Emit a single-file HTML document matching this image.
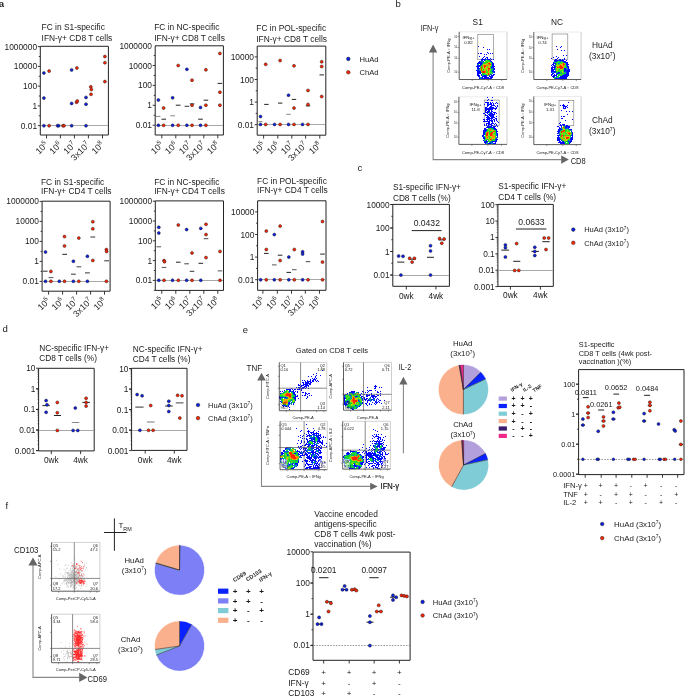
<!DOCTYPE html>
<html><head><meta charset="utf-8"><style>
html,body{margin:0;padding:0;background:#fff;}
svg{display:block;will-change:transform;filter:blur(0.3px);}
text{font-family:"Liberation Sans", sans-serif;fill:#1a1a1a;}
</style></head><body>
<svg width="685" height="697" viewBox="0 0 685 697">
<rect width="685" height="697" fill="#fff"/>
<text x="-1.2" y="7.2" font-size="9.6" font-weight="bold">a</text>
<path d="M40.3 46.3H108.4V135H40.3Z" fill="none" stroke="#222" stroke-width="1"/>
<line x1="37.8" y1="125.66" x2="40.3" y2="125.66" stroke="#222" stroke-width="0.9"/>
<line x1="38.8" y1="115.78" x2="40.3" y2="115.78" stroke="#222" stroke-width="0.9"/>
<line x1="37.8" y1="105.9" x2="40.3" y2="105.9" stroke="#222" stroke-width="0.9"/>
<line x1="38.8" y1="96.02" x2="40.3" y2="96.02" stroke="#222" stroke-width="0.9"/>
<line x1="37.8" y1="86.14" x2="40.3" y2="86.14" stroke="#222" stroke-width="0.9"/>
<line x1="38.8" y1="76.26" x2="40.3" y2="76.26" stroke="#222" stroke-width="0.9"/>
<line x1="37.8" y1="66.38" x2="40.3" y2="66.38" stroke="#222" stroke-width="0.9"/>
<line x1="38.8" y1="56.5" x2="40.3" y2="56.5" stroke="#222" stroke-width="0.9"/>
<line x1="37.8" y1="46.62" x2="40.3" y2="46.62" stroke="#222" stroke-width="0.9"/>
<text x="37.1" y="49.62" font-size="8.4" text-anchor="end">1000000</text>
<text x="37.1" y="69.38" font-size="8.4" text-anchor="end">10000</text>
<text x="37.1" y="89.14" font-size="8.4" text-anchor="end">100</text>
<text x="37.1" y="108.9" font-size="8.4" text-anchor="end">1</text>
<text x="37.1" y="128.66" font-size="8.4" text-anchor="end">0.01</text>
<line x1="40.8" y1="125.5" x2="107.9" y2="125.5" stroke="#8c8c8c" stroke-width="0.75"/>
<line x1="46.5" y1="135" x2="46.5" y2="138.4" stroke="#222" stroke-width="0.9"/>
<line x1="60.4" y1="135" x2="60.4" y2="138.4" stroke="#222" stroke-width="0.9"/>
<line x1="74.4" y1="135" x2="74.4" y2="138.4" stroke="#222" stroke-width="0.9"/>
<line x1="88.4" y1="135" x2="88.4" y2="138.4" stroke="#222" stroke-width="0.9"/>
<line x1="102.5" y1="135" x2="102.5" y2="138.4" stroke="#222" stroke-width="0.9"/>
<text x="48.5" y="145.3" font-size="8.8" text-anchor="end" transform="rotate(-45 48.5 145.3)">10<tspan dy="-3.4" font-size="6.2">5</tspan></text>
<text x="62.4" y="145.3" font-size="8.8" text-anchor="end" transform="rotate(-45 62.4 145.3)">10<tspan dy="-3.4" font-size="6.2">6</tspan></text>
<text x="76.4" y="145.3" font-size="8.8" text-anchor="end" transform="rotate(-45 76.4 145.3)">10<tspan dy="-3.4" font-size="6.2">7</tspan></text>
<text x="90.4" y="145.3" font-size="8.8" text-anchor="end" transform="rotate(-45 90.4 145.3)">3x10<tspan dy="-3.4" font-size="6.2">7</tspan></text>
<text x="104.5" y="145.3" font-size="8.8" text-anchor="end" transform="rotate(-45 104.5 145.3)">10<tspan dy="-3.4" font-size="6.2">8</tspan></text>
<text x="41.6" y="29.8" font-size="8.4">FC in S1-specific</text>
<text x="41.6" y="40.7" font-size="8.4">IFN-γ+ CD8 T cells</text>
<circle cx="43.9" cy="73" r="1.5" fill="#0a1ee6" stroke="#202020" stroke-width="0.5"/>
<circle cx="43.9" cy="98.1" r="1.5" fill="#0a1ee6" stroke="#202020" stroke-width="0.5"/>
<circle cx="43.9" cy="125.7" r="1.5" fill="#0a1ee6" stroke="#202020" stroke-width="0.5"/>
<circle cx="49.1" cy="71.1" r="1.5" fill="#ff2200" stroke="#202020" stroke-width="0.5"/>
<circle cx="49.1" cy="125.7" r="1.5" fill="#ff2200" stroke="#202020" stroke-width="0.5"/>
<circle cx="57.6" cy="125.7" r="1.5" fill="#0a1ee6" stroke="#202020" stroke-width="0.5"/>
<circle cx="58.6" cy="125.7" r="1.5" fill="#0a1ee6" stroke="#202020" stroke-width="0.5"/>
<circle cx="63" cy="125.7" r="1.5" fill="#ff2200" stroke="#202020" stroke-width="0.5"/>
<circle cx="64" cy="125.7" r="1.5" fill="#ff2200" stroke="#202020" stroke-width="0.5"/>
<circle cx="71.6" cy="69.9" r="1.5" fill="#0a1ee6" stroke="#202020" stroke-width="0.5"/>
<circle cx="71.6" cy="103.4" r="1.5" fill="#0a1ee6" stroke="#202020" stroke-width="0.5"/>
<circle cx="71.6" cy="125.7" r="1.5" fill="#0a1ee6" stroke="#202020" stroke-width="0.5"/>
<circle cx="76.9" cy="68" r="1.5" fill="#ff2200" stroke="#202020" stroke-width="0.5"/>
<circle cx="76.6" cy="102.2" r="1.5" fill="#ff2200" stroke="#202020" stroke-width="0.5"/>
<circle cx="77.3" cy="101" r="1.5" fill="#ff2200" stroke="#202020" stroke-width="0.5"/>
<circle cx="86" cy="97.4" r="1.5" fill="#0a1ee6" stroke="#202020" stroke-width="0.5"/>
<circle cx="86" cy="104.2" r="1.5" fill="#0a1ee6" stroke="#202020" stroke-width="0.5"/>
<circle cx="86" cy="125.7" r="1.5" fill="#0a1ee6" stroke="#202020" stroke-width="0.5"/>
<circle cx="90.8" cy="86.8" r="1.5" fill="#ff2200" stroke="#202020" stroke-width="0.5"/>
<circle cx="91.3" cy="89.5" r="1.5" fill="#ff2200" stroke="#202020" stroke-width="0.5"/>
<circle cx="91" cy="94.3" r="1.5" fill="#ff2200" stroke="#202020" stroke-width="0.5"/>
<circle cx="104.9" cy="56.5" r="1.5" fill="#ff2200" stroke="#202020" stroke-width="0.5"/>
<circle cx="104.9" cy="62.7" r="1.5" fill="#ff2200" stroke="#202020" stroke-width="0.5"/>
<circle cx="104.9" cy="81.6" r="1.5" fill="#ff2200" stroke="#202020" stroke-width="0.5"/>
<path d="M155.2 45.8H223.4V135H155.2Z" fill="none" stroke="#222" stroke-width="1"/>
<line x1="152.7" y1="125.2" x2="155.2" y2="125.2" stroke="#222" stroke-width="0.9"/>
<line x1="153.7" y1="115.25" x2="155.2" y2="115.25" stroke="#222" stroke-width="0.9"/>
<line x1="152.7" y1="105.3" x2="155.2" y2="105.3" stroke="#222" stroke-width="0.9"/>
<line x1="153.7" y1="95.35" x2="155.2" y2="95.35" stroke="#222" stroke-width="0.9"/>
<line x1="152.7" y1="85.4" x2="155.2" y2="85.4" stroke="#222" stroke-width="0.9"/>
<line x1="153.7" y1="75.45" x2="155.2" y2="75.45" stroke="#222" stroke-width="0.9"/>
<line x1="152.7" y1="65.5" x2="155.2" y2="65.5" stroke="#222" stroke-width="0.9"/>
<line x1="153.7" y1="55.55" x2="155.2" y2="55.55" stroke="#222" stroke-width="0.9"/>
<text x="152" y="48.6" font-size="8.4" text-anchor="end">1000000</text>
<text x="152" y="68.5" font-size="8.4" text-anchor="end">10000</text>
<text x="152" y="88.4" font-size="8.4" text-anchor="end">100</text>
<text x="152" y="108.3" font-size="8.4" text-anchor="end">1</text>
<text x="152" y="128.2" font-size="8.4" text-anchor="end">0.01</text>
<line x1="155.7" y1="125.5" x2="222.9" y2="125.5" stroke="#8c8c8c" stroke-width="0.75"/>
<line x1="161.8" y1="135" x2="161.8" y2="138.4" stroke="#222" stroke-width="0.9"/>
<line x1="175.8" y1="135" x2="175.8" y2="138.4" stroke="#222" stroke-width="0.9"/>
<line x1="189.8" y1="135" x2="189.8" y2="138.4" stroke="#222" stroke-width="0.9"/>
<line x1="203.8" y1="135" x2="203.8" y2="138.4" stroke="#222" stroke-width="0.9"/>
<line x1="217.8" y1="135" x2="217.8" y2="138.4" stroke="#222" stroke-width="0.9"/>
<text x="163.8" y="145.3" font-size="8.8" text-anchor="end" transform="rotate(-45 163.8 145.3)">10<tspan dy="-3.4" font-size="6.2">5</tspan></text>
<text x="177.8" y="145.3" font-size="8.8" text-anchor="end" transform="rotate(-45 177.8 145.3)">10<tspan dy="-3.4" font-size="6.2">6</tspan></text>
<text x="191.8" y="145.3" font-size="8.8" text-anchor="end" transform="rotate(-45 191.8 145.3)">10<tspan dy="-3.4" font-size="6.2">7</tspan></text>
<text x="205.8" y="145.3" font-size="8.8" text-anchor="end" transform="rotate(-45 205.8 145.3)">3x10<tspan dy="-3.4" font-size="6.2">7</tspan></text>
<text x="219.8" y="145.3" font-size="8.8" text-anchor="end" transform="rotate(-45 219.8 145.3)">10<tspan dy="-3.4" font-size="6.2">8</tspan></text>
<text x="154.2" y="29.6" font-size="8.4">FC in NC-specific</text>
<text x="154.2" y="40.5" font-size="8.4">IFN-γ+ CD8 T cells</text>
<line x1="156" y1="116.4" x2="160.5" y2="116.4" stroke="#888" stroke-width="1"/>
<line x1="161.5" y1="119.2" x2="166" y2="119.2" stroke="#222" stroke-width="1"/>
<line x1="170.4" y1="115.8" x2="175" y2="115.8" stroke="#888" stroke-width="1"/>
<line x1="175.8" y1="105.2" x2="180.5" y2="105.2" stroke="#222" stroke-width="1"/>
<line x1="184.6" y1="106.3" x2="189.2" y2="106.3" stroke="#333" stroke-width="1"/>
<line x1="189.8" y1="103.9" x2="194.4" y2="103.9" stroke="#333" stroke-width="1"/>
<line x1="198.2" y1="119.2" x2="202.8" y2="119.2" stroke="#222" stroke-width="1"/>
<line x1="203.6" y1="100.2" x2="208.2" y2="100.2" stroke="#222" stroke-width="1"/>
<line x1="217.6" y1="83.4" x2="222.2" y2="83.4" stroke="#222" stroke-width="1"/>
<circle cx="158.4" cy="100" r="1.5" fill="#0a1ee6" stroke="#202020" stroke-width="0.5"/>
<circle cx="158.4" cy="125.3" r="1.5" fill="#0a1ee6" stroke="#202020" stroke-width="0.5"/>
<circle cx="163.6" cy="108" r="1.5" fill="#ff2200" stroke="#202020" stroke-width="0.5"/>
<circle cx="163.6" cy="125.3" r="1.5" fill="#ff2200" stroke="#202020" stroke-width="0.5"/>
<circle cx="172.6" cy="97.8" r="1.5" fill="#0a1ee6" stroke="#202020" stroke-width="0.5"/>
<circle cx="172.6" cy="125.3" r="1.5" fill="#0a1ee6" stroke="#202020" stroke-width="0.5"/>
<circle cx="178.2" cy="65.5" r="1.5" fill="#ff2200" stroke="#202020" stroke-width="0.5"/>
<circle cx="178.2" cy="125.3" r="1.5" fill="#ff2200" stroke="#202020" stroke-width="0.5"/>
<circle cx="186.9" cy="69.3" r="1.5" fill="#0a1ee6" stroke="#202020" stroke-width="0.5"/>
<circle cx="186.9" cy="125.3" r="1.5" fill="#0a1ee6" stroke="#202020" stroke-width="0.5"/>
<circle cx="192" cy="80.2" r="1.5" fill="#ff2200" stroke="#202020" stroke-width="0.5"/>
<circle cx="192" cy="105.2" r="1.5" fill="#ff2200" stroke="#202020" stroke-width="0.5"/>
<circle cx="192" cy="125.3" r="1.5" fill="#ff2200" stroke="#202020" stroke-width="0.5"/>
<circle cx="200.5" cy="107.4" r="1.5" fill="#0a1ee6" stroke="#202020" stroke-width="0.5"/>
<circle cx="200.5" cy="125.3" r="1.5" fill="#0a1ee6" stroke="#202020" stroke-width="0.5"/>
<circle cx="205.9" cy="69.8" r="1.5" fill="#ff2200" stroke="#202020" stroke-width="0.5"/>
<circle cx="205.9" cy="105.2" r="1.5" fill="#ff2200" stroke="#202020" stroke-width="0.5"/>
<circle cx="205.9" cy="125.3" r="1.5" fill="#ff2200" stroke="#202020" stroke-width="0.5"/>
<circle cx="219.9" cy="53.4" r="1.5" fill="#ff2200" stroke="#202020" stroke-width="0.5"/>
<circle cx="219.9" cy="92.2" r="1.5" fill="#ff2200" stroke="#202020" stroke-width="0.5"/>
<circle cx="219.9" cy="105.2" r="1.5" fill="#ff2200" stroke="#202020" stroke-width="0.5"/>
<path d="M257.2 46.1H325.8V135.2H257.2Z" fill="none" stroke="#222" stroke-width="1"/>
<line x1="254.7" y1="124.7" x2="257.2" y2="124.7" stroke="#222" stroke-width="0.9"/>
<line x1="255.7" y1="113.4" x2="257.2" y2="113.4" stroke="#222" stroke-width="0.9"/>
<line x1="254.7" y1="102.1" x2="257.2" y2="102.1" stroke="#222" stroke-width="0.9"/>
<line x1="255.7" y1="90.8" x2="257.2" y2="90.8" stroke="#222" stroke-width="0.9"/>
<line x1="254.7" y1="79.5" x2="257.2" y2="79.5" stroke="#222" stroke-width="0.9"/>
<line x1="255.7" y1="68.2" x2="257.2" y2="68.2" stroke="#222" stroke-width="0.9"/>
<line x1="254.7" y1="56.9" x2="257.2" y2="56.9" stroke="#222" stroke-width="0.9"/>
<text x="254" y="59.9" font-size="8.4" text-anchor="end">10000</text>
<text x="254" y="82.5" font-size="8.4" text-anchor="end">100</text>
<text x="254" y="105.1" font-size="8.4" text-anchor="end">1</text>
<text x="254" y="127.7" font-size="8.4" text-anchor="end">0.01</text>
<line x1="257.7" y1="124.5" x2="325.3" y2="124.5" stroke="#8c8c8c" stroke-width="0.75"/>
<line x1="263.6" y1="135.2" x2="263.6" y2="138.6" stroke="#222" stroke-width="0.9"/>
<line x1="277.8" y1="135.2" x2="277.8" y2="138.6" stroke="#222" stroke-width="0.9"/>
<line x1="291.8" y1="135.2" x2="291.8" y2="138.6" stroke="#222" stroke-width="0.9"/>
<line x1="305.6" y1="135.2" x2="305.6" y2="138.6" stroke="#222" stroke-width="0.9"/>
<line x1="319.8" y1="135.2" x2="319.8" y2="138.6" stroke="#222" stroke-width="0.9"/>
<text x="265.6" y="145.5" font-size="8.8" text-anchor="end" transform="rotate(-45 265.6 145.5)">10<tspan dy="-3.4" font-size="6.2">5</tspan></text>
<text x="279.8" y="145.5" font-size="8.8" text-anchor="end" transform="rotate(-45 279.8 145.5)">10<tspan dy="-3.4" font-size="6.2">6</tspan></text>
<text x="293.8" y="145.5" font-size="8.8" text-anchor="end" transform="rotate(-45 293.8 145.5)">10<tspan dy="-3.4" font-size="6.2">7</tspan></text>
<text x="307.6" y="145.5" font-size="8.8" text-anchor="end" transform="rotate(-45 307.6 145.5)">3x10<tspan dy="-3.4" font-size="6.2">7</tspan></text>
<text x="321.8" y="145.5" font-size="8.8" text-anchor="end" transform="rotate(-45 321.8 145.5)">10<tspan dy="-3.4" font-size="6.2">8</tspan></text>
<text x="256.3" y="31.4" font-size="8.4">FC in POL-specific</text>
<text x="256.3" y="42.2" font-size="8.4">IFN-γ+ CD8 T cells</text>
<line x1="258.5" y1="121.6" x2="262.5" y2="121.6" stroke="#888" stroke-width="1"/>
<line x1="264.2" y1="104.4" x2="268.6" y2="104.4" stroke="#222" stroke-width="1"/>
<line x1="278" y1="103.1" x2="282.4" y2="103.1" stroke="#222" stroke-width="1"/>
<line x1="286.3" y1="114.3" x2="290.7" y2="114.3" stroke="#888" stroke-width="1"/>
<line x1="291.8" y1="99.4" x2="296.2" y2="99.4" stroke="#222" stroke-width="1"/>
<line x1="305.8" y1="105.9" x2="310.2" y2="105.9" stroke="#222" stroke-width="1"/>
<line x1="319.5" y1="74.9" x2="323.9" y2="74.9" stroke="#222" stroke-width="1"/>
<circle cx="260.5" cy="116.5" r="1.5" fill="#0a1ee6" stroke="#202020" stroke-width="0.5"/>
<circle cx="260.5" cy="124.4" r="1.5" fill="#0a1ee6" stroke="#202020" stroke-width="0.5"/>
<circle cx="265.7" cy="64.3" r="1.5" fill="#ff2200" stroke="#202020" stroke-width="0.5"/>
<circle cx="265.7" cy="124.4" r="1.5" fill="#ff2200" stroke="#202020" stroke-width="0.5"/>
<circle cx="274.5" cy="124.4" r="1.5" fill="#0a1ee6" stroke="#202020" stroke-width="0.5"/>
<circle cx="280.1" cy="60.5" r="1.5" fill="#ff2200" stroke="#202020" stroke-width="0.5"/>
<circle cx="280.1" cy="124.4" r="1.5" fill="#ff2200" stroke="#202020" stroke-width="0.5"/>
<circle cx="288.5" cy="95.2" r="1.5" fill="#0a1ee6" stroke="#202020" stroke-width="0.5"/>
<circle cx="288.5" cy="124.4" r="1.5" fill="#0a1ee6" stroke="#202020" stroke-width="0.5"/>
<circle cx="294" cy="65.8" r="1.5" fill="#ff2200" stroke="#202020" stroke-width="0.5"/>
<circle cx="294" cy="108.1" r="1.5" fill="#ff2200" stroke="#202020" stroke-width="0.5"/>
<circle cx="294" cy="124.4" r="1.5" fill="#ff2200" stroke="#202020" stroke-width="0.5"/>
<circle cx="302.5" cy="124.4" r="1.5" fill="#0a1ee6" stroke="#202020" stroke-width="0.5"/>
<circle cx="308" cy="90.4" r="1.5" fill="#ff2200" stroke="#202020" stroke-width="0.5"/>
<circle cx="308" cy="104.4" r="1.5" fill="#ff2200" stroke="#202020" stroke-width="0.5"/>
<circle cx="308" cy="124.4" r="1.5" fill="#ff2200" stroke="#202020" stroke-width="0.5"/>
<circle cx="321.7" cy="61.8" r="1.5" fill="#ff2200" stroke="#202020" stroke-width="0.5"/>
<circle cx="321.7" cy="66.5" r="1.5" fill="#ff2200" stroke="#202020" stroke-width="0.5"/>
<circle cx="321.7" cy="96.5" r="1.5" fill="#ff2200" stroke="#202020" stroke-width="0.5"/>
<circle cx="348.3" cy="58.9" r="1.8" fill="#0a1ee6" stroke="#202020" stroke-width="0.5"/>
<circle cx="348.3" cy="72.3" r="1.8" fill="#ff2200" stroke="#202020" stroke-width="0.5"/>
<text x="359.6" y="61.7" font-size="7.6">HuAd</text>
<text x="359.6" y="75.1" font-size="7.6">ChAd</text>
<path d="M42.1 201.2H110.1V291.2H42.1Z" fill="none" stroke="#222" stroke-width="1"/>
<line x1="39.6" y1="281.4" x2="42.1" y2="281.4" stroke="#222" stroke-width="0.9"/>
<line x1="40.6" y1="271.4" x2="42.1" y2="271.4" stroke="#222" stroke-width="0.9"/>
<line x1="39.6" y1="261.4" x2="42.1" y2="261.4" stroke="#222" stroke-width="0.9"/>
<line x1="40.6" y1="251.4" x2="42.1" y2="251.4" stroke="#222" stroke-width="0.9"/>
<line x1="39.6" y1="241.4" x2="42.1" y2="241.4" stroke="#222" stroke-width="0.9"/>
<line x1="40.6" y1="231.4" x2="42.1" y2="231.4" stroke="#222" stroke-width="0.9"/>
<line x1="39.6" y1="221.4" x2="42.1" y2="221.4" stroke="#222" stroke-width="0.9"/>
<line x1="40.6" y1="211.4" x2="42.1" y2="211.4" stroke="#222" stroke-width="0.9"/>
<line x1="39.6" y1="201.4" x2="42.1" y2="201.4" stroke="#222" stroke-width="0.9"/>
<text x="38.9" y="204.4" font-size="8.4" text-anchor="end">1000000</text>
<text x="38.9" y="224.4" font-size="8.4" text-anchor="end">10000</text>
<text x="38.9" y="244.4" font-size="8.4" text-anchor="end">100</text>
<text x="38.9" y="264.4" font-size="8.4" text-anchor="end">1</text>
<text x="38.9" y="284.4" font-size="8.4" text-anchor="end">0.01</text>
<line x1="42.6" y1="281.5" x2="109.6" y2="281.5" stroke="#8c8c8c" stroke-width="0.75"/>
<line x1="48.6" y1="291.2" x2="48.6" y2="294.6" stroke="#222" stroke-width="0.9"/>
<line x1="62.6" y1="291.2" x2="62.6" y2="294.6" stroke="#222" stroke-width="0.9"/>
<line x1="76.6" y1="291.2" x2="76.6" y2="294.6" stroke="#222" stroke-width="0.9"/>
<line x1="90.6" y1="291.2" x2="90.6" y2="294.6" stroke="#222" stroke-width="0.9"/>
<line x1="104.5" y1="291.2" x2="104.5" y2="294.6" stroke="#222" stroke-width="0.9"/>
<text x="50.6" y="301.5" font-size="8.8" text-anchor="end" transform="rotate(-45 50.6 301.5)">10<tspan dy="-3.4" font-size="6.2">5</tspan></text>
<text x="64.6" y="301.5" font-size="8.8" text-anchor="end" transform="rotate(-45 64.6 301.5)">10<tspan dy="-3.4" font-size="6.2">6</tspan></text>
<text x="78.6" y="301.5" font-size="8.8" text-anchor="end" transform="rotate(-45 78.6 301.5)">10<tspan dy="-3.4" font-size="6.2">7</tspan></text>
<text x="92.6" y="301.5" font-size="8.8" text-anchor="end" transform="rotate(-45 92.6 301.5)">3x10<tspan dy="-3.4" font-size="6.2">7</tspan></text>
<text x="106.5" y="301.5" font-size="8.8" text-anchor="end" transform="rotate(-45 106.5 301.5)">10<tspan dy="-3.4" font-size="6.2">8</tspan></text>
<text x="40.9" y="184.5" font-size="8.4">FC in S1-specific</text>
<text x="40.9" y="194.1" font-size="8.4">IFN-γ+ CD4 T cells</text>
<line x1="42.8" y1="271.2" x2="47.6" y2="271.2" stroke="#333" stroke-width="1"/>
<line x1="48.6" y1="277.6" x2="53.4" y2="277.6" stroke="#555" stroke-width="1"/>
<line x1="62.3" y1="254.3" x2="67" y2="254.3" stroke="#222" stroke-width="1"/>
<line x1="71" y1="274.2" x2="75.8" y2="274.2" stroke="#333" stroke-width="1"/>
<line x1="76.5" y1="266.8" x2="81.2" y2="266.8" stroke="#444" stroke-width="1"/>
<line x1="85" y1="272.9" x2="89.8" y2="272.9" stroke="#333" stroke-width="1"/>
<line x1="90.4" y1="237" x2="95.2" y2="237" stroke="#333" stroke-width="1"/>
<line x1="104.2" y1="260.8" x2="109" y2="260.8" stroke="#333" stroke-width="1"/>
<circle cx="45.5" cy="252" r="1.5" fill="#0a1ee6" stroke="#202020" stroke-width="0.5"/>
<circle cx="45.5" cy="281.3" r="1.5" fill="#0a1ee6" stroke="#202020" stroke-width="0.5"/>
<circle cx="50.9" cy="271.4" r="1.5" fill="#ff2200" stroke="#202020" stroke-width="0.5"/>
<circle cx="50.9" cy="281.3" r="1.5" fill="#ff2200" stroke="#202020" stroke-width="0.5"/>
<circle cx="59.3" cy="281.3" r="1.5" fill="#0a1ee6" stroke="#202020" stroke-width="0.5"/>
<circle cx="64.5" cy="236.6" r="1.5" fill="#ff2200" stroke="#202020" stroke-width="0.5"/>
<circle cx="64.5" cy="245.9" r="1.5" fill="#ff2200" stroke="#202020" stroke-width="0.5"/>
<circle cx="64.5" cy="281.3" r="1.5" fill="#ff2200" stroke="#202020" stroke-width="0.5"/>
<circle cx="73.4" cy="261.2" r="1.5" fill="#0a1ee6" stroke="#202020" stroke-width="0.5"/>
<circle cx="73.4" cy="281.3" r="1.5" fill="#0a1ee6" stroke="#202020" stroke-width="0.5"/>
<circle cx="78.8" cy="238.1" r="1.5" fill="#ff2200" stroke="#202020" stroke-width="0.5"/>
<circle cx="78.8" cy="281.3" r="1.5" fill="#ff2200" stroke="#202020" stroke-width="0.5"/>
<circle cx="87.4" cy="256.3" r="1.5" fill="#0a1ee6" stroke="#202020" stroke-width="0.5"/>
<circle cx="87.4" cy="281.3" r="1.5" fill="#0a1ee6" stroke="#202020" stroke-width="0.5"/>
<circle cx="92.8" cy="221.7" r="1.5" fill="#ff2200" stroke="#202020" stroke-width="0.5"/>
<circle cx="92.8" cy="228.8" r="1.5" fill="#ff2200" stroke="#202020" stroke-width="0.5"/>
<circle cx="92.8" cy="260.4" r="1.5" fill="#ff2200" stroke="#202020" stroke-width="0.5"/>
<circle cx="106.4" cy="249.6" r="1.5" fill="#ff2200" stroke="#202020" stroke-width="0.5"/>
<circle cx="106.6" cy="251.5" r="1.5" fill="#ff2200" stroke="#202020" stroke-width="0.5"/>
<circle cx="106.4" cy="281.3" r="1.5" fill="#ff2200" stroke="#202020" stroke-width="0.5"/>
<path d="M155.3 200.9H223.5V290.4H155.3Z" fill="none" stroke="#222" stroke-width="1"/>
<line x1="153.8" y1="290.3" x2="155.3" y2="290.3" stroke="#222" stroke-width="0.9"/>
<line x1="152.8" y1="280.4" x2="155.3" y2="280.4" stroke="#222" stroke-width="0.9"/>
<line x1="153.8" y1="270.5" x2="155.3" y2="270.5" stroke="#222" stroke-width="0.9"/>
<line x1="152.8" y1="260.6" x2="155.3" y2="260.6" stroke="#222" stroke-width="0.9"/>
<line x1="153.8" y1="250.7" x2="155.3" y2="250.7" stroke="#222" stroke-width="0.9"/>
<line x1="152.8" y1="240.8" x2="155.3" y2="240.8" stroke="#222" stroke-width="0.9"/>
<line x1="153.8" y1="230.9" x2="155.3" y2="230.9" stroke="#222" stroke-width="0.9"/>
<line x1="152.8" y1="221" x2="155.3" y2="221" stroke="#222" stroke-width="0.9"/>
<line x1="153.8" y1="211.1" x2="155.3" y2="211.1" stroke="#222" stroke-width="0.9"/>
<line x1="152.8" y1="201.2" x2="155.3" y2="201.2" stroke="#222" stroke-width="0.9"/>
<text x="152.1" y="204.2" font-size="8.4" text-anchor="end">1000000</text>
<text x="152.1" y="224" font-size="8.4" text-anchor="end">10000</text>
<text x="152.1" y="243.8" font-size="8.4" text-anchor="end">100</text>
<text x="152.1" y="263.6" font-size="8.4" text-anchor="end">1</text>
<text x="152.1" y="283.4" font-size="8.4" text-anchor="end">0.01</text>
<line x1="155.8" y1="280.5" x2="223" y2="280.5" stroke="#8c8c8c" stroke-width="0.75"/>
<line x1="161.8" y1="290.4" x2="161.8" y2="293.8" stroke="#222" stroke-width="0.9"/>
<line x1="175.8" y1="290.4" x2="175.8" y2="293.8" stroke="#222" stroke-width="0.9"/>
<line x1="189.8" y1="290.4" x2="189.8" y2="293.8" stroke="#222" stroke-width="0.9"/>
<line x1="203.8" y1="290.4" x2="203.8" y2="293.8" stroke="#222" stroke-width="0.9"/>
<line x1="217.8" y1="290.4" x2="217.8" y2="293.8" stroke="#222" stroke-width="0.9"/>
<text x="163.8" y="300.7" font-size="8.8" text-anchor="end" transform="rotate(-45 163.8 300.7)">10<tspan dy="-3.4" font-size="6.2">5</tspan></text>
<text x="177.8" y="300.7" font-size="8.8" text-anchor="end" transform="rotate(-45 177.8 300.7)">10<tspan dy="-3.4" font-size="6.2">6</tspan></text>
<text x="191.8" y="300.7" font-size="8.8" text-anchor="end" transform="rotate(-45 191.8 300.7)">10<tspan dy="-3.4" font-size="6.2">7</tspan></text>
<text x="205.8" y="300.7" font-size="8.8" text-anchor="end" transform="rotate(-45 205.8 300.7)">3x10<tspan dy="-3.4" font-size="6.2">7</tspan></text>
<text x="219.8" y="300.7" font-size="8.8" text-anchor="end" transform="rotate(-45 219.8 300.7)">10<tspan dy="-3.4" font-size="6.2">8</tspan></text>
<text x="154.2" y="184.6" font-size="8.4">FC in NC-specific</text>
<text x="154.2" y="194" font-size="8.4">IFN-γ+ CD4 T cells</text>
<line x1="156.5" y1="246.8" x2="161.1" y2="246.8" stroke="#555" stroke-width="1"/>
<line x1="161.7" y1="267.4" x2="166.3" y2="267.4" stroke="#555" stroke-width="1"/>
<line x1="176" y1="262.2" x2="180.6" y2="262.2" stroke="#222" stroke-width="1"/>
<line x1="184.3" y1="263.8" x2="188.9" y2="263.8" stroke="#444" stroke-width="1"/>
<line x1="189.7" y1="271.3" x2="194.3" y2="271.3" stroke="#333" stroke-width="1"/>
<line x1="198.5" y1="263.3" x2="203.1" y2="263.3" stroke="#222" stroke-width="1"/>
<line x1="203.7" y1="238.7" x2="208.3" y2="238.7" stroke="#444" stroke-width="1"/>
<line x1="217.7" y1="270.9" x2="222.3" y2="270.9" stroke="#555" stroke-width="1"/>
<circle cx="158.8" cy="227.3" r="1.5" fill="#0a1ee6" stroke="#202020" stroke-width="0.5"/>
<circle cx="158.8" cy="233" r="1.5" fill="#0a1ee6" stroke="#202020" stroke-width="0.5"/>
<circle cx="158.8" cy="280.3" r="1.5" fill="#0a1ee6" stroke="#202020" stroke-width="0.5"/>
<circle cx="164" cy="260.6" r="1.5" fill="#ff2200" stroke="#202020" stroke-width="0.5"/>
<circle cx="164.5" cy="261.7" r="1.5" fill="#ff2200" stroke="#202020" stroke-width="0.5"/>
<circle cx="164" cy="280.3" r="1.5" fill="#ff2200" stroke="#202020" stroke-width="0.5"/>
<circle cx="172.5" cy="280.3" r="1.5" fill="#0a1ee6" stroke="#202020" stroke-width="0.5"/>
<circle cx="178.3" cy="225" r="1.5" fill="#ff2200" stroke="#202020" stroke-width="0.5"/>
<circle cx="178.3" cy="280.3" r="1.5" fill="#ff2200" stroke="#202020" stroke-width="0.5"/>
<circle cx="186.6" cy="229.6" r="1.5" fill="#0a1ee6" stroke="#202020" stroke-width="0.5"/>
<circle cx="186.6" cy="280.3" r="1.5" fill="#0a1ee6" stroke="#202020" stroke-width="0.5"/>
<circle cx="192" cy="253" r="1.5" fill="#ff2200" stroke="#202020" stroke-width="0.5"/>
<circle cx="192" cy="280.3" r="1.5" fill="#ff2200" stroke="#202020" stroke-width="0.5"/>
<circle cx="200.8" cy="228.4" r="1.5" fill="#0a1ee6" stroke="#202020" stroke-width="0.5"/>
<circle cx="200.8" cy="280.3" r="1.5" fill="#0a1ee6" stroke="#202020" stroke-width="0.5"/>
<circle cx="206" cy="224.3" r="1.5" fill="#ff2200" stroke="#202020" stroke-width="0.5"/>
<circle cx="206" cy="234.6" r="1.5" fill="#ff2200" stroke="#202020" stroke-width="0.5"/>
<circle cx="206" cy="257.6" r="1.5" fill="#ff2200" stroke="#202020" stroke-width="0.5"/>
<circle cx="220" cy="251.4" r="1.5" fill="#ff2200" stroke="#202020" stroke-width="0.5"/>
<circle cx="220" cy="280.3" r="1.5" fill="#ff2200" stroke="#202020" stroke-width="0.5"/>
<path d="M257.6 200.8H326V290.3H257.6Z" fill="none" stroke="#222" stroke-width="1"/>
<line x1="255.1" y1="279.7" x2="257.6" y2="279.7" stroke="#222" stroke-width="0.9"/>
<line x1="256.1" y1="268.4" x2="257.6" y2="268.4" stroke="#222" stroke-width="0.9"/>
<line x1="255.1" y1="257.1" x2="257.6" y2="257.1" stroke="#222" stroke-width="0.9"/>
<line x1="256.1" y1="245.8" x2="257.6" y2="245.8" stroke="#222" stroke-width="0.9"/>
<line x1="255.1" y1="234.5" x2="257.6" y2="234.5" stroke="#222" stroke-width="0.9"/>
<line x1="256.1" y1="223.2" x2="257.6" y2="223.2" stroke="#222" stroke-width="0.9"/>
<line x1="255.1" y1="211.9" x2="257.6" y2="211.9" stroke="#222" stroke-width="0.9"/>
<text x="254.4" y="214.9" font-size="8.4" text-anchor="end">10000</text>
<text x="254.4" y="237.5" font-size="8.4" text-anchor="end">100</text>
<text x="254.4" y="260.1" font-size="8.4" text-anchor="end">1</text>
<text x="254.4" y="282.7" font-size="8.4" text-anchor="end">0.01</text>
<line x1="258.1" y1="279.5" x2="325.5" y2="279.5" stroke="#8c8c8c" stroke-width="0.75"/>
<line x1="262.9" y1="290.3" x2="262.9" y2="293.7" stroke="#222" stroke-width="0.9"/>
<line x1="277.3" y1="290.3" x2="277.3" y2="293.7" stroke="#222" stroke-width="0.9"/>
<line x1="291.5" y1="290.3" x2="291.5" y2="293.7" stroke="#222" stroke-width="0.9"/>
<line x1="305.3" y1="290.3" x2="305.3" y2="293.7" stroke="#222" stroke-width="0.9"/>
<line x1="319.5" y1="290.3" x2="319.5" y2="293.7" stroke="#222" stroke-width="0.9"/>
<text x="264.9" y="300.6" font-size="8.8" text-anchor="end" transform="rotate(-45 264.9 300.6)">10<tspan dy="-3.4" font-size="6.2">5</tspan></text>
<text x="279.3" y="300.6" font-size="8.8" text-anchor="end" transform="rotate(-45 279.3 300.6)">10<tspan dy="-3.4" font-size="6.2">6</tspan></text>
<text x="293.5" y="300.6" font-size="8.8" text-anchor="end" transform="rotate(-45 293.5 300.6)">10<tspan dy="-3.4" font-size="6.2">7</tspan></text>
<text x="307.3" y="300.6" font-size="8.8" text-anchor="end" transform="rotate(-45 307.3 300.6)">3x10<tspan dy="-3.4" font-size="6.2">7</tspan></text>
<text x="321.5" y="300.6" font-size="8.8" text-anchor="end" transform="rotate(-45 321.5 300.6)">10<tspan dy="-3.4" font-size="6.2">8</tspan></text>
<text x="257.1" y="183.6" font-size="8.4">FC in POL-specific</text>
<text x="257.1" y="193.3" font-size="8.4">IFN-γ+ CD4 T cells</text>
<line x1="264" y1="253.4" x2="268.6" y2="253.4" stroke="#222" stroke-width="1"/>
<line x1="272" y1="264.9" x2="276.6" y2="264.9" stroke="#555" stroke-width="1"/>
<line x1="277.8" y1="255.2" x2="282.4" y2="255.2" stroke="#222" stroke-width="1"/>
<line x1="286.5" y1="272.4" x2="291.1" y2="272.4" stroke="#222" stroke-width="1"/>
<line x1="292" y1="269.7" x2="296.6" y2="269.7" stroke="#555" stroke-width="1"/>
<line x1="305.7" y1="261.7" x2="310.3" y2="261.7" stroke="#444" stroke-width="1"/>
<line x1="320.2" y1="254.1" x2="324.8" y2="254.1" stroke="#222" stroke-width="1"/>
<circle cx="260.6" cy="279.8" r="1.5" fill="#0a1ee6" stroke="#202020" stroke-width="0.5"/>
<circle cx="266.3" cy="231.1" r="1.5" fill="#ff2200" stroke="#202020" stroke-width="0.5"/>
<circle cx="266.3" cy="249.5" r="1.5" fill="#ff2200" stroke="#202020" stroke-width="0.5"/>
<circle cx="266.3" cy="279.8" r="1.5" fill="#ff2200" stroke="#202020" stroke-width="0.5"/>
<circle cx="274.3" cy="234.6" r="1.5" fill="#0a1ee6" stroke="#202020" stroke-width="0.5"/>
<circle cx="274.3" cy="279.8" r="1.5" fill="#0a1ee6" stroke="#202020" stroke-width="0.5"/>
<circle cx="280.1" cy="226.1" r="1.5" fill="#ff2200" stroke="#202020" stroke-width="0.5"/>
<circle cx="280.1" cy="260.5" r="1.5" fill="#ff2200" stroke="#202020" stroke-width="0.5"/>
<circle cx="280.1" cy="279.8" r="1.5" fill="#ff2200" stroke="#202020" stroke-width="0.5"/>
<circle cx="288.8" cy="257.1" r="1.5" fill="#0a1ee6" stroke="#202020" stroke-width="0.5"/>
<circle cx="288.8" cy="279.8" r="1.5" fill="#0a1ee6" stroke="#202020" stroke-width="0.5"/>
<circle cx="294.3" cy="249.5" r="1.5" fill="#ff2200" stroke="#202020" stroke-width="0.5"/>
<circle cx="294.3" cy="279.8" r="1.5" fill="#ff2200" stroke="#202020" stroke-width="0.5"/>
<circle cx="302.6" cy="251.8" r="1.5" fill="#0a1ee6" stroke="#202020" stroke-width="0.5"/>
<circle cx="302.6" cy="254.1" r="1.5" fill="#0a1ee6" stroke="#202020" stroke-width="0.5"/>
<circle cx="302.6" cy="279.8" r="1.5" fill="#0a1ee6" stroke="#202020" stroke-width="0.5"/>
<circle cx="308" cy="279.8" r="1.5" fill="#ff2200" stroke="#202020" stroke-width="0.5"/>
<circle cx="322.5" cy="221.5" r="1.5" fill="#ff2200" stroke="#202020" stroke-width="0.5"/>
<circle cx="322.5" cy="262.1" r="1.5" fill="#ff2200" stroke="#202020" stroke-width="0.5"/>
<circle cx="322.5" cy="279.8" r="1.5" fill="#ff2200" stroke="#202020" stroke-width="0.5"/>
<text x="357.6" y="170.8" font-size="9.6">c</text>
<path d="M392.8 204.4H449.4V286.3H392.8Z" fill="none" stroke="#222" stroke-width="1"/>
<line x1="390.3" y1="275" x2="392.8" y2="275" stroke="#222" stroke-width="0.9"/>
<line x1="391.3" y1="263.25" x2="392.8" y2="263.25" stroke="#222" stroke-width="0.9"/>
<line x1="390.3" y1="251.5" x2="392.8" y2="251.5" stroke="#222" stroke-width="0.9"/>
<line x1="391.3" y1="239.75" x2="392.8" y2="239.75" stroke="#222" stroke-width="0.9"/>
<line x1="390.3" y1="228" x2="392.8" y2="228" stroke="#222" stroke-width="0.9"/>
<line x1="391.3" y1="216.25" x2="392.8" y2="216.25" stroke="#222" stroke-width="0.9"/>
<line x1="390.3" y1="204.5" x2="392.8" y2="204.5" stroke="#222" stroke-width="0.9"/>
<line x1="390.3" y1="204.5" x2="392.8" y2="204.5" stroke="#222" stroke-width="0.9"/>
<text x="389.6" y="207.5" font-size="8.3" text-anchor="end">10000</text>
<line x1="390.3" y1="228" x2="392.8" y2="228" stroke="#222" stroke-width="0.9"/>
<text x="389.6" y="231" font-size="8.3" text-anchor="end">100</text>
<line x1="390.3" y1="251.5" x2="392.8" y2="251.5" stroke="#222" stroke-width="0.9"/>
<text x="389.6" y="254.5" font-size="8.3" text-anchor="end">1</text>
<line x1="390.3" y1="275" x2="392.8" y2="275" stroke="#222" stroke-width="0.9"/>
<text x="389.6" y="278" font-size="8.3" text-anchor="end">0.01</text>
<line x1="393.3" y1="275.5" x2="448.9" y2="275.5" stroke="#8c8c8c" stroke-width="0.75"/>
<line x1="406.3" y1="286.3" x2="406.3" y2="289.5" stroke="#222" stroke-width="0.9"/>
<line x1="435.9" y1="286.3" x2="435.9" y2="289.5" stroke="#222" stroke-width="0.9"/>
<text x="406.3" y="298.9" font-size="8.3" text-anchor="middle">0wk</text>
<text x="435.9" y="298.9" font-size="8.3" text-anchor="middle">4wk</text>
<text x="392.9" y="189.6" font-size="8.3">S1-specific IFN-γ+</text>
<text x="392.9" y="201.2" font-size="8.3">CD8 T cells (%)</text>
<text x="426.8" y="226.3" font-size="8.6" text-anchor="middle">0.0432</text>
<line x1="411.7" y1="230.6" x2="441.6" y2="230.6" stroke="#222" stroke-width="1"/>
<line x1="397.2" y1="262.1" x2="404.4" y2="262.1" stroke="#222" stroke-width="1"/>
<line x1="409.2" y1="259.2" x2="415.8" y2="259.2" stroke="#222" stroke-width="1"/>
<line x1="427" y1="257.3" x2="434" y2="257.3" stroke="#222" stroke-width="1"/>
<line x1="438.6" y1="239.9" x2="445.2" y2="239.9" stroke="#222" stroke-width="1"/>
<circle cx="398.6" cy="256" r="1.5" fill="#0a1ee6" stroke="#202020" stroke-width="0.5"/>
<circle cx="403" cy="256.3" r="1.5" fill="#0a1ee6" stroke="#202020" stroke-width="0.5"/>
<circle cx="400.9" cy="275.1" r="1.5" fill="#0a1ee6" stroke="#202020" stroke-width="0.5"/>
<circle cx="409.6" cy="258.3" r="1.5" fill="#ff2200" stroke="#202020" stroke-width="0.5"/>
<circle cx="414.4" cy="258.3" r="1.5" fill="#ff2200" stroke="#202020" stroke-width="0.5"/>
<circle cx="412.1" cy="262.1" r="1.5" fill="#ff2200" stroke="#202020" stroke-width="0.5"/>
<circle cx="430.5" cy="245.7" r="1.5" fill="#0a1ee6" stroke="#202020" stroke-width="0.5"/>
<circle cx="430.5" cy="250.9" r="1.5" fill="#0a1ee6" stroke="#202020" stroke-width="0.5"/>
<circle cx="430.5" cy="275.1" r="1.5" fill="#0a1ee6" stroke="#202020" stroke-width="0.5"/>
<circle cx="439.6" cy="238.5" r="1.5" fill="#ff2200" stroke="#202020" stroke-width="0.5"/>
<circle cx="444.1" cy="238.9" r="1.5" fill="#ff2200" stroke="#202020" stroke-width="0.5"/>
<circle cx="441.8" cy="243.2" r="1.5" fill="#ff2200" stroke="#202020" stroke-width="0.5"/>
<path d="M497.9 204.4H553.3V286.4H497.9Z" fill="none" stroke="#222" stroke-width="1"/>
<line x1="495.4" y1="204.6" x2="497.9" y2="204.6" stroke="#222" stroke-width="0.9"/>
<text x="494.7" y="207.6" font-size="8.3" text-anchor="end">100</text>
<line x1="495.4" y1="221" x2="497.9" y2="221" stroke="#222" stroke-width="0.9"/>
<text x="494.7" y="224" font-size="8.3" text-anchor="end">10</text>
<line x1="495.4" y1="237.4" x2="497.9" y2="237.4" stroke="#222" stroke-width="0.9"/>
<text x="494.7" y="240.4" font-size="8.3" text-anchor="end">1</text>
<line x1="495.4" y1="253.8" x2="497.9" y2="253.8" stroke="#222" stroke-width="0.9"/>
<text x="494.7" y="256.8" font-size="8.3" text-anchor="end">0.1</text>
<line x1="495.4" y1="270.2" x2="497.9" y2="270.2" stroke="#222" stroke-width="0.9"/>
<text x="494.7" y="273.2" font-size="8.3" text-anchor="end">0.01</text>
<line x1="495.4" y1="286.6" x2="497.9" y2="286.6" stroke="#222" stroke-width="0.9"/>
<text x="494.7" y="289.6" font-size="8.3" text-anchor="end">0.001</text>
<path d="M496.6 281.66H497.9M496.6 278.78H497.9M496.6 276.73H497.9M496.6 275.14H497.9M496.6 273.84H497.9M496.6 272.74H497.9M496.6 271.79H497.9M496.6 270.95H497.9M496.6 265.26H497.9M496.6 262.38H497.9M496.6 260.33H497.9M496.6 258.74H497.9M496.6 257.44H497.9M496.6 256.34H497.9M496.6 255.39H497.9M496.6 254.55H497.9M496.6 248.86H497.9M496.6 245.98H497.9M496.6 243.93H497.9M496.6 242.34H497.9M496.6 241.04H497.9M496.6 239.94H497.9M496.6 238.99H497.9M496.6 238.15H497.9M496.6 232.46H497.9M496.6 229.58H497.9M496.6 227.53H497.9M496.6 225.94H497.9M496.6 224.64H497.9M496.6 223.54H497.9M496.6 222.59H497.9M496.6 221.75H497.9M496.6 216.06H497.9M496.6 213.18H497.9M496.6 211.13H497.9M496.6 209.54H497.9M496.6 208.24H497.9M496.6 207.14H497.9M496.6 206.19H497.9M496.6 205.35H497.9" stroke="#333" stroke-width="0.45" fill="none"/>
<line x1="498.4" y1="270.5" x2="552.8" y2="270.5" stroke="#8c8c8c" stroke-width="0.75"/>
<line x1="510.4" y1="286.4" x2="510.4" y2="289.6" stroke="#222" stroke-width="0.9"/>
<line x1="540.4" y1="286.4" x2="540.4" y2="289.6" stroke="#222" stroke-width="0.9"/>
<text x="510.4" y="298.3" font-size="8.3" text-anchor="middle">0wk</text>
<text x="540.4" y="298.3" font-size="8.3" text-anchor="middle">4wk</text>
<text x="498.3" y="188.9" font-size="8.3">S1-specific IFN-γ+</text>
<text x="498.3" y="200.3" font-size="8.3">CD4 T cells (%)</text>
<text x="531.5" y="224.9" font-size="8.6" text-anchor="middle">0.0633</text>
<line x1="516" y1="229" x2="546.4" y2="229" stroke="#222" stroke-width="1"/>
<line x1="501.3" y1="250.1" x2="509.1" y2="250.1" stroke="#222" stroke-width="1"/>
<line x1="513.2" y1="261.3" x2="520.3" y2="261.3" stroke="#222" stroke-width="1"/>
<line x1="531.5" y1="251.4" x2="538.9" y2="251.4" stroke="#222" stroke-width="1"/>
<line x1="542.3" y1="241.7" x2="549.7" y2="241.7" stroke="#222" stroke-width="1"/>
<circle cx="505.4" cy="244.9" r="1.5" fill="#0a1ee6" stroke="#202020" stroke-width="0.5"/>
<circle cx="505.4" cy="247.7" r="1.5" fill="#0a1ee6" stroke="#202020" stroke-width="0.5"/>
<circle cx="505.4" cy="257" r="1.5" fill="#0a1ee6" stroke="#202020" stroke-width="0.5"/>
<circle cx="516.6" cy="243.6" r="1.5" fill="#ff2200" stroke="#202020" stroke-width="0.5"/>
<circle cx="514.7" cy="270.4" r="1.5" fill="#ff2200" stroke="#202020" stroke-width="0.5"/>
<circle cx="518.8" cy="270.4" r="1.5" fill="#ff2200" stroke="#202020" stroke-width="0.5"/>
<circle cx="534.8" cy="247.3" r="1.5" fill="#0a1ee6" stroke="#202020" stroke-width="0.5"/>
<circle cx="534.8" cy="251.4" r="1.5" fill="#0a1ee6" stroke="#202020" stroke-width="0.5"/>
<circle cx="534.8" cy="255.5" r="1.5" fill="#0a1ee6" stroke="#202020" stroke-width="0.5"/>
<circle cx="544.2" cy="238" r="1.5" fill="#ff2200" stroke="#202020" stroke-width="0.5"/>
<circle cx="548.6" cy="238" r="1.5" fill="#ff2200" stroke="#202020" stroke-width="0.5"/>
<circle cx="546" cy="249.5" r="1.5" fill="#ff2200" stroke="#202020" stroke-width="0.5"/>
<circle cx="573.3" cy="229.6" r="1.8" fill="#0a1ee6" stroke="#202020" stroke-width="0.5"/>
<circle cx="573.3" cy="242.8" r="1.8" fill="#ff2200" stroke="#202020" stroke-width="0.5"/>
<text x="584.2" y="232.3" font-size="7.5">HuAd (3x10<tspan dy="-2.6" font-size="4.65">7</tspan><tspan dy="2.6">)</tspan></text>
<text x="584.2" y="245.5" font-size="7.5">ChAd (3x10<tspan dy="-2.6" font-size="4.65">7</tspan><tspan dy="2.6">)</tspan></text>
<text x="2.4" y="331.6" font-size="9.6">d</text>
<path d="M38.6 368.3H94.2V450.9H38.6Z" fill="none" stroke="#222" stroke-width="1"/>
<line x1="36.1" y1="450.6" x2="38.6" y2="450.6" stroke="#222" stroke-width="0.9"/>
<line x1="36.1" y1="430" x2="38.6" y2="430" stroke="#222" stroke-width="0.9"/>
<line x1="36.1" y1="409.4" x2="38.6" y2="409.4" stroke="#222" stroke-width="0.9"/>
<line x1="36.1" y1="388.8" x2="38.6" y2="388.8" stroke="#222" stroke-width="0.9"/>
<line x1="36.1" y1="368.2" x2="38.6" y2="368.2" stroke="#222" stroke-width="0.9"/>
<text x="35.4" y="371.2" font-size="8.3" text-anchor="end">10</text>
<line x1="36.1" y1="388.8" x2="38.6" y2="388.8" stroke="#222" stroke-width="0.9"/>
<text x="35.4" y="391.8" font-size="8.3" text-anchor="end">1</text>
<line x1="36.1" y1="409.4" x2="38.6" y2="409.4" stroke="#222" stroke-width="0.9"/>
<text x="35.4" y="412.4" font-size="8.3" text-anchor="end">0.1</text>
<line x1="36.1" y1="430" x2="38.6" y2="430" stroke="#222" stroke-width="0.9"/>
<text x="35.4" y="433" font-size="8.3" text-anchor="end">0.01</text>
<line x1="36.1" y1="450.6" x2="38.6" y2="450.6" stroke="#222" stroke-width="0.9"/>
<text x="35.4" y="453.6" font-size="8.3" text-anchor="end">0.001</text>
<path d="M37.3 444.4H38.6M37.3 440.77H38.6M37.3 438.2H38.6M37.3 436.2H38.6M37.3 434.57H38.6M37.3 433.19H38.6M37.3 432H38.6M37.3 430.94H38.6M37.3 423.8H38.6M37.3 420.17H38.6M37.3 417.6H38.6M37.3 415.6H38.6M37.3 413.97H38.6M37.3 412.59H38.6M37.3 411.4H38.6M37.3 410.34H38.6M37.3 403.2H38.6M37.3 399.57H38.6M37.3 397H38.6M37.3 395H38.6M37.3 393.37H38.6M37.3 391.99H38.6M37.3 390.8H38.6M37.3 389.74H38.6M37.3 382.6H38.6M37.3 378.97H38.6M37.3 376.4H38.6M37.3 374.4H38.6M37.3 372.77H38.6M37.3 371.39H38.6M37.3 370.2H38.6M37.3 369.14H38.6" stroke="#333" stroke-width="0.45" fill="none"/>
<line x1="39.1" y1="430.5" x2="93.7" y2="430.5" stroke="#8c8c8c" stroke-width="0.75"/>
<line x1="51.3" y1="450.9" x2="51.3" y2="454.1" stroke="#222" stroke-width="0.9"/>
<line x1="80.6" y1="450.9" x2="80.6" y2="454.1" stroke="#222" stroke-width="0.9"/>
<text x="51.3" y="463" font-size="8.3" text-anchor="middle">0wk</text>
<text x="80.6" y="463" font-size="8.3" text-anchor="middle">4wk</text>
<text x="39.2" y="350.9" font-size="8.3">NC-specific IFN-γ+</text>
<text x="39.2" y="361.2" font-size="8.3">CD8 T cells (%)</text>
<line x1="42.4" y1="405.6" x2="49.8" y2="405.6" stroke="#222" stroke-width="1"/>
<line x1="53.9" y1="415.5" x2="61" y2="415.5" stroke="#222" stroke-width="1"/>
<line x1="71.8" y1="422.5" x2="79.3" y2="422.5" stroke="#888" stroke-width="1"/>
<line x1="82.4" y1="402.4" x2="89.9" y2="402.4" stroke="#222" stroke-width="1"/>
<circle cx="46.1" cy="400.6" r="1.5" fill="#0a1ee6" stroke="#202020" stroke-width="0.5"/>
<circle cx="47" cy="404.8" r="1.5" fill="#0a1ee6" stroke="#202020" stroke-width="0.5"/>
<circle cx="46.1" cy="412.3" r="1.5" fill="#0a1ee6" stroke="#202020" stroke-width="0.5"/>
<circle cx="57.3" cy="402.4" r="1.5" fill="#ff2200" stroke="#202020" stroke-width="0.5"/>
<circle cx="57.3" cy="412.7" r="1.5" fill="#ff2200" stroke="#202020" stroke-width="0.5"/>
<circle cx="57.3" cy="430.4" r="1.5" fill="#ff2200" stroke="#202020" stroke-width="0.5"/>
<circle cx="75.3" cy="408" r="1.5" fill="#0a1ee6" stroke="#202020" stroke-width="0.5"/>
<circle cx="73.1" cy="430.4" r="1.5" fill="#0a1ee6" stroke="#202020" stroke-width="0.5"/>
<circle cx="77.8" cy="430.4" r="1.5" fill="#0a1ee6" stroke="#202020" stroke-width="0.5"/>
<circle cx="86.1" cy="398.3" r="1.5" fill="#ff2200" stroke="#202020" stroke-width="0.5"/>
<circle cx="86.1" cy="406.1" r="1.5" fill="#ff2200" stroke="#202020" stroke-width="0.5"/>
<circle cx="86.1" cy="402.5" r="1.5" fill="#ff2200" stroke="#202020" stroke-width="0.5"/>
<path d="M131.6 368.3H187V450.4H131.6Z" fill="none" stroke="#222" stroke-width="1"/>
<line x1="129.1" y1="430.1" x2="131.6" y2="430.1" stroke="#222" stroke-width="0.9"/>
<line x1="129.1" y1="409.6" x2="131.6" y2="409.6" stroke="#222" stroke-width="0.9"/>
<line x1="129.1" y1="389.1" x2="131.6" y2="389.1" stroke="#222" stroke-width="0.9"/>
<line x1="129.1" y1="368.6" x2="131.6" y2="368.6" stroke="#222" stroke-width="0.9"/>
<line x1="129.1" y1="368.6" x2="131.6" y2="368.6" stroke="#222" stroke-width="0.9"/>
<text x="128.4" y="371.6" font-size="8.3" text-anchor="end">10</text>
<line x1="129.1" y1="389.1" x2="131.6" y2="389.1" stroke="#222" stroke-width="0.9"/>
<text x="128.4" y="392.1" font-size="8.3" text-anchor="end">1</text>
<line x1="129.1" y1="409.6" x2="131.6" y2="409.6" stroke="#222" stroke-width="0.9"/>
<text x="128.4" y="412.6" font-size="8.3" text-anchor="end">0.1</text>
<line x1="129.1" y1="430.1" x2="131.6" y2="430.1" stroke="#222" stroke-width="0.9"/>
<text x="128.4" y="433.1" font-size="8.3" text-anchor="end">0.01</text>
<line x1="129.1" y1="450.6" x2="131.6" y2="450.6" stroke="#222" stroke-width="0.9"/>
<text x="128.4" y="453.6" font-size="8.3" text-anchor="end">0.001</text>
<path d="M130.3 444.43H131.6M130.3 440.82H131.6M130.3 438.26H131.6M130.3 436.27H131.6M130.3 434.65H131.6M130.3 433.28H131.6M130.3 432.09H131.6M130.3 431.04H131.6M130.3 423.93H131.6M130.3 420.32H131.6M130.3 417.76H131.6M130.3 415.77H131.6M130.3 414.15H131.6M130.3 412.78H131.6M130.3 411.59H131.6M130.3 410.54H131.6M130.3 403.43H131.6M130.3 399.82H131.6M130.3 397.26H131.6M130.3 395.27H131.6M130.3 393.65H131.6M130.3 392.28H131.6M130.3 391.09H131.6M130.3 390.04H131.6M130.3 382.93H131.6M130.3 379.32H131.6M130.3 376.76H131.6M130.3 374.77H131.6M130.3 373.15H131.6M130.3 371.78H131.6M130.3 370.59H131.6M130.3 369.54H131.6" stroke="#333" stroke-width="0.45" fill="none"/>
<line x1="132.1" y1="430.5" x2="186.5" y2="430.5" stroke="#8c8c8c" stroke-width="0.75"/>
<line x1="145.2" y1="450.4" x2="145.2" y2="453.6" stroke="#222" stroke-width="0.9"/>
<line x1="174.3" y1="450.4" x2="174.3" y2="453.6" stroke="#222" stroke-width="0.9"/>
<text x="145.2" y="462.8" font-size="8.3" text-anchor="middle">0wk</text>
<text x="174.3" y="462.8" font-size="8.3" text-anchor="middle">4wk</text>
<text x="132.7" y="351.6" font-size="8.3">NC-specific IFN-γ+</text>
<text x="132.7" y="362.2" font-size="8.3">CD4 T cells (%)</text>
<line x1="135.3" y1="407.1" x2="143.6" y2="407.1" stroke="#333" stroke-width="1"/>
<line x1="146.9" y1="422" x2="154.6" y2="422" stroke="#777" stroke-width="1"/>
<line x1="165.1" y1="406" x2="172.8" y2="406" stroke="#333" stroke-width="1"/>
<line x1="175.8" y1="402.9" x2="183.5" y2="402.9" stroke="#444" stroke-width="1"/>
<circle cx="137.1" cy="394.6" r="1.5" fill="#0a1ee6" stroke="#202020" stroke-width="0.5"/>
<circle cx="142.1" cy="395.7" r="1.5" fill="#0a1ee6" stroke="#202020" stroke-width="0.5"/>
<circle cx="139.9" cy="430.3" r="1.5" fill="#0a1ee6" stroke="#202020" stroke-width="0.5"/>
<circle cx="150.7" cy="405.5" r="1.5" fill="#ff2200" stroke="#202020" stroke-width="0.5"/>
<circle cx="148.5" cy="430.3" r="1.5" fill="#ff2200" stroke="#202020" stroke-width="0.5"/>
<circle cx="153.1" cy="430.3" r="1.5" fill="#ff2200" stroke="#202020" stroke-width="0.5"/>
<circle cx="168.8" cy="401.2" r="1.5" fill="#0a1ee6" stroke="#202020" stroke-width="0.5"/>
<circle cx="168.8" cy="405.5" r="1.5" fill="#0a1ee6" stroke="#202020" stroke-width="0.5"/>
<circle cx="168.8" cy="411.5" r="1.5" fill="#0a1ee6" stroke="#202020" stroke-width="0.5"/>
<circle cx="177.6" cy="395.3" r="1.5" fill="#ff2200" stroke="#202020" stroke-width="0.5"/>
<circle cx="182" cy="395.7" r="1.5" fill="#ff2200" stroke="#202020" stroke-width="0.5"/>
<circle cx="179.8" cy="418" r="1.5" fill="#ff2200" stroke="#202020" stroke-width="0.5"/>
<circle cx="198" cy="405" r="1.8" fill="#0a1ee6" stroke="#202020" stroke-width="0.5"/>
<circle cx="198" cy="418.1" r="1.8" fill="#ff2200" stroke="#202020" stroke-width="0.5"/>
<text x="208" y="407.7" font-size="7.5">HuAd (3x10<tspan dy="-2.6" font-size="4.65">7</tspan><tspan dy="2.6">)</tspan></text>
<text x="208" y="420.8" font-size="7.5">ChAd (3x10<tspan dy="-2.6" font-size="4.65">7</tspan><tspan dy="2.6">)</tspan></text>
<text x="395.6" y="6.9" font-size="9.6">b</text>
<text transform="translate(420.7 30.9) scale(0.88 1)" font-size="8.2">IFN-γ</text>
<text x="477.7" y="24.8" font-size="8.3" text-anchor="middle">S1</text>
<text x="556.9" y="24.9" font-size="8.3" text-anchor="middle">NC</text>
<path d="M433.1 51V159.6H561.5" fill="none" stroke="#888" stroke-width="1.1"/>
<path d="M428.9 52.6L433.1 44.4L437.3 52.6Z" fill="#666"/>
<path d="M561.2 155.5L568.9 159.6L561.2 163.7Z" fill="#666"/>
<text transform="translate(570.7 163.8) scale(0.84 1)" font-size="8.9">CD8</text>
<text x="602.3" y="48.2" font-size="8.3" text-anchor="middle">HuAd</text>
<text x="602.3" y="58.6" font-size="8.3" text-anchor="middle">(3x10<tspan dy="-2.9" font-size="5.2">7</tspan><tspan dy="2.9">)</tspan></text>
<text x="602.3" y="123.4" font-size="8.3" text-anchor="middle">ChAd</text>
<text x="602.3" y="133.8" font-size="8.3" text-anchor="middle">(3x10<tspan dy="-2.9" font-size="5.2">7</tspan><tspan dy="2.9">)</tspan></text>
<line x1="459.2" y1="31.8" x2="507" y2="31.8" stroke="#e4e4e4" stroke-width="0.7"/>
<line x1="507" y1="31.8" x2="507" y2="79.5" stroke="#cfcfcf" stroke-width="1"/>
<line x1="459.2" y1="31.8" x2="459.2" y2="79.5" stroke="#333" stroke-width="0.8"/>
<line x1="459.2" y1="79.5" x2="507" y2="79.5" stroke="#333" stroke-width="0.8"/>
<line x1="457.6" y1="36.6" x2="459.2" y2="36.6" stroke="#444" stroke-width="0.5"/>
<text x="457.2" y="37.5" font-size="2.6" text-anchor="end" fill="#555">10<tspan dy="-1" font-size="1.8"></tspan></text>
<line x1="457.6" y1="47.4" x2="459.2" y2="47.4" stroke="#444" stroke-width="0.5"/>
<text x="457.2" y="48.3" font-size="2.6" text-anchor="end" fill="#555">10<tspan dy="-1" font-size="1.8"></tspan></text>
<line x1="457.6" y1="58.1" x2="459.2" y2="58.1" stroke="#444" stroke-width="0.5"/>
<text x="457.2" y="59" font-size="2.6" text-anchor="end" fill="#555">10<tspan dy="-1" font-size="1.8"></tspan></text>
<line x1="457.6" y1="72.1" x2="459.2" y2="72.1" stroke="#444" stroke-width="0.5"/>
<text x="457.2" y="73" font-size="2.6" text-anchor="end" fill="#555">10<tspan dy="-1" font-size="1.8"></tspan></text>
<line x1="472.2" y1="79.5" x2="472.2" y2="81.1" stroke="#444" stroke-width="0.5"/>
<line x1="488.2" y1="79.5" x2="488.2" y2="81.1" stroke="#444" stroke-width="0.5"/>
<line x1="501.7" y1="79.5" x2="501.7" y2="81.1" stroke="#444" stroke-width="0.5"/>
<text x="449.7" y="55.65" font-size="4" text-anchor="middle" fill="#000" transform="rotate(-90 449.7 55.65)">Comp-PE-A :: IFNg</text>
<text x="483.1" y="89" font-size="4" text-anchor="middle" fill="#000">Comp-PE-Cy7-A :: CD8</text>
<rect x="477.8" y="34.4" width="15.8" height="25.3" fill="none" stroke="#777" stroke-width="0.6"/>
<text x="468.5" y="38.6" font-size="4.4" text-anchor="middle" fill="#111">IFNg+</text>
<text x="468.5" y="43.6" font-size="4.4" text-anchor="middle" fill="#111">0.82</text>
<path d="M479 56.5h1m10 2h1m0 1h1" fill="none" stroke="#0000f8" stroke-width="1"/>
<path d="M478 46.5h1m4 1h1m3 2h1m1 0h1m-3 3h1m-10 1h1m1 0h1m0 0h1m6 0h1m1 0h1m1 0h1m-9 1h1m1 0h1m-3 2h1m-2 1h1m2 0h1m0 0h1m5 2h1" fill="none" stroke="#0001f9" stroke-width="1"/>
<path d="M482 58.5h1m2 0h1m1 0h1m-7 1h1m1 0h1m9 4h1m-1 1h1m0 2h1m-18 7h1m1 0h1m0 0h1m5 3h1m-1 1h1m3 1h1m0 0h1" fill="none" stroke="#0002fa" stroke-width="1"/>
<path d="M482 59.5h1m1 0h1m4 0h1m-10 5h1m12 1h1m-18 1h1m17 2h1m-1 1h1m-18 3h1m2 0h1m-4 2h1m0 0h1m14 0h1m0 0h1m-18 1h1m15 0h1m-9 1h1m-1 1h1m4 0h1" fill="none" stroke="#0003fb" stroke-width="1"/>
<path d="M490 60.5h1m-13 2h1m-2 1h1m2 0h1m11 0h1m-1 1h1m-15 2h1m0 0h1m13 0h1m-16 1h1m-3 3h1m2 2h1m-2 1h1m-1 2h1m0 0h1m12 0h1m-15 1h1m5 0h1m4 0h1m-11 2h1m6 0h1m2 0h1" fill="none" stroke="#0005fc" stroke-width="1"/>
<path d="M484 60.5h1m-6 2h1m12 0h1m-14 1h1m1 0h1m-1 1h1m-3 1h1m13 2h1m-16 1h1m0 0h1m-3 3h1m1 0h1m11 4h1m-9 1h1m6 0h1m1 0h1m-9 1h1m2 0h1m0 0h1m3 0h1m-10 1h1m1 0h1" fill="none" stroke="#0006fd" stroke-width="1"/>
<path d="M488 59.5h1m-10 2h1m11 0h1m-12 1h1m-1 3h1m-4 1h1m14 0h1m-1 1h1m-16 1h1m15 2h1m-16 1h1m15 0h1m-17 1h1m15 0h1m-11 3h1m1 0h1m-8 1h1m2 0h1m-1 1h1m8 0h1m-5 1h1m0 0h1" fill="none" stroke="#0007fe" stroke-width="1"/>
<path d="M485 59.5h1m1 0h1m-7 1h1m0 0h1m0 1h1m-3 1h1m-4 1h1m-2 2h1m0 0h1m13 0h1m-16 2h1m13 0h1m1 1h1m-16 1h1m14 0h1m-16 1h1m1 1h1m11 0h1m-12 3h1m8 0h1m-10 1h1m3 0h1m5 1h1m-10 2h1m1 0h1" fill="none" stroke="#0019fc" stroke-width="1"/>
<path d="M480 61.5h1m9 0h1m-9 1h1m-1 1h1m-6 1h1m13 4h1m-15 1h1m-1 1h1m1 0h1m12 0h1m0 1h1m-1 1h1m-11 3h1m5 0h1m-11 2h1m1 0h1m-2 1h1m0 0h1" fill="none" stroke="#004cf5" stroke-width="1"/>
<path d="M486 59.5h1m-5 2h1m8 5h1m0 7h1m-2 1h1" fill="none" stroke="#0086c7" stroke-width="1"/>
<path d="M489 60.5h1m-9 1h1m9 1h1m-14 2h1m13 4h1m-14 1h1m11 1h1m-1 1h1m-12 6h1" fill="none" stroke="#00c15b" stroke-width="1"/>
<path d="M491 63.5h1m-1 1h1m-1 5h1m0 0h1m-1 3h1m-10 1h1m-1 1h1m0 0h1m-3 1h1m4 0h1" fill="none" stroke="#0ad339" stroke-width="1"/>
<path d="M485 60.5h1m2 0h1m-2 1h1m1 0h1m-7 1h1m3 0h1m2 0h1m-8 1h1m-3 2h1m9 0h1m-12 1h1m9 1h1m-1 1h1m-8 1h1m-2 4h1m-1 1h1" fill="none" stroke="#1ad82e" stroke-width="1"/>
<path d="M488 61.5h1m-5 1h1m0 0h1m0 0h1m-3 1h1m0 0h1m-4 1h1m-1 1h1m-1 1h1m7 0h1m-11 1h1m1 0h1m-3 1h1m-1 2h1m2 0h1m2 0h1m3 0h1m-1 1h1m-10 1h1m5 0h1m2 0h1m0 0h1m-2 1h1m-6 1h1" fill="none" stroke="#2ade23" stroke-width="1"/>
<path d="M487 60.5h1m-3 1h1m0 0h1m1 3h1m-2 2h1m-6 2h1m3 3h1m0 0h1m-2 1h1m-3 1h1m1 1h1m1 1h1" fill="none" stroke="#49e019" stroke-width="1"/>
<path d="M486 60.5h1m-1 7h1m0 0h1m-6 2h1m1 0h1m1 0h1m3 0h1m-9 1h1m6 0h1m-1 2h1m1 1h1m-3 1h1" fill="none" stroke="#77e00e" stroke-width="1"/>
<path d="M485 64.5h1m1 0h1m-2 2h1m-4 2h1m2 0h1m-7 1h1m8 2h1m-4 2h1m0 0h1" fill="none" stroke="#a5e002" stroke-width="1"/>
<path d="M488 62.5h1m-3 1h1m-3 1h1m-2 2h1m5 0h1m-1 1h1m-5 1h1m1 2h1m0 2h1m-4 1h1m1 1h1" fill="none" stroke="#c7cd00" stroke-width="1"/>
<path d="M490 63.5h1m-8 1h1m4 1h1m1 0h1m-8 2h1m1 0h1m-2 1h1m2 0h1m-1 1h1m-7 2h1m7 2h1" fill="none" stroke="#e9b100" stroke-width="1"/>
<path d="M489 62.5h1m-3 1h1m-2 1h1m-4 1h1m4 1h1m-1 1h1m-4 2h1m-2 1h1m0 0h1" fill="none" stroke="#ff9300" stroke-width="1"/>
<path d="M486 65.5h1m0 0h1m1 0h1m-5 6h1m2 0h1m-4 1h1" fill="none" stroke="#ff7400" stroke-width="1"/>
<path d="M489 64.5h1m-5 1h1m-5 3h1m6 1h1m0 0h1m-9 1h1m6 0h1" fill="none" stroke="#ff5100" stroke-width="1"/>
<path d="M490 64.5h1m-10 2h1m-1 1h1m2 4h1" fill="none" stroke="#ff3800" stroke-width="1"/>
<path d="M488 63.5h1m0 0h1m-6 2h1m-1 1h1m0 0h1m-2 1h1m3 1h1m0 0h1m-9 1h1m0 2h1m0 0h1m-2 1h1m0 0h1m0 0h1m3 1h1m-1 1h1" fill="none" stroke="#ff2200" stroke-width="1"/>
<line x1="533.8" y1="32.1" x2="581.1" y2="32.1" stroke="#e4e4e4" stroke-width="0.7"/>
<line x1="581.1" y1="32.1" x2="581.1" y2="79.5" stroke="#cfcfcf" stroke-width="1"/>
<line x1="533.8" y1="32.1" x2="533.8" y2="79.5" stroke="#333" stroke-width="0.8"/>
<line x1="533.8" y1="79.5" x2="581.1" y2="79.5" stroke="#333" stroke-width="0.8"/>
<line x1="532.2" y1="36.9" x2="533.8" y2="36.9" stroke="#444" stroke-width="0.5"/>
<text x="531.8" y="37.8" font-size="2.6" text-anchor="end" fill="#555">10<tspan dy="-1" font-size="1.8"></tspan></text>
<line x1="532.2" y1="47.7" x2="533.8" y2="47.7" stroke="#444" stroke-width="0.5"/>
<text x="531.8" y="48.6" font-size="2.6" text-anchor="end" fill="#555">10<tspan dy="-1" font-size="1.8"></tspan></text>
<line x1="532.2" y1="58.4" x2="533.8" y2="58.4" stroke="#444" stroke-width="0.5"/>
<text x="531.8" y="59.3" font-size="2.6" text-anchor="end" fill="#555">10<tspan dy="-1" font-size="1.8"></tspan></text>
<line x1="532.2" y1="72.1" x2="533.8" y2="72.1" stroke="#444" stroke-width="0.5"/>
<text x="531.8" y="73" font-size="2.6" text-anchor="end" fill="#555">10<tspan dy="-1" font-size="1.8"></tspan></text>
<line x1="546.8" y1="79.5" x2="546.8" y2="81.1" stroke="#444" stroke-width="0.5"/>
<line x1="562.8" y1="79.5" x2="562.8" y2="81.1" stroke="#444" stroke-width="0.5"/>
<line x1="576.3" y1="79.5" x2="576.3" y2="81.1" stroke="#444" stroke-width="0.5"/>
<text x="524.3" y="55.8" font-size="4" text-anchor="middle" fill="#000" transform="rotate(-90 524.3 55.8)">Comp-PE-A :: IFNg</text>
<text x="557.45" y="89" font-size="4" text-anchor="middle" fill="#000">Comp-PE-Cy7-A :: CD8</text>
<rect x="552.1" y="34" width="15.7" height="25.4" fill="none" stroke="#777" stroke-width="0.6"/>
<text x="542.5" y="38.6" font-size="4.4" text-anchor="middle" fill="#111">IFNg+</text>
<text x="542.5" y="43.6" font-size="4.4" text-anchor="middle" fill="#111">0.74</text>
<path d="M556 46.5h1m0 3h1m3 1h1m2 0h1m-14 8h1" fill="none" stroke="#0000f8" stroke-width="1"/>
<path d="M561 46.5h1m-2 1h1m2 8h1m2 0h1m-11 1h1m-4 1h1m4 0h1m-2 1h1m6 0h1m-9 1h1m9 1h1m-2 1h1m-15 4h1" fill="none" stroke="#0001f9" stroke-width="1"/>
<path d="M555 59.5h1m6 0h1m1 0h1m2 3h1m0 2h1m-1 2h1m-18 1h1m17 4h1m-17 4h1m-2 1h1" fill="none" stroke="#0002fa" stroke-width="1"/>
<path d="M559 59.5h1m0 0h1m-7 1h1m1 0h1m7 1h1m1 1h1m0 1h1m0 4h1m-18 1h1m17 1h1m-19 1h1m17 0h1m-19 1h1m16 0h1m-17 3h1m-2 1h1m3 0h1m8 2h1m-1 1h1m0 0h1m0 0h1" fill="none" stroke="#0003fb" stroke-width="1"/>
<path d="M557 60.5h1m7 2h1m0 1h1m-15 1h1m14 0h1m-16 2h1m1 0h1m-3 1h1m0 0h1m0 0h1m-3 1h1m1 0h1m-4 1h1m12 1h1m0 0h1m0 0h1m0 1h1m-17 1h1m6 0h1m9 0h1m-16 1h1m4 0h1m-5 1h1m-1 1h1m9 0h1m3 0h1m-16 1h1m8 0h1m2 1h1m0 0h1m-4 1h1" fill="none" stroke="#0005fc" stroke-width="1"/>
<path d="M555 60.5h1m6 0h1m0 0h1m-1 1h1m-11 4h1m13 0h1m-1 1h1m0 2h1m-2 2h1m-16 1h1m1 0h1m12 1h1m-1 1h1m0 0h1m-18 1h1m4 0h1m11 0h1m-13 1h1m8 0h1m-12 1h1m8 0h1m0 0h1m2 0h1m-15 1h1m6 0h1m0 0h1m1 0h1m-8 1h1m3 0h1m0 0h1" fill="none" stroke="#0006fd" stroke-width="1"/>
<path d="M560 60.5h1m-5 1h1m-4 1h1m-1 1h1m1 0h1m-3 1h1m1 0h1m-2 1h1m9 3h1m0 0h1m-14 1h1m0 0h1m0 0h1m9 0h1m0 0h1m-14 1h1m0 0h1m14 0h1m-16 1h1m10 0h1m-11 1h1m4 0h1m-8 1h1m13 1h1m0 0h1m-5 1h1m2 0h1m-2 1h1m0 0h1m-5 1h1m-6 1h1m1 0h1m2 0h1" fill="none" stroke="#0007fe" stroke-width="1"/>
<path d="M559 60.5h1m1 0h1m-8 1h1m0 0h1m8 1h1m-11 1h1m11 1h1m-12 2h1m11 1h1m0 2h1m-14 2h1m10 0h1m-1 1h1m-10 1h1m8 0h1m-3 1h1m0 0h1m-4 1h1m4 0h1m-12 1h1m3 0h1m0 0h1m-3 1h1m-5 1h1m2 0h1" fill="none" stroke="#0019fc" stroke-width="1"/>
<path d="M558 60.5h1m1 1h1m1 0h1m3 4h1m-12 2h1m10 2h1m0 0h1m-3 2h1m-11 1h1m0 1h1m2 0h1" fill="none" stroke="#004cf5" stroke-width="1"/>
<path d="M558 63.5h1m0 0h1m6 3h1m-1 2h1m0 0h1m-13 2h1m-4 2h1m0 0h1m3 0h1m6 0h1m-4 1h1m-5 1h1m-2 3h1" fill="none" stroke="#0086c7" stroke-width="1"/>
<path d="M557 61.5h1m1 0h1m-5 1h1m3 7h1m3 1h1m-4 2h1m4 0h1m-3 2h1m-6 2h1m-4 1h1m2 0h1m-5 1h1" fill="none" stroke="#00c15b" stroke-width="1"/>
<path d="M561 61.5h1m-8 1h1m4 0h1m5 1h1m-11 2h1m10 2h1m-12 1h1m-1 1h1m5 3h1m-2 1h1m3 0h1m0 0h1m-8 1h1m-2 2h1m-4 1h1m2 0h1" fill="none" stroke="#0ad339" stroke-width="1"/>
<path d="M558 61.5h1m-3 1h1m1 0h1m4 0h1m-8 1h1m1 1h1m-1 5h1m0 1h1m-4 1h1m1 0h1m0 0h1m0 0h1m2 0h1m-8 1h1m6 1h1m-2 1h1m-5 1h1m0 0h1m0 0h1" fill="none" stroke="#1ad82e" stroke-width="1"/>
<path d="M557 62.5h1m2 0h1m-5 2h1m2 0h1m5 1h1m-1 1h1m-2 1h1m0 0h1m-9 4h1m3 0h1m1 1h1m-2 1h1m-4 1h1m1 1h1" fill="none" stroke="#2ade23" stroke-width="1"/>
<path d="M561 62.5h1m0 0h1m-6 1h1m2 0h1m0 0h1m3 1h1m-10 2h1m7 0h1m-9 2h1m-1 1h1m6 0h1m-6 1h1m1 0h1m1 0h1m-3 4h1m0 0h1" fill="none" stroke="#49e019" stroke-width="1"/>
<path d="M557 64.5h1m-2 1h1m2 3h1m3 0h1m-4 1h1m1 0h1m-2 1h1" fill="none" stroke="#77e00e" stroke-width="1"/>
<path d="M558 65.5h1m5 0h1m-7 3h1m-2 1h1m-2 1h1" fill="none" stroke="#a5e002" stroke-width="1"/>
<path d="M564 63.5h1m-4 1h1m-3 1h1m-3 3h1m3 1h1m0 2h1m-1 1h1" fill="none" stroke="#c7cd00" stroke-width="1"/>
<path d="M562 64.5h1m-6 1h1m4 0h1m-5 1h1m-3 1h1" fill="none" stroke="#e9b100" stroke-width="1"/>
<path d="M562 63.5h1m-3 1h1m-4 2h1m5 0h1m-7 4h1" fill="none" stroke="#ff9300" stroke-width="1"/>
<path d="M561 65.5h1m0 1h1m0 1h1" fill="none" stroke="#ff7400" stroke-width="1"/>
<path d="M563 65.5h1m-6 2h1m3 1h1" fill="none" stroke="#ff5100" stroke-width="1"/>
<path d="M564 64.5h1m-6 3h1m0 1h1" fill="none" stroke="#ff3800" stroke-width="1"/>
<path d="M563 63.5h1m-1 1h1m-4 1h1m-2 1h1m0 0h1m0 0h1m-5 1h1m2 0h1m0 0h1m0 0h1m-2 1h1" fill="none" stroke="#ff2200" stroke-width="1"/>
<line x1="458.9" y1="96.8" x2="507" y2="96.8" stroke="#e4e4e4" stroke-width="0.7"/>
<line x1="507" y1="96.8" x2="507" y2="144.4" stroke="#cfcfcf" stroke-width="1"/>
<line x1="458.9" y1="96.8" x2="458.9" y2="144.4" stroke="#333" stroke-width="0.8"/>
<line x1="458.9" y1="144.4" x2="507" y2="144.4" stroke="#333" stroke-width="0.8"/>
<line x1="457.3" y1="101.6" x2="458.9" y2="101.6" stroke="#444" stroke-width="0.5"/>
<text x="456.9" y="102.5" font-size="2.6" text-anchor="end" fill="#555">10<tspan dy="-1" font-size="1.8"></tspan></text>
<line x1="457.3" y1="112.4" x2="458.9" y2="112.4" stroke="#444" stroke-width="0.5"/>
<text x="456.9" y="113.3" font-size="2.6" text-anchor="end" fill="#555">10<tspan dy="-1" font-size="1.8"></tspan></text>
<line x1="457.3" y1="123.1" x2="458.9" y2="123.1" stroke="#444" stroke-width="0.5"/>
<text x="456.9" y="124" font-size="2.6" text-anchor="end" fill="#555">10<tspan dy="-1" font-size="1.8"></tspan></text>
<line x1="457.3" y1="137" x2="458.9" y2="137" stroke="#444" stroke-width="0.5"/>
<text x="456.9" y="137.9" font-size="2.6" text-anchor="end" fill="#555">10<tspan dy="-1" font-size="1.8"></tspan></text>
<line x1="471.9" y1="144.4" x2="471.9" y2="146" stroke="#444" stroke-width="0.5"/>
<line x1="487.9" y1="144.4" x2="487.9" y2="146" stroke="#444" stroke-width="0.5"/>
<line x1="501.4" y1="144.4" x2="501.4" y2="146" stroke="#444" stroke-width="0.5"/>
<text x="449.4" y="120.6" font-size="4" text-anchor="middle" fill="#000" transform="rotate(-90 449.4 120.6)">Comp-PE-A :: IFNg</text>
<text x="482.95" y="153.9" font-size="4" text-anchor="middle" fill="#000">Comp-PE-Cy7-A :: CD8</text>
<rect x="484.2" y="100.1" width="14.9" height="25.2" fill="none" stroke="#777" stroke-width="0.6"/>
<text x="475.6" y="105.5" font-size="4.4" text-anchor="middle" fill="#111">IFNg+</text>
<text x="475.6" y="110.5" font-size="4.4" text-anchor="middle" fill="#111">11.8</text>
<path d="M487 97.5h1m4 0h1m2 6h1m1 0h1m-14 1h1m-1 20h1m-1 1h1" fill="none" stroke="#0000f8" stroke-width="1"/>
<path d="M488 99.5h1m-2 1h1m3 0h1m0 0h1m-8 2h1m4 0h1m1 0h1m3 0h1m-3 3h1m2 0h1m-3 1h1m1 0h1m-2 1h1m-1 1h1m-2 1h1m-13 4h1m0 0h1m11 0h1m-1 3h1m-1 2h1m-14 1h1m12 0h1m-1 1h1m-14 1h1m10 0h1m3 1h1m-12 1h1m7 0h1m-2 1h1m-1 2h1m0 0h1m1 0h1m-4 1h1m-11 1h1m12 3h1" fill="none" stroke="#0001f9" stroke-width="1"/>
<path d="M486 102.5h1m4 1h1m1 0h1m-7 3h1m-3 1h1m0 0h1m6 0h1m0 1h1m0 0h1m-11 3h1m-1 1h1m-1 2h1m-1 1h1m0 2h1m7 0h1m0 1h1m-12 1h1m1 0h1m6 0h1m0 0h1m-11 1h1m9 0h1m-11 1h1m0 0h1m0 0h1m10 0h1m-10 1h1m0 0h1m-4 1h1m1 0h1m0 0h1m3 0h1m-8 1h1m1 0h1m7 0h1m-11 1h1m5 0h1m3 0h1m-4 1h1m-1 1h1m-9 1h1m9 0h1m-13 5h1m-1 1h1m-1 4h1m13 1h1" fill="none" stroke="#0002fa" stroke-width="1"/>
<path d="M490 103.5h1m0 1h1m1 0h1m-1 1h1m-1 3h1m-7 3h1m-2 1h1m8 0h1m-2 2h1m-8 6h1m4 0h1m-6 1h1m0 0h1m0 0h1m1 0h1m0 0h1m-1 1h1m-1 1h1m-4 1h1m0 0h1m-3 1h1m5 3h1m-11 1h1m0 0h1m10 0h1m0 4h1m-16 2h1m13 6h1m-13 1h1m10 0h1" fill="none" stroke="#0003fb" stroke-width="1"/>
<path d="M487 102.5h1m2 2h1m-1 2h1m1 1h1m-8 1h1m0 0h1m0 0h1m0 0h1m1 0h1m1 0h1m-6 1h1m0 0h1m3 0h1m-8 1h1m2 0h1m2 0h1m-5 2h1m-1 1h1m6 0h1m-2 1h1m-8 1h1m2 0h1m-2 1h1m-2 1h1m3 0h1m1 0h1m-3 1h1m0 0h1m-6 1h1m3 0h1m-1 1h1m-1 3h1m-1 1h1m-1 1h1m-9 5h1m0 0h1m0 0h1m10 0h1m-1 1h1m-14 1h1m0 1h1m-1 1h1m-2 1h1m-2 1h1m0 1h1m12 2h1m-14 1h1m2 0h1m-1 1h1m8 0h1m-11 1h1m-1 1h1m3 0h1m5 0h1" fill="none" stroke="#0005fc" stroke-width="1"/>
<path d="M488 102.5h1m-2 1h1m-1 1h1m1 0h1m-3 1h1m0 0h1m3 0h1m-2 1h1m-3 1h1m0 0h1m0 0h1m-1 1h1m-7 1h1m0 0h1m2 0h1m0 0h1m-5 1h1m2 0h1m-2 1h1m2 0h1m1 1h1m0 0h1m-7 2h1m1 0h1m-4 1h1m2 0h1m-4 1h1m3 0h1m1 0h1m-6 1h1m0 0h1m2 0h1m-6 1h1m2 0h1m-2 2h1m0 0h1m-4 6h1m2 0h1m0 0h1m-5 1h1m0 0h1m4 1h1m-8 1h1m-4 2h1m12 1h1m0 2h1m-14 3h1m-1 1h1m11 2h1m-12 1h1m4 2h1m3 0h1" fill="none" stroke="#0006fd" stroke-width="1"/>
<path d="M491 105.5h1m-3 3h1m2 3h1m-5 1h1m1 1h1m1 0h1m-4 1h1m2 0h1m-2 1h1m1 0h1m-4 1h1m1 0h1m-5 2h1m0 0h1m-2 1h1m-1 7h1m0 0h1m-4 1h1m2 0h1m2 0h1m2 2h1m-12 2h1m0 0h1m-2 1h1m12 3h1m-1 2h1m-2 1h1m-13 3h1m2 0h1m6 0h1m-7 2h1" fill="none" stroke="#0007fe" stroke-width="1"/>
<path d="M491 109.5h1m-3 2h1m1 1h1m-1 1h1m-1 1h1m0 1h1m-4 4h1m0 8h1m0 0h1m2 2h1m-9 1h1m8 9h1m-4 2h1m0 0h1m-8 1h1m3 0h1m1 0h1m0 1h1" fill="none" stroke="#0019fc" stroke-width="1"/>
<path d="M488 103.5h1m-1 1h1m1 8h1m5 21h1m-1 2h1m-14 1h1m13 0h1m-14 3h1m10 1h1m-5 1h1" fill="none" stroke="#004cf5" stroke-width="1"/>
<path d="M489 113.5h1m6 21h1m-8 8h1m1 0h1m-6 1h1m0 0h1m3 0h1m0 0h1" fill="none" stroke="#0086c7" stroke-width="1"/>
<path d="M492 128.5h1m-7 3h1m-2 1h1m-2 4h1m10 2h1m-12 2h1m2 2h1" fill="none" stroke="#00c15b" stroke-width="1"/>
<path d="M489 112.5h1m-2 16h1m0 0h1m1 0h1m-5 1h1m4 0h1m0 0h1m1 1h1m-7 1h1m1 0h1m-7 2h1m10 4h1m-12 1h1m-1 2h1m2 0h1m3 0h1m-3 1h1" fill="none" stroke="#0ad339" stroke-width="1"/>
<path d="M487 130.5h1m2 1h1m-2 1h1m-5 2h1m-1 3h1m3 0h1m-1 1h1m-4 1h1m1 2h1m0 0h1" fill="none" stroke="#1ad82e" stroke-width="1"/>
<path d="M490 128.5h1m4 3h1m-1 1h1m-7 1h1m4 0h1m0 1h1m-1 1h1m-6 2h1m4 0h1m-11 2h1m1 0h1m5 0h1m-1 1h1m0 0h1" fill="none" stroke="#2ade23" stroke-width="1"/>
<path d="M491 129.5h1m-4 1h1m0 0h1m4 0h1m-8 1h1m2 1h1m4 1h1m-7 1h1m4 0h1m-10 1h1m2 1h1m0 0h1m5 0h1m-8 3h1m3 0h1m1 0h1m-4 1h1" fill="none" stroke="#49e019" stroke-width="1"/>
<path d="M488 129.5h1m3 2h1m1 1h1m-2 1h1m-1 1h1m-9 2h1m3 4h1" fill="none" stroke="#77e00e" stroke-width="1"/>
<path d="M491 130.5h1m0 0h1m-5 1h1m-1 4h1m1 1h1m0 1h1m-4 1h1m1 0h1" fill="none" stroke="#a5e002" stroke-width="1"/>
<path d="M489 129.5h1m-2 5h1m0 1h1m-2 2h1m-3 1h1m7 0h1" fill="none" stroke="#c7cd00" stroke-width="1"/>
<path d="M493 130.5h1m-8 2h1m6 0h1m-6 1h1m3 1h1m0 1h1m0 0h1m-8 1h1m3 0h1m-6 1h1m7 0h1m-3 1h1m0 0h1m-5 1h1m0 1h1" fill="none" stroke="#e9b100" stroke-width="1"/>
<path d="M490 130.5h1m1 6h1m0 0h1m-2 1h1m0 0h1m-3 1h1" fill="none" stroke="#ff9300" stroke-width="1"/>
<path d="M488 132.5h1m3 3h1m-7 1h1m7 0h1m-8 2h1" fill="none" stroke="#ff7400" stroke-width="1"/>
<path d="M487 137.5h1m3 2h1" fill="none" stroke="#ff5100" stroke-width="1"/>
<path d="M493 131.5h1m0 0h1m-4 1h1m-2 1h1" fill="none" stroke="#ff3800" stroke-width="1"/>
<path d="M490 129.5h1m-4 3h1m4 0h1m-7 1h1m0 0h1m3 0h1m0 0h1m-7 1h1m0 0h1m2 0h1m0 0h1m-6 1h1m0 0h1m2 0h1m0 0h1m-2 4h1" fill="none" stroke="#ff2200" stroke-width="1"/>
<line x1="533.8" y1="96.5" x2="581.1" y2="96.5" stroke="#e4e4e4" stroke-width="0.7"/>
<line x1="581.1" y1="96.5" x2="581.1" y2="144.6" stroke="#cfcfcf" stroke-width="1"/>
<line x1="533.8" y1="96.5" x2="533.8" y2="144.6" stroke="#333" stroke-width="0.8"/>
<line x1="533.8" y1="144.6" x2="581.1" y2="144.6" stroke="#333" stroke-width="0.8"/>
<line x1="532.2" y1="101.3" x2="533.8" y2="101.3" stroke="#444" stroke-width="0.5"/>
<text x="531.8" y="102.2" font-size="2.6" text-anchor="end" fill="#555">10<tspan dy="-1" font-size="1.8"></tspan></text>
<line x1="532.2" y1="112.1" x2="533.8" y2="112.1" stroke="#444" stroke-width="0.5"/>
<text x="531.8" y="113" font-size="2.6" text-anchor="end" fill="#555">10<tspan dy="-1" font-size="1.8"></tspan></text>
<line x1="532.2" y1="122.8" x2="533.8" y2="122.8" stroke="#444" stroke-width="0.5"/>
<text x="531.8" y="123.7" font-size="2.6" text-anchor="end" fill="#555">10<tspan dy="-1" font-size="1.8"></tspan></text>
<line x1="532.2" y1="137.2" x2="533.8" y2="137.2" stroke="#444" stroke-width="0.5"/>
<text x="531.8" y="138.1" font-size="2.6" text-anchor="end" fill="#555">10<tspan dy="-1" font-size="1.8"></tspan></text>
<line x1="546.8" y1="144.6" x2="546.8" y2="146.2" stroke="#444" stroke-width="0.5"/>
<line x1="562.8" y1="144.6" x2="562.8" y2="146.2" stroke="#444" stroke-width="0.5"/>
<line x1="576.3" y1="144.6" x2="576.3" y2="146.2" stroke="#444" stroke-width="0.5"/>
<text x="524.3" y="120.55" font-size="4" text-anchor="middle" fill="#000" transform="rotate(-90 524.3 120.55)">Comp-PE-A :: IFNg</text>
<text x="557.45" y="154.1" font-size="4" text-anchor="middle" fill="#000">Comp-PE-Cy7-A :: CD8</text>
<rect x="559" y="100.4" width="14.8" height="25" fill="none" stroke="#777" stroke-width="0.6"/>
<text x="550.2" y="105.5" font-size="4.4" text-anchor="middle" fill="#111">IFNg+</text>
<text x="550.2" y="110.5" font-size="4.4" text-anchor="middle" fill="#111">1.31</text>
<path d="M566 111.5h1m5 0h1m-6 3h1m-11 12h1m0 0h1" fill="none" stroke="#0000f8" stroke-width="1"/>
<path d="M568 102.5h1m-9 3h1m6 0h1m-1 2h1m-7 3h1m7 1h1m-9 5h1m1 0h1m0 0h1m-4 2h1m0 0h1m9 1h1m-8 1h1m-6 2h1m-2 1h1m0 2h1m-4 14h1m14 0h1m-16 1h1" fill="none" stroke="#0001f9" stroke-width="1"/>
<path d="M563 104.5h1m-2 1h1m3 1h1m-7 18h1m2 0h1m0 0h1m7 12h1m-16 2h1m14 0h1" fill="none" stroke="#0002fa" stroke-width="1"/>
<path d="M563 106.5h1m-1 1h1m-1 1h1m-2 16h1m3 1h1m0 0h1m1 1h1m-11 1h1m5 0h1m0 0h1m-10 4h1m-1 6h1m14 0h1m-2 2h1m-1 1h1m-1 1h1m-14 1h1m11 0h1" fill="none" stroke="#0003fb" stroke-width="1"/>
<path d="M563 105.5h1m0 0h1m0 1h1m-1 1h1m-1 1h1m-5 17h1m3 1h1m3 1h1m1 2h1m0 3h1m-16 1h1m-1 2h1m14 0h1m-15 1h1m12 1h1m-1 1h1m-14 1h1m-1 1h1m0 0h1m-1 2h1m3 1h1" fill="none" stroke="#0005fc" stroke-width="1"/>
<path d="M564 106.5h1m-1 2h1m-4 18h1m4 0h1m1 0h1m-10 2h1m-2 1h1m-1 2h1m-1 1h1m13 1h1m-15 4h1m-1 1h1m0 3h1m2 1h1m0 0h1m-4 1h1m8 0h1" fill="none" stroke="#0006fd" stroke-width="1"/>
<path d="M564 125.5h1m3 2h1m-9 1h1m9 1h1m-13 1h1m0 1h1m-2 2h1m13 1h1m-15 1h1m0 0h1m-1 4h1m2 2h1m7 0h1m-11 1h1m0 0h1m-1 1h1m0 0h1m1 0h1" fill="none" stroke="#0007fe" stroke-width="1"/>
<path d="M563 125.5h1m3 1h1m-3 2h1m2 0h1m-10 1h1m0 0h1m0 0h1m7 0h1m-11 1h1m11 1h1m-1 4h1m-13 3h1m0 1h1m9 0h1m-10 1h1m-2 1h1m2 0h1m4 0h1m0 1h1" fill="none" stroke="#0019fc" stroke-width="1"/>
<path d="M561 127.5h1m5 0h1m-2 1h1m-7 2h1m10 0h1m-13 2h1m-1 2h1m-1 3h1m10 1h1m-3 2h1m1 0h1m-2 1h1m-6 1h1" fill="none" stroke="#004cf5" stroke-width="1"/>
<path d="M561 128.5h1m5 0h1m-6 1h1m7 8h1" fill="none" stroke="#0086c7" stroke-width="1"/>
<path d="M564 126.5h1m6 6h1m-5 9h1m0 2h1" fill="none" stroke="#00c15b" stroke-width="1"/>
<path d="M568 129.5h1m1 1h1m-12 3h1m0 1h1m10 0h1m-12 1h1m2 0h1m6 0h1m-1 1h1m-2 4h1m-4 1h1m-2 1h1m1 0h1m0 0h1m-3 1h1m0 0h1" fill="none" stroke="#0ad339" stroke-width="1"/>
<path d="M564 127.5h1m-4 3h1m3 0h1m3 0h1m-10 1h1m10 2h1m-6 1h1m-7 4h1m0 1h1m5 1h1m-4 1h1m0 0h1m-1 2h1" fill="none" stroke="#1ad82e" stroke-width="1"/>
<path d="M563 126.5h1m0 2h1m0 1h1m1 0h1m-2 1h1m-2 1h1m0 0h1m2 0h1m-5 1h1m-6 1h1m4 0h1m0 0h1m1 2h1m0 0h1m-10 1h1m2 0h1m5 3h1m-8 1h1m0 0h1" fill="none" stroke="#2ade23" stroke-width="1"/>
<path d="M562 128.5h1m3 1h1m1 1h1m-2 1h1m0 0h1m-6 1h1m0 0h1m-2 1h1m-3 1h1m1 0h1m0 0h1m-1 1h1m2 0h1m-8 2h1m2 0h1m-1 1h1m0 0h1m4 0h1m-2 1h1" fill="none" stroke="#49e019" stroke-width="1"/>
<path d="M562 130.5h1m-3 2h1m9 0h1m-10 1h1m0 0h1m1 0h1m2 1h1m-2 1h1m-5 2h1m-2 1h1m2 1h1" fill="none" stroke="#77e00e" stroke-width="1"/>
<path d="M563 129.5h1m0 0h1m2 1h1m-3 4h1m0 2h1m0 3h1m-4 1h1m1 0h1" fill="none" stroke="#a5e002" stroke-width="1"/>
<path d="M562 127.5h1m7 7h1m-2 2h1m-6 1h1m0 1h1m-3 1h1m1 0h1" fill="none" stroke="#c7cd00" stroke-width="1"/>
<path d="M566 132.5h1m0 1h1m0 1h1m-5 2h1m2 0h1m0 0h1m-4 1h1m0 2h1m-2 1h1" fill="none" stroke="#e9b100" stroke-width="1"/>
<path d="M563 128.5h1m3 4h1m0 0h1m0 0h1m-8 2h1m-1 2h1m2 0h1m-5 1h1m7 0h1m-8 1h1" fill="none" stroke="#ff9300" stroke-width="1"/>
<path d="M562 132.5h1m7 1h1m-3 5h1" fill="none" stroke="#ff7400" stroke-width="1"/>
<path d="M563 131.5h1m0 0h1m-3 8h1" fill="none" stroke="#ff5100" stroke-width="1"/>
<path d="M564 130.5h1m3 3h1m0 1h1m-9 1h1m3 0h1" fill="none" stroke="#ff3800" stroke-width="1"/>
<path d="M563 127.5h1m-1 3h1m-3 1h1m0 0h1m-2 1h1m7 1h1m-8 2h1m-2 1h1m4 1h1m0 0h1m0 0h1m-3 1h1m0 0h1" fill="none" stroke="#ff2200" stroke-width="1"/>
<text x="242.8" y="333" font-size="9.4">e</text>
<text x="332" y="352.8" font-size="7.6" text-anchor="middle">Gated on CD8 T cells</text>
<text transform="translate(246.6 371.1) scale(0.94 1)" font-size="8.5">TNF</text>
<text transform="translate(398.8 369.9) scale(0.85 1)" font-size="8.5">IL-2</text>
<path d="M261.5 379V486.4H371" fill="none" stroke="#888" stroke-width="1.1"/>
<path d="M257.2 380.6L261.5 372.8L265.8 380.6Z" fill="#666"/>
<path d="M370.2 482.7L377.6 486.4L370.2 490.1Z" fill="#666"/>
<path d="M403.4 383V453.2" fill="none" stroke="#888" stroke-width="1.1"/>
<path d="M399.3 384.6L403.4 376.8L407.5 384.6Z" fill="#666"/>
<text transform="translate(380.6 488.6) scale(0.81 1)" font-size="9.3" stroke="#1a1a1a" stroke-width="0.25">IFN-γ</text>
<line x1="279.3" y1="362.4" x2="326.8" y2="362.4" stroke="#c8c8c8" stroke-width="0.8"/>
<line x1="326.8" y1="362.4" x2="326.8" y2="410.7" stroke="#c8c8c8" stroke-width="0.9"/>
<path d="M322 370.5h1m-10 4h1m2 1h1m3 0h1m-13 1h1m2 0h1m-2 3h1m-9 1h1m1 0h1m11 1h1m1 0h1m-21 3h1m2 2h1m-6 1h1m-6 1h1m10 0h1m0 0h1m4 0h1m-19 1h1m1 0h1m1 0h1m0 0h1m-3 1h1m-14 1h1m22 1h1m5 1h1m-13 2h1m4 0h1m8 0h1m-5 1h1m-1 1h1m-10 1h1m7 0h1m-18 9h1m-1 2h1" fill="none" stroke="#0001f9" stroke-width="1"/>
<path d="M316 373.5h1m-2 3h1m-4 2h1m3 0h1m-10 2h1m7 0h1m1 0h1m-13 1h1m2 0h1m0 0h1m3 0h1m-12 1h1m0 0h1m-4 2h1m-3 1h1m0 0h1m1 0h1m-2 1h1m1 1h1m0 0h1m-3 1h1m3 0h1m-17 1h1m7 0h1m-16 2h1m12 0h1m1 0h1m-1 1h1m4 0h1m2 0h1m0 1h1m1 0h1m-2 1h1m-11 2h1m-3 2h1m-10 8h1" fill="none" stroke="#0002fa" stroke-width="1"/>
<path d="M315 377.5h1m-2 1h1m-2 1h1m0 0h1m-5 1h1m1 0h1m0 0h1m-7 1h1m4 0h1m-8 1h1m2 0h1m-6 2h1m0 0h1m5 0h1m-9 1h1m0 0h1m4 1h1m-11 1h1m5 0h1m-7 2h1m0 0h1m1 0h1m-12 1h1m10 0h1m-8 2h1m10 1h1m-1 1h1m-2 1h1m0 0h1m3 0h1m-14 1h1m-18 1h1m0 4h1m12 3h1m-12 1h1m0 1h1m1 0h1m2 0h1" fill="none" stroke="#0003fb" stroke-width="1"/>
<path d="M315 379.5h1m-6 2h1m0 1h1m-7 1h1m3 1h1m-2 1h1m-5 1h1m-19 3h1m3 2h1m2 0h1m-1 1h1m-15 4h1m15 1h1" fill="none" stroke="#0005fc" stroke-width="1"/>
<path d="M310 382.5h1m-8 1h1m4 0h1m0 0h1m0 0h1m-6 1h1m-1 1h1m-1 1h1m-6 1h1m5 0h1m-19 2h1m0 2h1m4 2h1m0 1h1m-1 1h1m-11 2h1m-7 1h1m14 0h1m0 1h1" fill="none" stroke="#0006fd" stroke-width="1"/>
<path d="M306 382.5h1m0 0h1m-1 2h1m-2 1h1m0 0h1m-21 4h1m-4 1h1m4 0h1m3 3h1m1 3h1m-16 1h1m13 0h1m-6 5h1m1 0h1m2 0h1m-6 1h1m-1 1h1m-2 1h1" fill="none" stroke="#0007fe" stroke-width="1"/>
<path d="M306 383.5h1m0 0h1m-2 1h1m-1 2h1m-8 1h1m-1 1h1m-8 3h1m-13 2h1m13 1h1m-13 3h1m10 0h1m1 3h1m-8 3h1m4 0h1m-11 2h1m0 0h1" fill="none" stroke="#0019fc" stroke-width="1"/>
<path d="M283 392.5h1m9 2h1m-13 3h1m2 0h1m1 0h1m-7 1h1m5 0h1m-7 1h1m10 1h1m-11 1h1m-1 1h1m6 0h1m-1 2h1m-4 1h1" fill="none" stroke="#004cf5" stroke-width="1"/>
<path d="M291 391.5h1m-3 1h1m2 0h1m-12 1h1m1 4h1m1 1h1m1 0h1m2 3h1m-1 2h1m0 1h1m-5 1h1" fill="none" stroke="#0086c7" stroke-width="1"/>
<path d="M285 391.5h1m8 4h1m-15 1h1m1 0h1m11 0h1m-8 1h1m-6 1h1m10 0h1m0 1h1m-14 1h1m7 1h1m1 2h1m-6 2h1" fill="none" stroke="#00c15b" stroke-width="1"/>
<path d="M286 390.5h1m-3 1h1m-1 1h1m0 0h1m5 0h1m0 1h1m-12 3h1m3 0h1m6 0h1m0 0h1m-13 2h1m9 1h1m-2 1h1m-3 1h1m3 0h1m-1 1h1" fill="none" stroke="#0ad339" stroke-width="1"/>
<path d="M286 391.5h1m1 0h1m-9 4h1m11 0h1m0 0h1m-11 1h1m0 0h1m7 1h1m-12 2h1m8 0h1m2 0h1m-5 1h1m2 0h1m1 1h1m-2 1h1" fill="none" stroke="#1ad82e" stroke-width="1"/>
<path d="M287 390.5h1m-2 2h1m1 0h1m-7 1h1m0 0h1m-4 1h1m11 0h1m-12 1h1m0 0h1m1 3h1m7 1h1m-11 1h1m5 0h1m-7 1h1m1 3h1" fill="none" stroke="#2ade23" stroke-width="1"/>
<path d="M281 394.5h1m9 2h1m0 2h1m-11 1h1m-1 3h1m0 2h1m1 0h1m1 0h1" fill="none" stroke="#49e019" stroke-width="1"/>
<path d="M284 393.5h1m6 0h1m-10 1h1m0 0h1m-1 1h1m7 0h1m-4 2h1m0 2h1m4 1h1m-2 1h1" fill="none" stroke="#77e00e" stroke-width="1"/>
<path d="M287 391.5h1m-4 3h1m-1 1h1m3 3h1m-6 1h1m9 1h1m-12 3h1m4 0h1" fill="none" stroke="#a5e002" stroke-width="1"/>
<path d="M287 392.5h1m-3 1h1m0 3h1m4 2h1m-7 1h1m0 0h1m-4 1h1m1 0h1m0 4h1" fill="none" stroke="#c7cd00" stroke-width="1"/>
<path d="M291 397.5h1m-3 1h1m0 0h1m-4 1h1m0 0h1m-6 2h1m3 0h1" fill="none" stroke="#e9b100" stroke-width="1"/>
<path d="M290 393.5h1m0 1h1m-8 6h1m1 0h1m0 0h1m-4 1h1m2 1h1m-4 1h1" fill="none" stroke="#ff9300" stroke-width="1"/>
<path d="M286 393.5h1m2 0h1m-5 1h1m-1 1h1m1 1h1m0 0h1m0 1h1m-6 2h1m0 2h1m0 0h1m-4 1h1m0 0h1m0 1h1m0 0h1" fill="none" stroke="#ff7400" stroke-width="1"/>
<path d="M288 393.5h1m1 4h1m-6 5h1m-3 1h1" fill="none" stroke="#ff5100" stroke-width="1"/>
<path d="M287 395.5h1m-2 7h1" fill="none" stroke="#ff3800" stroke-width="1"/>
<path d="M287 393.5h1m-2 1h1m0 0h1m0 0h1m0 0h1m0 0h1m-5 1h1m1 0h1m0 0h1m0 0h1m-2 1h1m0 0h1" fill="none" stroke="#ff2200" stroke-width="1"/>
<line x1="300.6" y1="362.4" x2="300.6" y2="410.7" stroke="#666" stroke-width="0.75"/>
<line x1="279.3" y1="388.2" x2="326.8" y2="388.2" stroke="#666" stroke-width="0.75"/>
<line x1="279.3" y1="362.4" x2="279.3" y2="410.7" stroke="#333" stroke-width="0.8"/>
<line x1="279.3" y1="410.7" x2="326.8" y2="410.7" stroke="#333" stroke-width="0.8"/>
<line x1="277.8" y1="366.4" x2="279.3" y2="366.4" stroke="#444" stroke-width="0.5"/>
<line x1="277.8" y1="376.3" x2="279.3" y2="376.3" stroke="#444" stroke-width="0.5"/>
<line x1="277.8" y1="388.2" x2="279.3" y2="388.2" stroke="#444" stroke-width="0.5"/>
<line x1="277.8" y1="404.7" x2="279.3" y2="404.7" stroke="#444" stroke-width="0.5"/>
<line x1="286.3" y1="410.7" x2="286.3" y2="412.2" stroke="#444" stroke-width="0.5"/>
<line x1="300.6" y1="410.7" x2="300.6" y2="412.2" stroke="#444" stroke-width="0.5"/>
<line x1="316.7" y1="410.7" x2="316.7" y2="412.2" stroke="#444" stroke-width="0.5"/>
<line x1="323.8" y1="410.7" x2="323.8" y2="412.2" stroke="#444" stroke-width="0.5"/>
<text x="280.5" y="367" font-size="4" fill="#000">Q1</text>
<text x="280.5" y="371.4" font-size="4" fill="#000">0.10</text>
<text x="325" y="367" font-size="4" text-anchor="end" fill="#000">Q2</text>
<text x="325" y="371.4" font-size="4" text-anchor="end" fill="#000">1.88</text>
<text x="280.5" y="404.7" font-size="4" fill="#000">Q4</text>
<text x="280.5" y="409.1" font-size="4" fill="#000">96.7</text>
<text x="325" y="404.7" font-size="4" text-anchor="end" fill="#000">Q3</text>
<text x="325" y="409.1" font-size="4" text-anchor="end" fill="#000">1.14</text>
<text x="303.05" y="418.9" font-size="4" text-anchor="middle" fill="#000">Comp-PE-A</text>
<text x="268.6" y="386.55" font-size="4" text-anchor="middle" fill="#000" transform="rotate(-90 268.6 386.55)">Comp-FITC-A</text>
<line x1="343.5" y1="362.4" x2="391.5" y2="362.4" stroke="#c8c8c8" stroke-width="0.8"/>
<line x1="391.5" y1="362.4" x2="391.5" y2="410.2" stroke="#c8c8c8" stroke-width="0.9"/>
<path d="M379 387.5h1m1 0h1m-15 3h1m12 1h1m-1 2h1m-18 1h1m13 1h1m0 0h1m1 0h1m-5 1h1m7 4h1m-6 2h1" fill="none" stroke="#0001f9" stroke-width="1"/>
<path d="M374 386.5h1m-8 1h1m1 3h1m0 0h1m0 0h1m3 0h1m-14 1h1m14 0h1m-15 1h1m1 0h1m12 0h1m-18 1h1m9 0h1m-8 1h1m11 0h1m-15 2h1m0 1h1m0 0h1m10 0h1m-32 1h1m-1 1h1m19 0h1m0 1h1m14 0h1m-3 1h1m-12 1h1m4 0h1m-8 1h1m0 0h1m2 0h1m11 0h1m-38 1h1m24 0h1m1 0h1m3 0h1m-9 1h1" fill="none" stroke="#0002fa" stroke-width="1"/>
<path d="M375 385.5h1m0 1h1m-3 2h1m-12 3h1m4 0h1m8 1h1m-31 1h1m18 1h1m2 0h1m-1 1h1m1 0h1m-6 1h1m4 0h1m3 0h1m-14 2h1m1 0h1m12 0h1m-13 1h1m12 0h1m-5 4h1m-9 1h1m-15 5h1" fill="none" stroke="#0003fb" stroke-width="1"/>
<path d="M375 388.5h1m-25 3h1m0 0h1m-4 1h1m17 2h1m3 0h1m-6 1h1m5 0h1m-6 1h1m4 0h1m-3 1h1m2 0h1m-8 1h1m0 0h1m-2 1h1m0 1h1m0 0h1m10 0h1m-13 1h1m9 1h1m-2 1h1m-32 2h1" fill="none" stroke="#0005fc" stroke-width="1"/>
<path d="M375 386.5h1m-1 1h1m-23 4h1m0 0h1m12 1h1m-24 3h1m23 0h1m4 0h1m-1 1h1m0 0h1m-3 1h1m0 1h1m-6 1h1m7 0h1m-2 2h1m-32 1h1m30 0h1m-32 1h1m14 3h1" fill="none" stroke="#0006fd" stroke-width="1"/>
<path d="M345 394.5h1m14 0h1m6 1h1m6 0h1m-20 1h1m0 0h1m4 0h1m-18 1h1m16 0h1m-17 1h1m16 1h1m9 0h1m-29 1h1m2 1h1m14 1h1m13 0h1m-31 1h1m15 0h1m-18 1h1m7 5h1" fill="none" stroke="#0007fe" stroke-width="1"/>
<path d="M350 392.5h1m0 0h1m0 0h1m0 0h1m4 0h1m1 3h1m13 3h1m-4 1h1m-14 1h1m10 0h1m1 0h1m2 0h1m1 0h1m-33 1h1m3 0h1m-2 3h1m7 1h1m4 0h1m-9 3h1" fill="none" stroke="#0019fc" stroke-width="1"/>
<path d="M354 392.5h1m-3 1h1m0 0h1m-8 1h1m3 1h1m-7 1h1m12 0h1m11 2h1m3 1h1m-12 1h1m10 0h1m-28 1h1m12 0h1m16 0h1m-32 1h1m0 0h1m0 0h1m-3 1h1m2 0h1m11 0h1m-15 1h1m9 1h1m-9 2h1m4 0h1m3 0h1m-7 1h1" fill="none" stroke="#004cf5" stroke-width="1"/>
<path d="M356 392.5h1m-10 2h1m1 0h1m-1 1h1m0 1h1m-6 1h1m5 0h1m3 0h1m-6 1h1m0 0h1m9 0h1m8 0h1m-13 1h1m-12 1h1m22 0h1m-13 1h1m11 0h1m-12 2h1m-14 2h1m12 0h1m-4 1h1m1 0h1m-12 1h1m1 0h1m2 0h1m3 1h1" fill="none" stroke="#0086c7" stroke-width="1"/>
<path d="M349 393.5h1m4 0h1m-4 3h1m6 0h1m-10 3h1m24 0h1m-27 1h1m10 0h1m-15 1h1m2 1h1m10 0h1m0 0h1m-12 1h1m0 0h1m10 0h1m-1 1h1m-5 1h1m-3 1h1m1 0h1m-8 2h1" fill="none" stroke="#00c15b" stroke-width="1"/>
<path d="M355 393.5h1m-11 2h1m2 0h1m2 0h1m4 0h1m0 0h1m1 0h1m-1 1h1m-10 1h1m9 0h1m-13 2h1m20 0h1m0 0h1m-22 1h1m11 2h1m-14 2h1m11 0h1m-3 1h1m-7 1h1m0 0h1m0 1h1m0 0h1m-3 1h1m1 0h1" fill="none" stroke="#0ad339" stroke-width="1"/>
<path d="M350 393.5h1m0 0h1m-2 1h1m2 0h1m0 1h1m0 0h1m2 0h1m-14 1h1m0 1h1m9 0h1m-9 1h1m0 0h1m-4 1h1m0 0h1m2 0h1m-6 1h1m0 0h1m2 1h1m-1 1h1m6 0h1m-6 1h1m-3 1h1m9 0h1m-13 1h1m1 0h1m-3 1h1m1 0h1m4 0h1m1 1h1m-3 1h1" fill="none" stroke="#1ad82e" stroke-width="1"/>
<path d="M357 392.5h1m-4 2h1m4 0h1m-13 1h1m5 0h1m-8 1h1m0 0h1m1 0h1m4 0h1m2 1h1m1 2h1m1 0h1m-2 2h1m-4 1h1m-2 1h1m-7 1h1m4 0h1m2 0h1m-11 1h1m1 0h1m2 0h1m0 0h1m-7 1h1m1 0h1m0 0h1m-1 1h1" fill="none" stroke="#2ade23" stroke-width="1"/>
<path d="M352 394.5h1m-7 1h1m0 2h1m0 0h1m0 0h1m8 0h1m0 0h1m-14 1h1m0 0h1m12 0h1m-1 2h1m0 1h1m-12 1h1m0 0h1m6 0h1m-1 1h1m-6 1h1m3 0h1m-8 3h1" fill="none" stroke="#49e019" stroke-width="1"/>
<path d="M356 393.5h1m1 0h1m-8 1h1m3 0h1m-4 1h1m-5 1h1m9 2h1m-8 1h1m5 0h1m2 0h1m0 1h1m-10 3h1m4 0h1m-4 1h1m1 0h1m-5 1h1" fill="none" stroke="#77e00e" stroke-width="1"/>
<path d="M356 394.5h1m-5 4h1m2 0h1m1 0h1m-8 2h1m-1 1h1m1 1h1m-2 2h1m-1 1h1" fill="none" stroke="#a5e002" stroke-width="1"/>
<path d="M357 394.5h1m-6 3h1m3 1h1m2 0h1m-5 5h1m-4 1h1" fill="none" stroke="#c7cd00" stroke-width="1"/>
<path d="M358 394.5h1m-7 2h1m2 3h1m1 2h1m-3 1h1" fill="none" stroke="#e9b100" stroke-width="1"/>
<path d="M357 393.5h1m-4 4h1m1 2h1m-6 2h1m1 2h1" fill="none" stroke="#ff9300" stroke-width="1"/>
<path d="M353 396.5h1m-3 4h1m5 0h1m-6 1h1" fill="none" stroke="#ff7400" stroke-width="1"/>
<path d="M352 399.5h1m1 0h1m-3 1h1" fill="none" stroke="#ff5100" stroke-width="1"/>
<path d="M354 398.5h1m-1 5h1" fill="none" stroke="#ff3800" stroke-width="1"/>
<path d="M353 397.5h1m-1 1h1m-1 1h1m-1 1h1m0 0h1m0 0h1m0 0h1m-4 1h1m0 0h1m0 0h1m0 0h1m-4 1h1m0 0h1" fill="none" stroke="#ff2200" stroke-width="1"/>
<line x1="363.5" y1="362.4" x2="363.5" y2="410.2" stroke="#666" stroke-width="0.75"/>
<line x1="343.5" y1="394.3" x2="391.5" y2="394.3" stroke="#666" stroke-width="0.75"/>
<line x1="343.5" y1="362.4" x2="343.5" y2="410.2" stroke="#333" stroke-width="0.8"/>
<line x1="343.5" y1="410.2" x2="391.5" y2="410.2" stroke="#333" stroke-width="0.8"/>
<line x1="342" y1="366.4" x2="343.5" y2="366.4" stroke="#444" stroke-width="0.5"/>
<line x1="342" y1="379.35" x2="343.5" y2="379.35" stroke="#444" stroke-width="0.5"/>
<line x1="342" y1="394.3" x2="343.5" y2="394.3" stroke="#444" stroke-width="0.5"/>
<line x1="342" y1="404.2" x2="343.5" y2="404.2" stroke="#444" stroke-width="0.5"/>
<line x1="350.5" y1="410.2" x2="350.5" y2="411.7" stroke="#444" stroke-width="0.5"/>
<line x1="363.5" y1="410.2" x2="363.5" y2="411.7" stroke="#444" stroke-width="0.5"/>
<line x1="380.5" y1="410.2" x2="380.5" y2="411.7" stroke="#444" stroke-width="0.5"/>
<line x1="388.5" y1="410.2" x2="388.5" y2="411.7" stroke="#444" stroke-width="0.5"/>
<text x="344.7" y="367" font-size="4" fill="#000">Q5</text>
<text x="344.7" y="371.4" font-size="4" fill="#000">0.72</text>
<text x="389.7" y="367" font-size="4" text-anchor="end" fill="#000">Q6</text>
<text x="389.7" y="371.4" font-size="4" text-anchor="end" fill="#000">0.71</text>
<text x="344.7" y="404.2" font-size="4" fill="#000">Q8</text>
<text x="344.7" y="408.6" font-size="4" fill="#000">96.6</text>
<text x="389.7" y="404.2" font-size="4" text-anchor="end" fill="#000">Q7</text>
<text x="389.7" y="408.6" font-size="4" text-anchor="end" fill="#000">2.11</text>
<text x="367.5" y="418.9" font-size="4" text-anchor="middle" fill="#000">Comp-PE-A</text>
<text x="332.4" y="386.3" font-size="4" text-anchor="middle" fill="#000" transform="rotate(-90 332.4 386.3)">Comp-APC-A</text>
<line x1="280.1" y1="421.3" x2="327.3" y2="421.3" stroke="#c8c8c8" stroke-width="0.8"/>
<line x1="327.3" y1="421.3" x2="327.3" y2="469.7" stroke="#c8c8c8" stroke-width="0.9"/>
<path d="M304 433.5h1" fill="none" stroke="#0000f8" stroke-width="1"/>
<path d="M306 424.5h1m0 4h1m-7 2h1m-2 1h1m5 3h1m-7 1h1m1 1h1m-3 1h1m20 0h1m3 0h1m-22 1h1m-7 2h1m2 0h1m20 0h1m-22 1h1m-1 1h1m-5 1h1m2 0h1m25 0h1m-5 1h1m-21 1h1m21 0h1m-27 1h1m27 0h1m-6 2h1m-25 2h1m23 6h1m-20 5h1" fill="none" stroke="#0001f9" stroke-width="1"/>
<path d="M296 428.5h1m16 0h1m-6 2h1m5 0h1m-8 1h1m10 0h1m-4 2h1m2 0h1m-10 1h1m10 0h1m-18 1h1m3 0h1m0 0h1m0 0h1m-12 1h1m7 0h1m0 0h1m12 0h1m-3 1h1m0 0h1m3 0h1m-22 1h1m3 0h1m2 0h1m10 0h1m-17 3h1m2 0h1m12 4h1m-20 1h1m19 0h1m-24 1h1m0 0h1m20 0h1m0 0h1m-23 1h1m1 0h1m1 0h1m16 0h1m-21 1h1m18 0h1m-1 1h1m0 0h1m-22 1h1m-1 1h1m20 1h1m-15 2h1m13 1h1m0 1h1m-14 1h1m-4 1h1m15 3h1m0 0h1m1 0h1m0 0h1m-19 1h1m8 0h1m-12 1h1m1 0h1m0 0h1m7 0h1m4 0h1m-17 1h1m2 0h1m12 0h1m-18 1h1m6 0h1m6 0h1m-1 1h1m-14 1h1m0 0h1m4 0h1m4 0h1m0 0h1" fill="none" stroke="#0002fa" stroke-width="1"/>
<path d="M308 431.5h1m4 0h1m-6 1h1m-1 1h1m2 0h1m4 0h1m0 0h1m2 2h1m2 1h1m-18 3h1m0 1h1m14 1h1m-19 1h1m16 1h1m0 0h1m-19 2h1m0 0h1m11 0h1m-18 1h1m6 0h1m11 0h1m-34 1h1m13 0h1m2 0h1m10 0h1m4 0h1m-17 2h1m0 1h1m-7 1h1m5 0h1m0 1h1m15 0h1m-23 2h1m4 0h1m12 0h1m0 0h1m-17 1h1m0 0h1m0 0h1m13 0h1m-10 1h1m-1 1h1m0 0h1m9 0h1m-12 1h1m-1 1h1m9 0h1m-11 2h1m6 0h1m-11 1h1m10 0h1m-12 1h1m10 0h1m4 0h1m-14 1h1m6 1h1m2 0h1m-11 1h1m0 0h1m6 0h1m-33 1h1m20 0h1m3 0h1m5 0h1m0 0h1m1 0h1m1 0h1m-15 1h1m2 0h1m1 0h1m5 0h1" fill="none" stroke="#0003fb" stroke-width="1"/>
<path d="M309 431.5h1m0 1h1m0 0h1m0 0h1m0 0h1m2 0h1m-3 1h1m-3 1h1m5 2h1m-9 2h1m3 0h1m4 0h1m-13 1h1m6 0h1m4 0h1m-11 1h1m4 0h1m4 0h1m-7 1h1m0 0h1m7 1h1m-17 1h1m-2 1h1m12 2h1m-4 1h1m-31 1h1m18 0h1m0 0h1m0 0h1m7 1h1m-12 2h1m16 0h1m-10 1h1m1 0h1m-32 1h1m33 0h1m0 0h1m1 0h1m-18 1h1m2 0h1m1 0h1m-7 1h1m5 0h1m11 1h1m-19 1h1m4 0h1m1 0h1m12 1h1m-37 2h1m20 0h1m0 0h1m2 0h1m-26 1h1m19 0h1m14 0h1m0 0h1m-3 2h1m-10 1h1m7 0h1m-4 1h1m1 0h1m-32 1h1m22 1h1m-25 1h1m0 0h1m22 0h1m3 0h1m0 0h1m0 0h1m3 0h1" fill="none" stroke="#0005fc" stroke-width="1"/>
<path d="M316 434.5h1m1 0h1m-9 1h1m0 0h1m-3 1h1m8 2h1m-6 1h1m4 1h1m-11 1h1m9 0h1m0 0h1m0 0h1m-14 1h1m11 0h1m-2 1h1m-13 1h1m3 0h1m-3 1h1m5 0h1m1 0h1m-1 1h1m-30 1h1m16 0h1m8 0h1m3 0h1m0 0h1m-6 1h1m3 0h1m0 0h1m-14 1h1m12 0h1m-36 1h1m21 0h1m7 0h1m4 0h1m-7 1h1m0 0h1m1 0h1m-34 1h1m20 0h1m8 0h1m1 0h1m5 0h1m-38 1h1m11 0h1m4 0h1m4 0h1m2 0h1m4 0h1m-33 1h1m24 0h1m-7 1h1m7 1h1m2 0h1m-1 1h1m7 0h1m-13 1h1m2 0h1m7 0h1m-9 1h1m1 0h1m0 0h1m6 0h1m-38 1h1m20 0h1m0 0h1m13 0h1m-13 1h1m-24 1h1m13 0h1m-4 1h1m0 0h1m18 0h1m-35 1h1m0 0h1m36 0h1m-23 1h1m15 1h1m1 0h1m-32 1h1m22 0h1m0 0h1m4 0h1m6 0h1m-29 1h1m0 0h1" fill="none" stroke="#0006fd" stroke-width="1"/>
<path d="M313 433.5h1m1 2h1m3 0h1m-3 1h1m-1 1h1m-5 1h1m-3 1h1m8 3h1m0 0h1m-13 2h1m-1 1h1m1 0h1m0 0h1m0 0h1m-1 1h1m-26 1h1m23 0h1m3 0h1m-31 1h1m29 0h1m-32 1h1m29 0h1m-32 1h1m12 1h1m3 0h1m-21 1h1m18 0h1m9 0h1m4 0h1m3 0h1m-39 1h1m16 0h1m7 0h1m5 0h1m2 0h1m-18 1h1m10 1h1m1 0h1m4 0h1m-10 1h1m9 0h1m-4 1h1m0 0h1m2 0h1m-8 1h1m2 0h1m0 0h1m0 0h1m-2 1h1m-4 1h1m0 0h1m1 0h1m2 0h1m1 0h1m-23 1h1m7 0h1m11 0h1m-8 1h1m-15 1h1m-15 1h1m5 0h1m2 0h1m4 0h1m13 0h1m2 0h1m-33 1h1m2 0h1m-3 2h1m10 0h1m19 0h1m0 0h1m-25 1h1" fill="none" stroke="#0007fe" stroke-width="1"/>
<path d="M313 434.5h1m0 0h1m1 1h1m1 0h1m-3 1h1m-3 1h1m-4 1h1m6 1h1m-9 1h1m0 0h1m0 1h1m4 0h1m-4 1h1m0 0h1m1 0h1m-11 2h1m6 0h1m-7 2h1m2 0h1m0 0h1m-22 1h1m19 0h1m-1 1h1m0 0h1m3 1h1m-34 2h1m22 0h1m4 0h1m-5 1h1m0 0h1m-15 1h1m6 0h1m0 0h1m-21 1h1m4 0h1m24 0h1m-33 1h1m19 1h1m13 0h1m0 0h1m-9 1h1m-28 1h1m-1 1h1m0 0h1m1 0h1m14 1h1m12 0h1m2 0h1m-35 1h1m2 0h1m28 0h1m2 0h1m-36 1h1m2 0h1m1 0h1m26 0h1m-29 1h1m10 1h1m-10 1h1m26 0h1" fill="none" stroke="#0019fc" stroke-width="1"/>
<path d="M313 435.5h1m0 0h1m-5 2h1m1 0h1m0 0h1m3 1h1m-6 1h1m-1 1h1m-4 3h1m3 0h1m0 0h1m-7 1h1m6 0h1m0 0h1m-28 3h1m-3 1h1m0 1h1m0 0h1m17 0h1m-2 1h1m2 0h1m2 0h1m-29 1h1m1 0h1m0 0h1m8 0h1m19 0h1m1 0h1m-35 1h1m1 0h1m15 0h1m6 0h1m8 0h1m-10 1h1m1 1h1m1 0h1m1 0h1m-29 1h1m0 0h1m24 0h1m-15 1h1m16 0h1m-17 1h1m12 0h1m3 0h1m-37 1h1m0 0h1m2 1h1m-6 1h1m5 0h1m34 0h1m-36 1h1m24 0h1m3 1h1m-28 1h1m3 0h1m0 0h1m18 0h1m1 0h1m-25 1h1m5 0h1m-14 1h1m5 0h1m3 0h1m-7 1h1m8 0h1m-4 1h1" fill="none" stroke="#004cf5" stroke-width="1"/>
<path d="M317 435.5h1m-4 1h1m-4 1h1m0 1h1m4 2h1m-3 1h1m-8 1h1m-1 1h1m8 0h1m-6 1h1m-23 3h1m17 0h1m-21 1h1m0 0h1m0 0h1m4 1h1m14 0h1m0 0h1m-23 1h1m17 0h1m0 0h1m1 0h1m0 0h1m4 0h1m0 0h1m-33 1h1m2 0h1m25 3h1m-17 1h1m13 0h1m2 0h1m-3 1h1m2 1h1m-19 2h1m-18 1h1m14 0h1m-16 1h1m31 1h1m-24 1h1m-7 1h1m0 0h1m2 0h1m2 0h1m20 0h1m-29 1h1m2 0h1m0 0h1m5 0h1m0 0h1m-12 1h1m9 0h1" fill="none" stroke="#0086c7" stroke-width="1"/>
<path d="M310 436.5h1m0 0h1m1 0h1m1 1h1m0 0h1m-2 1h1m-1 1h1m-7 2h1m1 0h1m-2 2h1m5 0h1m-8 3h1m-17 2h1m-8 1h1m0 0h1m2 0h1m17 0h1m3 0h1m-26 1h1m-3 2h1m1 0h1m7 0h1m0 0h1m4 0h1m-6 1h1m-13 1h1m3 0h1m-8 1h1m2 0h1m29 0h1m-31 1h1m27 0h1m-29 1h1m-2 1h1m11 2h1m-7 1h1m3 0h1m20 0h1m-33 1h1m5 0h1m6 0h1m-5 1h1m2 0h1m-1 1h1m1 1h1m-9 1h1m6 0h1" fill="none" stroke="#00c15b" stroke-width="1"/>
<path d="M317 439.5h1m-9 3h1m0 4h1m-19 2h1m15 0h1m1 0h1m-2 1h1m-24 1h1m4 0h1m3 0h1m11 1h1m9 0h1m-34 2h1m2 0h1m5 0h1m16 0h1m-16 1h1m0 0h1m0 0h1m12 0h1m-26 2h1m-1 1h1m13 0h1m-11 2h1m1 1h1m-11 2h1m4 0h1m3 0h1m2 0h1m0 0h1m1 0h1m0 0h1m16 0h1m-34 1h1m3 0h1m0 1h1m0 0h1m2 1h1m1 0h1m-10 1h1m5 0h1m1 1h1m0 0h1m-6 1h1m2 0h1" fill="none" stroke="#0ad339" stroke-width="1"/>
<path d="M316 438.5h1m-2 2h1m0 1h1m-5 1h1m-4 5h1m0 0h1m-21 3h1m6 2h1m-12 1h1m10 0h1m-15 2h1m12 0h1m-9 1h1m-5 2h1m4 2h1m2 0h1m0 0h1m3 0h1m-8 1h1m3 0h1m0 0h1m0 0h1m0 0h1m-7 4h1" fill="none" stroke="#1ad82e" stroke-width="1"/>
<path d="M316 439.5h1m-7 2h1m0 2h1m0 0h1m-4 5h1m-19 1h1m2 0h1m0 2h1m-10 3h1m2 1h1m7 0h1m-12 1h1m-2 2h1m3 0h1m8 0h1m-13 1h1m1 0h1m2 0h1m-2 1h1m3 0h1m-3 1h1m-1 1h1m-7 1h1m3 3h1m0 0h1m0 0h1m-6 1h1m2 0h1" fill="none" stroke="#2ade23" stroke-width="1"/>
<path d="M316 440.5h1m-7 2h1m0 0h1m-20 8h1m-2 1h1m0 0h1m-5 1h1m5 0h1m-10 1h1m6 0h1m-11 2h1m2 0h1m0 0h1m0 1h1m-6 1h1m6 0h1m-2 1h1m1 1h1m-4 1h1m0 0h1m-2 1h1m0 0h1m-2 1h1m3 0h1m-5 1h1" fill="none" stroke="#49e019" stroke-width="1"/>
<path d="M292 452.5h1m-5 1h1m-4 1h1m9 1h1m-13 1h1m5 0h1m8 0h1m-13 1h1m10 2h1m-7 2h1m-3 6h1m-2 1h1m0 0h1" fill="none" stroke="#77e00e" stroke-width="1"/>
<path d="M288 457.5h1m7 2h1" fill="none" stroke="#a5e002" stroke-width="1"/>
<path d="M293 450.5h1m-4 1h1m-2 3h1m4 0h1m1 2h1m-17 1h1m0 0h1m4 1h1m0 1h1" fill="none" stroke="#c7cd00" stroke-width="1"/>
<path d="M292 449.5h1m0 0h1m0 2h1m-2 1h1m-7 5h1m10 0h1m-9 1h1m1 1h1m2 0h1m-8 8h1" fill="none" stroke="#e9b100" stroke-width="1"/>
<path d="M280 456.5h1m0 0h1m0 0h1m12 0h1m-6 1h1m5 0h1m-10 1h1m9 0h1m-5 1h1" fill="none" stroke="#ff9300" stroke-width="1"/>
<path d="M293 451.5h1m-4 4h1m6 1h1m-7 2h1m0 0h1m3 0h1m-3 1h1" fill="none" stroke="#ff7400" stroke-width="1"/>
<path d="M293 454.5h1m-4 2h1m6 1h1" fill="none" stroke="#ff5100" stroke-width="1"/>
<path d="M291 452.5h1m-2 2h1m0 3h1" fill="none" stroke="#ff3800" stroke-width="1"/>
<path d="M289 452.5h1m0 0h1m-2 1h1m0 0h1m0 0h1m-1 1h1m0 0h1m-2 1h1m0 0h1m0 0h1m0 0h1m-4 1h1m0 0h1m0 0h1m0 0h1m-3 1h1m0 0h1m0 0h1m0 0h1m-3 1h1m0 0h1m0 0h1" fill="none" stroke="#ff2200" stroke-width="1"/>
<line x1="304.1" y1="421.3" x2="304.1" y2="469.7" stroke="#666" stroke-width="0.75"/>
<line x1="280.1" y1="447.5" x2="327.3" y2="447.5" stroke="#666" stroke-width="0.75"/>
<line x1="280.1" y1="421.3" x2="280.1" y2="469.7" stroke="#333" stroke-width="0.8"/>
<line x1="280.1" y1="469.7" x2="327.3" y2="469.7" stroke="#333" stroke-width="0.8"/>
<line x1="278.6" y1="425.3" x2="280.1" y2="425.3" stroke="#444" stroke-width="0.5"/>
<line x1="278.6" y1="435.4" x2="280.1" y2="435.4" stroke="#444" stroke-width="0.5"/>
<line x1="278.6" y1="447.5" x2="280.1" y2="447.5" stroke="#444" stroke-width="0.5"/>
<line x1="278.6" y1="463.7" x2="280.1" y2="463.7" stroke="#444" stroke-width="0.5"/>
<line x1="287.1" y1="469.7" x2="287.1" y2="471.2" stroke="#444" stroke-width="0.5"/>
<line x1="304.1" y1="469.7" x2="304.1" y2="471.2" stroke="#444" stroke-width="0.5"/>
<line x1="318.7" y1="469.7" x2="318.7" y2="471.2" stroke="#444" stroke-width="0.5"/>
<line x1="324.3" y1="469.7" x2="324.3" y2="471.2" stroke="#444" stroke-width="0.5"/>
<rect x="280.7" y="459.5" width="6.4" height="9" fill="#fff" fill-opacity="0.6"/>
<rect x="319.5" y="459.5" width="6.4" height="9" fill="#fff" fill-opacity="0.6"/>
<text x="281.3" y="425.9" font-size="4" fill="#000">Q5</text>
<text x="281.3" y="430.3" font-size="4" fill="#000">0.044</text>
<text x="325.5" y="425.9" font-size="4" text-anchor="end" fill="#000">Q2</text>
<text x="325.5" y="430.3" font-size="4" text-anchor="end" fill="#000">4.78</text>
<text x="281.3" y="463.7" font-size="4" fill="#000">Q4</text>
<text x="281.3" y="468.1" font-size="4" fill="#000">90.1</text>
<text x="325.5" y="463.7" font-size="4" text-anchor="end" fill="#000">Q3</text>
<text x="325.5" y="468.1" font-size="4" text-anchor="end" fill="#000">4.95</text>
<text x="303.7" y="477.8" font-size="4" text-anchor="middle" fill="#000">Comp-PE-A :: IFNg</text>
<text x="269.1" y="445.5" font-size="4" text-anchor="middle" fill="#000" transform="rotate(-90 269.1 445.5)">Comp-FITC-A :: TNFa</text>
<line x1="342.7" y1="421.3" x2="390.4" y2="421.3" stroke="#c8c8c8" stroke-width="0.8"/>
<line x1="390.4" y1="421.3" x2="390.4" y2="469.1" stroke="#c8c8c8" stroke-width="0.9"/>
<path d="M385 436.5h1m-23 8h1" fill="none" stroke="#0000f8" stroke-width="1"/>
<path d="M373 429.5h1m1 1h1m1 1h1m-4 3h1m3 0h1m2 0h1m-10 1h1m0 1h1m9 1h1m-12 1h1m9 1h1m-10 1h1m8 0h1m-13 1h1m12 1h1m-12 1h1m-3 2h1m15 0h1m-25 2h1m6 0h1m-4 1h1m-8 1h1m9 0h1m-20 1h1m33 1h1m-23 1h1m25 1h1m-4 7h1m1 2h1m-23 1h1m-2 1h1m20 0h1m-18 1h1m-3 2h1m6 0h1m3 0h1m3 0h1m2 0h1m-12 1h1m3 0h1m0 0h1m0 0h1" fill="none" stroke="#0001f9" stroke-width="1"/>
<path d="M374 437.5h1m5 2h1m-4 1h1m6 0h1m-11 1h1m-1 2h1m7 0h1m0 1h1m1 3h1m-14 1h1m-2 1h1m-8 1h1m3 0h1m-6 1h1m-5 1h1m22 0h1m2 0h1m-22 1h1m2 0h1m-8 1h1m6 0h1m19 0h1m-23 1h1m0 0h1m3 1h1m13 0h1m0 2h1m-3 1h1m1 0h1m-2 1h1m-19 1h1m17 0h1m-4 2h1m-1 1h1m1 0h1m-2 1h1m1 0h1m-7 1h1m-10 1h1m5 0h1m0 0h1" fill="none" stroke="#0002fa" stroke-width="1"/>
<path d="M376 434.5h1m-2 2h1m4 1h1m-3 2h1m-7 2h1m2 0h1m1 0h1m0 0h1m2 2h1m1 4h1m0 0h1m-12 2h1m10 0h1m-3 1h1m0 0h1m-19 1h1m0 0h1m1 2h1m13 0h1m2 0h1m-20 1h1m14 0h1m0 0h1m2 0h1m0 0h1m-20 1h1m2 0h1m11 0h1m-20 1h1m2 0h1m16 0h1m0 1h1m-12 1h1m0 0h1m7 0h1m-10 1h1m5 0h1m4 0h1m-19 1h1m15 1h1m-10 1h1m6 0h1m1 0h1m-15 1h1m3 0h1m1 0h1m0 0h1m6 0h1m-7 1h1m0 0h1m1 0h1m-8 1h1m0 0h1m0 0h1m1 0h1m1 0h1m-24 1h1m15 0h1m3 0h1" fill="none" stroke="#0003fb" stroke-width="1"/>
<path d="M377 436.5h1m0 0h1m0 1h1m-3 1h1m2 0h1m-2 2h1m-4 1h1m4 0h1m-3 2h1m0 0h1m-2 1h1m-7 1h1m-1 1h1m4 0h1m3 2h1m0 0h1m0 0h1m-3 1h1m0 0h1m-12 1h1m-22 1h1m0 0h1m18 0h1m9 0h1m-16 1h1m5 0h1m-26 1h1m0 0h1m17 0h1m2 0h1m3 0h1m0 0h1m-7 1h1m0 0h1m0 0h1m3 0h1m0 0h1m-7 2h1m5 0h1m1 0h1m-15 1h1m1 0h1m0 0h1m3 0h1m11 0h1m-8 1h1m8 0h1m-42 1h1m36 0h1m0 0h1m-2 1h1m-13 1h1m10 0h1m0 0h1m0 0h1m-19 1h1m2 0h1m0 0h1m8 0h1m-16 1h1m15 0h1m-16 1h1m6 0h1m2 2h1" fill="none" stroke="#0005fc" stroke-width="1"/>
<path d="M376 435.5h1m-1 1h1m1 2h1m-4 5h1m4 1h1m-2 1h1m-1 1h1m-1 1h1m-30 4h1m-4 1h1m0 0h1m9 0h1m6 0h1m2 0h1m0 0h1m0 0h1m3 0h1m2 0h1m0 0h1m-33 1h1m23 0h1m0 0h1m0 0h1m6 0h1m-33 1h1m0 0h1m22 0h1m1 0h1m6 0h1m-12 1h1m1 0h1m2 0h1m-32 1h1m24 0h1m2 0h1m4 0h1m-6 1h1m1 0h1m2 0h1m-11 1h1m12 0h1m-17 1h1m2 0h1m10 3h1m0 0h1m-17 1h1m6 0h1m1 0h1m-18 1h1m6 0h1m16 0h1m-25 1h1m-6 3h1m9 0h1" fill="none" stroke="#0006fd" stroke-width="1"/>
<path d="M378 437.5h1m-3 5h1m2 0h1m1 2h1m-4 1h1m3 0h1m-7 1h1m0 0h1m4 0h1m-9 1h1m-1 2h1m-22 2h1m25 0h1m-23 1h1m21 0h1m-5 1h1m4 0h1m-37 2h1m23 0h1m4 0h1m1 0h1m1 0h1m-16 1h1m-20 1h1m18 0h1m6 0h1m2 0h1m4 0h1m0 0h1m0 0h1m0 1h1m-14 1h1m7 0h1m-27 1h1m19 1h1m5 0h1m-32 2h1m33 0h1m-24 2h1m-11 1h1m10 0h1m-6 2h1m0 0h1" fill="none" stroke="#0007fe" stroke-width="1"/>
<path d="M379 441.5h1m0 0h1m-3 1h1m-1 1h1m-1 1h1m-2 3h1m3 1h1m-7 1h1m3 0h1m1 0h1m-4 1h1m1 0h1m-27 1h1m22 0h1m2 0h1m-32 2h1m7 0h1m14 2h1m3 0h1m1 0h1m0 1h1m1 0h1m-20 2h1m5 0h1m3 0h1m4 0h1m0 0h1m2 0h1m-4 1h1m-6 1h1m-1 1h1m-31 1h1m17 0h1m0 0h1m-9 1h1m5 0h1m9 0h1m-18 2h1m0 1h1m3 0h1m0 0h1m-1 1h1m0 0h1m-8 1h1m4 0h1" fill="none" stroke="#0019fc" stroke-width="1"/>
<path d="M376 443.5h1m0 0h1m-3 1h1m1 1h1m0 4h1m-5 2h1m-17 2h1m0 1h1m18 0h1m-23 1h1m4 0h1m17 0h1m0 0h1m-9 1h1m8 1h1m-38 1h1m-1 1h1m1 0h1m25 0h1m3 0h1m0 0h1m-35 1h1m31 0h1m2 0h1m-16 1h1m8 0h1m3 0h1m-17 1h1m-17 2h1m-1 1h1m11 0h1m-9 2h1m0 0h1m4 0h1m-5 1h1m3 0h1" fill="none" stroke="#004cf5" stroke-width="1"/>
<path d="M376 444.5h1m-3 1h1m-1 1h1m1 1h1m-2 1h1m4 0h1m-1 1h1m-7 1h1m-20 1h1m-6 1h1m5 0h1m23 0h1m-35 2h1m3 0h1m25 0h1m0 0h1m-33 1h1m1 0h1m4 0h1m0 0h1m6 0h1m19 1h1m-21 1h1m0 0h1m-15 2h1m1 0h1m18 0h1m-6 1h1m10 0h1m-32 1h1m27 0h1m-28 1h1m15 2h1m-11 1h1m6 0h1m0 0h1m-13 1h1m10 0h1m3 0h1m-6 1h1m1 0h1" fill="none" stroke="#0086c7" stroke-width="1"/>
<path d="M375 445.5h1m5 0h1m-7 2h1m5 0h1m-6 3h1m0 0h1m-22 1h1m19 0h1m-25 1h1m1 0h1m0 0h1m19 0h1m-20 1h1m-8 1h1m3 0h1m-10 3h1m1 1h1m11 0h1m2 0h1m-17 1h1m2 0h1m13 0h1m-18 1h1m0 0h1m0 0h1m2 0h1m21 0h1m4 0h1m-34 1h1m0 0h1m2 0h1m1 3h1m0 1h1m0 0h1m6 0h1m-9 1h1m0 0h1m-6 1h1m3 0h1" fill="none" stroke="#00c15b" stroke-width="1"/>
<path d="M377 444.5h1m-3 2h1m0 3h1m-2 1h1m-23 2h1m-3 1h1m2 0h1m-4 1h1m4 0h1m0 0h1m-12 1h1m1 0h1m-2 1h1m0 0h1m12 0h1m-17 1h1m0 0h1m-2 1h1m1 0h1m22 0h1m0 0h1m-22 1h1m7 0h1m10 0h1m0 1h1m-15 1h1m5 0h1m-14 1h1m4 0h1m-6 1h1m0 0h1m2 0h1m-5 1h1m5 0h1m-11 1h1m0 0h1m0 0h1m1 0h1m10 0h1m0 0h1m-15 1h1m0 0h1m0 0h1m0 0h1m2 0h1m-4 1h1m1 0h1" fill="none" stroke="#0ad339" stroke-width="1"/>
<path d="M380 446.5h1m0 0h1m-2 1h1m-5 1h1m0 0h1m-1 1h1m-3 2h1m-23 2h1m1 0h1m-2 1h1m-6 1h1m0 0h1m0 0h1m3 0h1m-12 1h1m4 0h1m10 0h1m-14 1h1m0 0h1m10 1h1m11 2h1m-26 1h1m0 0h1m2 0h1m0 0h1m3 0h1m-11 1h1m2 0h1m1 0h1m6 0h1m1 0h1m-1 1h1m-14 1h1m0 0h1m4 0h1m6 0h1m-12 1h1m11 1h1m-8 1h1m1 1h1" fill="none" stroke="#1ad82e" stroke-width="1"/>
<path d="M352 454.5h1m2 0h1m2 0h1m-14 2h1m0 0h1m12 1h1m-12 1h1m11 0h1m10 1h1m-10 1h1m-11 1h1m0 0h1m0 0h1m5 0h1m0 0h1m-16 1h1m0 0h1m3 0h1m1 0h1m2 0h1m1 0h1m-14 1h1m9 0h1m-8 1h1m2 0h1m5 3h1m-1 1h1" fill="none" stroke="#2ade23" stroke-width="1"/>
<path d="M352 453.5h1m1 2h1m2 0h1m1 0h1m-10 1h1m-2 1h1m-1 1h1m20 1h1m-20 1h1m3 2h1m-9 1h1m0 0h1m9 0h1m-3 1h1m1 0h1m-3 4h1" fill="none" stroke="#49e019" stroke-width="1"/>
<path d="M356 456.5h1m-7 2h1m10 1h1m-7 1h1m-4 2h1m-7 1h1m4 0h1" fill="none" stroke="#77e00e" stroke-width="1"/>
<path d="M351 456.5h1m0 0h1m-2 3h1m0 1h1m4 1h1m1 0h1m-3 2h1m-1 1h1" fill="none" stroke="#a5e002" stroke-width="1"/>
<path d="M359 456.5h1m-10 1h1m1 6h1" fill="none" stroke="#c7cd00" stroke-width="1"/>
<path d="M353 456.5h1m2 4h1m-1 3h1" fill="none" stroke="#e9b100" stroke-width="1"/>
<path d="M351 458.5h1m7 1h1m-6 1h1m6 0h1m-4 1h1" fill="none" stroke="#ff9300" stroke-width="1"/>
<path d="M355 456.5h1m1 0h1m0 1h1m-2 1h1m-5 2h1" fill="none" stroke="#ff7400" stroke-width="1"/>
<path d="M358 455.5h1m-8 2h1m0 2h1m4 0h1m2 0h1m-4 1h1m0 0h1" fill="none" stroke="#ff5100" stroke-width="1"/>
<path d="M354 456.5h1m4 4h1m0 0h1" fill="none" stroke="#ff3800" stroke-width="1"/>
<path d="M358 456.5h1m-7 1h1m0 0h1m0 0h1m0 0h1m0 0h1m0 0h1m-6 1h1m0 0h1m0 0h1m0 0h1m0 0h1m-4 1h1m0 0h1m0 0h1m0 0h1" fill="none" stroke="#ff2200" stroke-width="1"/>
<line x1="365.2" y1="421.3" x2="365.2" y2="469.1" stroke="#666" stroke-width="0.75"/>
<line x1="342.7" y1="450.2" x2="390.4" y2="450.2" stroke="#666" stroke-width="0.75"/>
<line x1="342.7" y1="421.3" x2="342.7" y2="469.1" stroke="#333" stroke-width="0.8"/>
<line x1="342.7" y1="469.1" x2="390.4" y2="469.1" stroke="#333" stroke-width="0.8"/>
<line x1="341.2" y1="425.3" x2="342.7" y2="425.3" stroke="#444" stroke-width="0.5"/>
<line x1="341.2" y1="436.75" x2="342.7" y2="436.75" stroke="#444" stroke-width="0.5"/>
<line x1="341.2" y1="450.2" x2="342.7" y2="450.2" stroke="#444" stroke-width="0.5"/>
<line x1="341.2" y1="463.1" x2="342.7" y2="463.1" stroke="#444" stroke-width="0.5"/>
<line x1="349.7" y1="469.1" x2="349.7" y2="470.6" stroke="#444" stroke-width="0.5"/>
<line x1="365.2" y1="469.1" x2="365.2" y2="470.6" stroke="#444" stroke-width="0.5"/>
<line x1="380.8" y1="469.1" x2="380.8" y2="470.6" stroke="#444" stroke-width="0.5"/>
<line x1="387.4" y1="469.1" x2="387.4" y2="470.6" stroke="#444" stroke-width="0.5"/>
<rect x="343.3" y="458.9" width="6.4" height="9" fill="#fff" fill-opacity="0.6"/>
<rect x="382.6" y="458.9" width="6.4" height="9" fill="#fff" fill-opacity="0.6"/>
<text x="343.9" y="425.9" font-size="4" fill="#000">Q1</text>
<text x="343.9" y="430.3" font-size="4" fill="#000">0.022</text>
<text x="388.6" y="425.9" font-size="4" text-anchor="end" fill="#000">Q6</text>
<text x="388.6" y="430.3" font-size="4" text-anchor="end" fill="#000">1.15</text>
<text x="343.9" y="463.1" font-size="4" fill="#000">Q8</text>
<text x="343.9" y="467.5" font-size="4" fill="#000">9.71</text>
<text x="388.6" y="463.1" font-size="4" text-anchor="end" fill="#000">Q7</text>
<text x="388.6" y="467.5" font-size="4" text-anchor="end" fill="#000">8.77</text>
<text x="366.55" y="477.8" font-size="4" text-anchor="middle" fill="#000">Comp-PE-A :: IFNg</text>
<text x="332" y="445.2" font-size="4" text-anchor="middle" fill="#000" transform="rotate(-90 332 445.2)">Comp-APC-A :: IL2</text>
<text x="462.7" y="346.1" font-size="7.8" text-anchor="middle">HuAd</text>
<text x="462.7" y="356.3" font-size="7.8" text-anchor="middle">(3x10<tspan dy="-2.73" font-size="4.84">7</tspan><tspan dy="2.73">)</tspan></text>
<path d="M463.4 389.6L463.4 364.9A24.7 24.7 0 0 1 480.87 372.13Z" fill="#b29fdc" stroke="#b29fdc" stroke-width="0.3"/>
<path d="M463.4 389.6L480.87 372.13A24.7 24.7 0 0 1 485.69 378.97Z" fill="#0a22ff" stroke="#0a22ff" stroke-width="0.3"/>
<path d="M463.4 389.6L485.69 378.97A24.7 24.7 0 0 1 463.4 414.3Z" fill="#80ccd6" stroke="#80ccd6" stroke-width="0.3"/>
<path d="M463.4 389.6L463.4 414.3A24.7 24.7 0 0 1 459.11 365.28Z" fill="#fbb08d" stroke="#fbb08d" stroke-width="0.3"/>
<path d="M463.4 389.6L459.11 365.28A24.7 24.7 0 0 1 460.18 365.11Z" fill="#3b1b6b" stroke="#3b1b6b" stroke-width="0.3"/>
<path d="M463.4 389.6L460.18 365.11A24.7 24.7 0 0 1 463.4 364.9Z" fill="#f02a8c" stroke="#f02a8c" stroke-width="0.3"/>
<path d="M463.4 389.6L463.4 364.9M463.4 389.6L480.87 372.13M463.4 389.6L485.69 378.97M463.4 389.6L463.4 414.3M463.4 389.6L459.11 365.28M463.4 389.6L460.18 365.11" stroke="#222" stroke-width="0.55" fill="none"/>
<text x="462.9" y="427.1" font-size="7.8" text-anchor="middle">ChAd</text>
<text x="462.9" y="437.3" font-size="7.8" text-anchor="middle">(3x10<tspan dy="-2.73" font-size="4.84">7</tspan><tspan dy="2.73">)</tspan></text>
<path d="M463.6 465L463.6 440.3A24.7 24.7 0 0 1 485.51 453.59Z" fill="#b29fdc" stroke="#b29fdc" stroke-width="0.3"/>
<path d="M463.6 465L485.51 453.59A24.7 24.7 0 0 1 487.73 459.74Z" fill="#0a22ff" stroke="#0a22ff" stroke-width="0.3"/>
<path d="M463.6 465L487.73 459.74A24.7 24.7 0 0 1 451.74 486.67Z" fill="#80ccd6" stroke="#80ccd6" stroke-width="0.3"/>
<path d="M463.6 465L451.74 486.67A24.7 24.7 0 0 1 461.66 440.38Z" fill="#fbb08d" stroke="#fbb08d" stroke-width="0.3"/>
<path d="M463.6 465L461.66 440.38A24.7 24.7 0 0 1 462.39 440.33Z" fill="#3b1b6b" stroke="#3b1b6b" stroke-width="0.3"/>
<path d="M463.6 465L462.39 440.33A24.7 24.7 0 0 1 463.6 440.3Z" fill="#f02a8c" stroke="#f02a8c" stroke-width="0.3"/>
<path d="M463.6 465L463.6 440.3M463.6 465L485.51 453.59M463.6 465L487.73 459.74M463.6 465L451.74 486.67M463.6 465L461.66 440.38M463.6 465L462.39 440.33" stroke="#222" stroke-width="0.55" fill="none"/>
<rect x="498.7" y="396.5" width="8.2" height="4.2" fill="#b29fdc"/>
<text x="513.5" y="401" font-size="7" text-anchor="middle" font-weight="bold" fill="#111">+</text>
<text x="522.5" y="401" font-size="7" text-anchor="middle" font-weight="bold" fill="#111">+</text>
<text x="530.9" y="401" font-size="7" text-anchor="middle" font-weight="bold" fill="#111">+</text>
<rect x="498.7" y="403.9" width="8.2" height="4.2" fill="#0a22ff"/>
<text x="513.5" y="408.4" font-size="7" text-anchor="middle" font-weight="bold" fill="#111">+</text>
<text x="522.5" y="408.4" font-size="7" text-anchor="middle" font-weight="bold" fill="#111">+</text>
<text x="530.9" y="408.4" font-size="7" text-anchor="middle" font-weight="bold" fill="#111">-</text>
<rect x="498.7" y="411.6" width="8.2" height="4.2" fill="#80ccd6"/>
<text x="513.5" y="416.1" font-size="7" text-anchor="middle" font-weight="bold" fill="#111">+</text>
<text x="522.5" y="416.1" font-size="7" text-anchor="middle" font-weight="bold" fill="#111">-</text>
<text x="530.9" y="416.1" font-size="7" text-anchor="middle" font-weight="bold" fill="#111">+</text>
<rect x="498.7" y="419" width="8.2" height="4.2" fill="#fbb08d"/>
<text x="513.5" y="423.5" font-size="7" text-anchor="middle" font-weight="bold" fill="#111">+</text>
<text x="522.5" y="423.5" font-size="7" text-anchor="middle" font-weight="bold" fill="#111">-</text>
<text x="530.9" y="423.5" font-size="7" text-anchor="middle" font-weight="bold" fill="#111">-</text>
<rect x="498.7" y="426.4" width="8.2" height="4.2" fill="#3b1b6b"/>
<text x="513.5" y="430.9" font-size="7" text-anchor="middle" font-weight="bold" fill="#111">-</text>
<text x="522.5" y="430.9" font-size="7" text-anchor="middle" font-weight="bold" fill="#111">+</text>
<text x="530.9" y="430.9" font-size="7" text-anchor="middle" font-weight="bold" fill="#111">-</text>
<rect x="498.7" y="433.8" width="8.2" height="4.2" fill="#f02a8c"/>
<text x="513.5" y="438.3" font-size="7" text-anchor="middle" font-weight="bold" fill="#111">-</text>
<text x="522.5" y="438.3" font-size="7" text-anchor="middle" font-weight="bold" fill="#111">-</text>
<text x="530.9" y="438.3" font-size="7" text-anchor="middle" font-weight="bold" fill="#111">+</text>
<text x="512" y="392" font-size="5.2" font-weight="bold" fill="#111" font-family="Liberation Serif, serif" transform="rotate(-33 512 392)">IFN-γ</text>
<text x="524.2" y="392" font-size="5.2" font-weight="bold" fill="#111" font-family="Liberation Serif, serif" transform="rotate(-33 524.2 392)">IL-2</text>
<text x="534" y="392.4" font-size="5.2" font-weight="bold" fill="#111" font-family="Liberation Serif, serif" transform="rotate(-33 534 392.4)">TNF</text>
<path d="M578.6 369.6H684V474.6H578.6Z" fill="none" stroke="#222" stroke-width="1"/>
<line x1="576.1" y1="474.2" x2="578.6" y2="474.2" stroke="#222" stroke-width="0.9"/>
<line x1="577.1" y1="459.2" x2="578.6" y2="459.2" stroke="#222" stroke-width="0.9"/>
<line x1="576.1" y1="444.2" x2="578.6" y2="444.2" stroke="#222" stroke-width="0.9"/>
<line x1="577.1" y1="429.2" x2="578.6" y2="429.2" stroke="#222" stroke-width="0.9"/>
<line x1="576.1" y1="414.2" x2="578.6" y2="414.2" stroke="#222" stroke-width="0.9"/>
<line x1="577.1" y1="399.2" x2="578.6" y2="399.2" stroke="#222" stroke-width="0.9"/>
<line x1="576.1" y1="384.2" x2="578.6" y2="384.2" stroke="#222" stroke-width="0.9"/>
<line x1="576.1" y1="384.2" x2="578.6" y2="384.2" stroke="#222" stroke-width="0.9"/>
<text x="575.4" y="387.2" font-size="7.3" text-anchor="end">100</text>
<line x1="576.1" y1="414.2" x2="578.6" y2="414.2" stroke="#222" stroke-width="0.9"/>
<text x="575.4" y="417.2" font-size="7.3" text-anchor="end">1</text>
<line x1="576.1" y1="444.2" x2="578.6" y2="444.2" stroke="#222" stroke-width="0.9"/>
<text x="575.4" y="447.2" font-size="7.3" text-anchor="end">0.01</text>
<line x1="576.1" y1="474.2" x2="578.6" y2="474.2" stroke="#222" stroke-width="0.9"/>
<text x="575.4" y="477.2" font-size="7.3" text-anchor="end">0.0001</text>
<line x1="579.1" y1="459.5" x2="683.5" y2="459.5" stroke="#666" stroke-width="0.7" stroke-dasharray="1.5 1.3"/>
<line x1="585.2" y1="474.6" x2="585.2" y2="477.8" stroke="#222" stroke-width="0.9"/>
<line x1="601.2" y1="474.6" x2="601.2" y2="477.8" stroke="#222" stroke-width="0.9"/>
<line x1="616.1" y1="474.6" x2="616.1" y2="477.8" stroke="#222" stroke-width="0.9"/>
<line x1="631.8" y1="474.6" x2="631.8" y2="477.8" stroke="#222" stroke-width="0.9"/>
<line x1="647.1" y1="474.6" x2="647.1" y2="477.8" stroke="#222" stroke-width="0.9"/>
<line x1="662.5" y1="474.6" x2="662.5" y2="477.8" stroke="#222" stroke-width="0.9"/>
<line x1="677.7" y1="474.6" x2="677.7" y2="477.8" stroke="#222" stroke-width="0.9"/>
<text x="578.8" y="346.7" font-size="7.3">S1-specific</text>
<text x="578.8" y="355.5" font-size="7.3">CD8 T cells (4wk post-</text>
<text x="578.8" y="364.3" font-size="7.3">vaccination )(%)</text>
<text x="585.9" y="394.6" font-size="7.4" text-anchor="middle">0.0811</text>
<line x1="582.9" y1="397.6" x2="588.6" y2="397.6" stroke="#222" stroke-width="1"/>
<text x="601.3" y="406.8" font-size="7.4" text-anchor="middle">0.0261</text>
<line x1="598.2" y1="410" x2="604.2" y2="410" stroke="#222" stroke-width="1"/>
<text x="616.1" y="390" font-size="7.4" text-anchor="middle">0.0652</text>
<line x1="613.4" y1="394.1" x2="619.1" y2="394.1" stroke="#222" stroke-width="1"/>
<text x="647.1" y="391.1" font-size="7.4" text-anchor="middle">0.0484</text>
<line x1="644.1" y1="395.3" x2="650.1" y2="395.3" stroke="#222" stroke-width="1"/>
<line x1="580.8" y1="425.1" x2="585" y2="425.1" stroke="#1a1a1a" stroke-width="1"/>
<line x1="586" y1="413" x2="590.2" y2="413" stroke="#1a1a1a" stroke-width="1"/>
<line x1="601.4" y1="421" x2="605.6" y2="421" stroke="#1a1a1a" stroke-width="1"/>
<line x1="611.3" y1="419.1" x2="615.5" y2="419.1" stroke="#1a1a1a" stroke-width="1"/>
<line x1="616.8" y1="407.7" x2="621" y2="407.7" stroke="#1a1a1a" stroke-width="1"/>
<line x1="642" y1="421" x2="646.2" y2="421" stroke="#1a1a1a" stroke-width="1"/>
<line x1="647.8" y1="405.4" x2="652" y2="405.4" stroke="#1a1a1a" stroke-width="1"/>
<line x1="678.8" y1="444.4" x2="683" y2="444.4" stroke="#1a1a1a" stroke-width="1"/>
<circle cx="582.9" cy="419.1" r="1.5" fill="#0a1ee6" stroke="#202020" stroke-width="0.5"/>
<circle cx="582.9" cy="425.1" r="1.5" fill="#0a1ee6" stroke="#202020" stroke-width="0.5"/>
<circle cx="582.9" cy="459.3" r="1.35" fill="#0a1ee6" stroke="#202020" stroke-width="0.5"/>
<circle cx="588.1" cy="406.8" r="1.5" fill="#ff2200" stroke="#202020" stroke-width="0.5"/>
<circle cx="588.1" cy="413" r="1.5" fill="#ff2200" stroke="#202020" stroke-width="0.5"/>
<circle cx="588.1" cy="417.5" r="1.5" fill="#ff2200" stroke="#202020" stroke-width="0.5"/>
<circle cx="598.2" cy="431.3" r="1.5" fill="#0a1ee6" stroke="#202020" stroke-width="0.5"/>
<circle cx="598.2" cy="459.3" r="1.35" fill="#0a1ee6" stroke="#202020" stroke-width="0.5"/>
<circle cx="597.2" cy="459.3" r="1.35" fill="#0a1ee6" stroke="#202020" stroke-width="0.5"/>
<circle cx="603.5" cy="416.9" r="1.5" fill="#ff2200" stroke="#202020" stroke-width="0.5"/>
<circle cx="603.5" cy="421" r="1.5" fill="#ff2200" stroke="#202020" stroke-width="0.5"/>
<circle cx="603.5" cy="426" r="1.5" fill="#ff2200" stroke="#202020" stroke-width="0.5"/>
<circle cx="613.4" cy="412.3" r="1.5" fill="#0a1ee6" stroke="#202020" stroke-width="0.5"/>
<circle cx="613.4" cy="419.1" r="1.5" fill="#0a1ee6" stroke="#202020" stroke-width="0.5"/>
<circle cx="613.4" cy="459.3" r="1.35" fill="#0a1ee6" stroke="#202020" stroke-width="0.5"/>
<circle cx="618.9" cy="403.1" r="1.5" fill="#ff2200" stroke="#202020" stroke-width="0.5"/>
<circle cx="618.3" cy="407.7" r="1.5" fill="#ff2200" stroke="#202020" stroke-width="0.5"/>
<circle cx="619.7" cy="407.2" r="1.5" fill="#ff2200" stroke="#202020" stroke-width="0.5"/>
<circle cx="627.8" cy="459.3" r="1.35" fill="#0a1ee6" stroke="#202020" stroke-width="0.5"/>
<circle cx="629.3" cy="459.3" r="1.35" fill="#0a1ee6" stroke="#202020" stroke-width="0.5"/>
<circle cx="633.6" cy="459.3" r="1.35" fill="#ff2200" stroke="#202020" stroke-width="0.5"/>
<circle cx="635.2" cy="459.3" r="1.35" fill="#ff2200" stroke="#202020" stroke-width="0.5"/>
<circle cx="644.1" cy="413.6" r="1.5" fill="#0a1ee6" stroke="#202020" stroke-width="0.5"/>
<circle cx="644.1" cy="421" r="1.5" fill="#0a1ee6" stroke="#202020" stroke-width="0.5"/>
<circle cx="644.1" cy="459.3" r="1.35" fill="#0a1ee6" stroke="#202020" stroke-width="0.5"/>
<circle cx="649.9" cy="402.2" r="1.5" fill="#ff2200" stroke="#202020" stroke-width="0.5"/>
<circle cx="649.9" cy="405.4" r="1.5" fill="#ff2200" stroke="#202020" stroke-width="0.5"/>
<circle cx="649.9" cy="410.7" r="1.5" fill="#ff2200" stroke="#202020" stroke-width="0.5"/>
<circle cx="658.5" cy="424" r="1.5" fill="#0a1ee6" stroke="#202020" stroke-width="0.5"/>
<circle cx="659.3" cy="459.3" r="1.35" fill="#0a1ee6" stroke="#202020" stroke-width="0.5"/>
<circle cx="660.3" cy="459.3" r="1.35" fill="#0a1ee6" stroke="#202020" stroke-width="0.5"/>
<circle cx="664" cy="459.3" r="1.35" fill="#ff2200" stroke="#202020" stroke-width="0.5"/>
<circle cx="665.6" cy="459.3" r="1.35" fill="#ff2200" stroke="#202020" stroke-width="0.5"/>
<circle cx="674.2" cy="429.7" r="1.5" fill="#0a1ee6" stroke="#202020" stroke-width="0.5"/>
<circle cx="675.2" cy="430.9" r="1.5" fill="#0a1ee6" stroke="#202020" stroke-width="0.5"/>
<circle cx="674.7" cy="459.3" r="1.35" fill="#0a1ee6" stroke="#202020" stroke-width="0.5"/>
<circle cx="680.9" cy="421" r="1.5" fill="#ff2200" stroke="#202020" stroke-width="0.5"/>
<circle cx="680.9" cy="444.4" r="1.5" fill="#ff2200" stroke="#202020" stroke-width="0.5"/>
<circle cx="680.9" cy="459.3" r="1.35" fill="#ff2200" stroke="#202020" stroke-width="0.5"/>
<text x="563.2" y="488.2" font-size="7.6">IFN-γ</text>
<text x="585.9" y="488" font-size="7" text-anchor="middle">+</text>
<text x="600.6" y="488" font-size="7" text-anchor="middle">+</text>
<text x="616.1" y="488" font-size="7" text-anchor="middle">+</text>
<text x="630.8" y="488" font-size="7" text-anchor="middle">-</text>
<text x="645.6" y="488" font-size="7" text-anchor="middle">+</text>
<text x="661.1" y="488" font-size="7" text-anchor="middle">-</text>
<text x="676.2" y="488" font-size="7" text-anchor="middle">-</text>
<text x="563.2" y="496.8" font-size="7.6">TNF</text>
<text x="585.9" y="496.6" font-size="7" text-anchor="middle">+</text>
<text x="600.6" y="496.6" font-size="7" text-anchor="middle">-</text>
<text x="616.1" y="496.6" font-size="7" text-anchor="middle">+</text>
<text x="630.8" y="496.6" font-size="7" text-anchor="middle">+</text>
<text x="645.6" y="496.6" font-size="7" text-anchor="middle">-</text>
<text x="661.1" y="496.6" font-size="7" text-anchor="middle">-</text>
<text x="676.2" y="496.6" font-size="7" text-anchor="middle">+</text>
<text x="563.2" y="505" font-size="7.6">IL-2</text>
<text x="585.9" y="504.8" font-size="7" text-anchor="middle">+</text>
<text x="600.6" y="504.8" font-size="7" text-anchor="middle">+</text>
<text x="616.1" y="504.8" font-size="7" text-anchor="middle">-</text>
<text x="630.8" y="504.8" font-size="7" text-anchor="middle">+</text>
<text x="645.6" y="504.8" font-size="7" text-anchor="middle">-</text>
<text x="661.1" y="504.8" font-size="7" text-anchor="middle">+</text>
<text x="676.2" y="504.8" font-size="7" text-anchor="middle">-</text>
<circle cx="602.2" cy="524" r="1.8" fill="#0a1ee6" stroke="#202020" stroke-width="0.5"/>
<circle cx="602.2" cy="538.1" r="1.8" fill="#ff2200" stroke="#202020" stroke-width="0.5"/>
<text x="614.1" y="526.7" font-size="7.9">HuAd (3x10<tspan dy="-2.6" font-size="4.9">7</tspan><tspan dy="2.6">)</tspan></text>
<text x="614.1" y="540.8" font-size="7.9">ChAd (3x10<tspan dy="-2.6" font-size="4.9">7</tspan><tspan dy="2.6">)</tspan></text>
<text x="5.4" y="509.2" font-size="9.4">f</text>
<text transform="translate(14.1 552.6) scale(0.91 1)" font-size="8.6">CD103</text>
<text transform="translate(87.6 682.2) scale(0.88 1)" font-size="8.6">CD69</text>
<path d="M33 564V677.4H80" fill="none" stroke="#888" stroke-width="1.1"/>
<path d="M28.4 565.4L33 557.4L37.6 565.4Z" fill="#666"/>
<path d="M79.2 672.8L87.4 677.4L79.2 682Z" fill="#666"/>
<line x1="114.4" y1="518.4" x2="114.4" y2="550.8" stroke="#222" stroke-width="1"/>
<line x1="104" y1="532.5" x2="126.6" y2="532.5" stroke="#222" stroke-width="1"/>
<text x="118.4" y="528.3" font-size="8">T<tspan dy="2.2" font-size="5.4">RM</tspan></text>
<text x="134.2" y="562.7" font-size="7.8" text-anchor="middle">HuAd</text>
<text x="134.2" y="572.9" font-size="7.8" text-anchor="middle">(3x10<tspan dy="-2.73" font-size="4.84">7</tspan><tspan dy="2.73">)</tspan></text>
<text x="130.5" y="641.8" font-size="7.8" text-anchor="middle">ChAd</text>
<text x="130.5" y="652.3" font-size="7.8" text-anchor="middle">(3x10<tspan dy="-2.73" font-size="4.84">7</tspan><tspan dy="2.73">)</tspan></text>
<line x1="51.6" y1="542.4" x2="99.9" y2="542.4" stroke="#c8c8c8" stroke-width="0.8"/>
<line x1="99.9" y1="542.4" x2="99.9" y2="591.2" stroke="#c8c8c8" stroke-width="0.9"/>
<path d="M67.7 574.6h.8m6.8 .6h.8m.2 7.4h.8m-6.9-7.4h.8m10.6 3.6h.8m-12.7 1.1h.8m8.3-9.7h.8m-11.9 9.9h.8m.9-2.1h.8m1-3.6h.8m3.1-1.7h.8m-4.2 4.7h.8m5.5 .7h.8m-8.3-9.1h.8m.6 3.3h.8m-.6-1.8h.8m0 6.7h.8m-2.8-5h.8m-4.6 .9h.8m2.2 6.4h.8m7.8 2.5h.8m-7.5-15.4h.8m-.3 4.8h.8m-6.9 8.2h.8m5.5-3.5h.8m-2.5 7.2h.8m-.8-1.2h.8m-1.5-5.7h.8m7.5 7.2h.8m1.1 4.9h.8m-2.6-8.3h.8m-6.6-6.2h.8m1 10.3h.8m-1.2-6.3h.8m-1.5 2.5h.8m.4-4.6h.8m-4.7 2.7h.8m-1.2 4.5h.8m-4.1-10.6h.8m6.2 9.8h.8m-6.9-8.8h.8m1.8 6.9h.8m3-10.6h.8m-4.4 1.5h.8m.7 6.2h.8m6-2.4h.8m-11.6 .8h.8m1.2-7.9h.8m3.4 6.9h.8m-3.9 .3h.8m-1.4-1.2h.8m1.2 4.3h.8m8-3.1h.8m-13.8 6.1h.8m8.7 4h.8m-2.9-14.2h.8m-5.2 6.7h.8m-3.3-2.8h.8m8.3 .9h.8m-3.9-1.1h.8m-3.6 13.2h.8m.1-9.3h.8m-5.7-5.8h.8m6.6 3.5h.8m-3.1-2.2h.8m2.1 6.1h.8m.1 .5h.8m3.9-3.6h.8m-7.2 2.8h.8m-4.7 1.7h.8m4.1-7.4h.8m3.7 4h.8m-13.5 .5h.8m12.2 6.7h.8m-4.4-15.5h.8m-11.5 9.4h.8m3.6-3.9h.8m1.2 10.5h.8m-1.7-9.9h.8m-3.5 .1h.8m7.9 .6h.8m-7.9 4.5h.8m.4-10.3h.8m-3 3.2h.8m7.7-8.1h.8m-8 16.7h.8m8.2-2.8h.8m-13.4-14.4h.8m7 8.6h.8m-3.8 2.5h.8m7.4-2.3h.8m-6.5 14.2h.8m6.8-19.6h.8m-13.6 3.7h.8m4.9 3.9h.8m.5 5.1h.8m-3.4-9.7h.8m6.3 4h.8m-13.7 2.6h.8m8.4-8.7h.8m-13.8 6.9h.8m7.3-2.7h.8m-2 10.1h.8m5.5-4.8h.8m-6.8-5.7h.8m10.5 10.1h.8m-7.7-2.9h.8m-2.1 2h.8m-5.6-5.3h.8m2.4-.5h.8m3.2 13.2h.8m2.7-8.5h.8m-3.7-7.2h.8m-8.2-8.7h.8m-5.7 18.4h.8m9.5-14.4h.8m-7.8 7.1h.8m1.2-1.2h.8m4.8 4.3h.8m-6.7-3.7h.8m7.3-1.3h.8m-2.9 2.9h.8m-9.1-.2h.8m5.9-5.2h.8m-5.6 6h.8m.5-9.9h.8m-.6 7h.8m1.7-.7h.8m2.8 2.3h.8m1.7 2.8h.8m-7.5 1.4h.8m1-5.4h.8m-1-1.3h.8m-3.7 9h.8m2.3-17.2h.8m.2 9.6h.8m1-8.1h.8m-4.7 12.8h.8m-1.6-5.8h.8m-2 1.4h.8m3.6-6.7h.8m-3.7 6.9h.8m-10 3.6h.8m7.8-.2h.8m-.6-4.6h.8m1.1-4.4h.8m-7.1 3.5h.8m3-2.2h.8m-1.1 9.1h.8m2-13.4h.8m.5 2.1h.8m-6.6 7.4h.8m2.8-4.4h.8m-1 8.5h.8m8.2-2.5h.8m-15.2-1.8h.8m-3.1-4h.8m2.5 1.3h.8m3-5h.8m-10.1-4.3h.8m15.7 20.5h.8m-5.4-6.8h.8m1.5 6.2h.8m-10.4-6.4h.8m.9-1.4h.8m-1.7-3.2h.8m1.7 2.9h.8m-3.2 5.8h.8m10-9.1h.8m-3.1 1.8h.8m1.4 5.4h.8m-11.9 1.3h.8m1.5-6.3h.8m-3.2-6.4h.8m-5 3h.8m7.9 5.4h.8m-5.8-3.4h.8m1.6 0h.8m.7 .3h.8m.9-.7h.8m.6 4.9h.8m-6.5-4.8h.8m2.6 5h.8m-10.5 .4h.8m6-16.9h.8m8.1 14.1h.8m-4.7 3.4h.8m-8.3-1.6h.8m3.8 3.4h.8m1.7-2.9h.8m1.5-2h.8m-7-2.3h.8m-1.3-1.9h.8m3.2 12.8h.8m3.1-3.9h.8m-1.6-2.3h.8m-5.3-8.3h.8m-.8 14.5h.8m-3.4-8.3h.8m-1.7 2.3h.8m4 5.7h.8m2.6-18.6h.8m-1.7 14.3h.8m-4.9-1.2h.8m2.2-5.1h.8m1.8 5.5h.8m-7.4-1.9h.8m4.7-3.9h.8m-3.8 10h.8m2.3-11.6h.8m-1 6.7h.8m-8.2-9h.8m2.7 3.3h.8m1.5-7.2h.8m-.9 11.1h.8m-5-7h.8m-2.8 14.7h.8m6.4-8h.8m-1.9-5.2h.8m1.4 1.3h.8m-3.4 5.6h.8m3.9 6.7h.8m-9.7-1h.8m3.9-12.4h.8m-1.8 8.9h.8m-4.9 .6h.8m-2-2.7h.8m2-.2h.8m-.3-5.6h.8m-1 13.7h.8m3.4-14.7h.8m2.2 0h.8m-6.3 5.3h.8m5.8-1.3h.8m-5.1 3h.8m-9.5 .5h.8m9.3-9.5h.8m-1.9 9.8h.8m-5.2 .4h.8m-2.7-1.1h.8m0 .1h.8m2.8-4.5h.8m-.2-.8h.8m-.7 4.3h.8m-6.5 6.6h.8m2.7-17.3h.8m8.6 11.1h.8m-5.7 .5h.8m-3.7-8.2h.8m-5.3 10.1h.8m.3-9.1h.8m-9.9 9.5h.8m11.2-5h.8m-1-1.3h.8m-4.8 4.7h.8m2.1-1.1h.8m-1.2-7.4h.8m-3.4 14.3h.8m-6.6-15.6h.8m10.5 16.6h.8m-6.2-9.6h.8m-7-3h.8m9.9 2.8h.8m-9.3-9.2h.8m5.1 5h.8m5.3 3.6h.8m.7 5.7h.8m-9.5 2.6h.8m5.2-12.4h.8m-3.9 5.6h.8m-11.7-9.1h.8m12.1 11h.8m-5.4-4.3h.8m0-8.2h.8m8.5 12.4h.8m-9.5-2.7h.8m2.9-7.5h.8m-3.5 16.4h.8m-.3-8h.8m-12.2-1.3h.8m11.6-2.7h.8m-8.2-3.7h.8m4.6-11.9h.8m.4 20.7h.8m-4.7-3.1h.8m.8 .6h.8m0-1.2h.8m5.9-.1h.8m-8.3-6.3h.8m-4.9 5.8h.8m3.2-10.9h.8m-3.9 8.6h.8m.2 7.8h.8m2.4-3.5h.8m4.6 2.6h.8m-3.8-8.3h.8m-2.6 4.8h.8m1.5-1.4h.8m-4.4-4.4h.8m.9 12.8h.8m-1.2 4.8h.8m-2.7-9.5h.8m-4.6-3.4h.8m3.5-.9h.8m2.4-2.5h.8m-6.5 14.7h.8m4.8-5.5h.8m7.1-5.8h.8m-7.5 7.4h.8m-12.1-2.1h.8m5.6 1.3h.8m1.6-4h.8m7.9 1.6h.8m-3.7 1h.8m-5.9-5.1h.8m-6.6 7.3h.8m4.1 5.6h.8m3-19.7h.8m-4.5 20.1h.8m9.7-18.5h.8m-19.4 9.9h.8m13.5-8.5h.8m-3.6 7.9h.8m-.2 3h.8m-12.1-5.1h.8m2.3 3.3h.8m9.6-6h.8m-6.5 5.1h.8m1-3.3h.8m-7.4 6.9h.8m-.9 3.8h.8m1.5-7.4h.8m-6.5-3.9h.8m-1.3 11h.8m2.1-7.4h.8m-2.8 2.3h.8m1.1-.8h.8m-3.5 3h.8m8.5-3.6h.8m-9.2 5.3h.8m-4.5-5.4h.8m3.6 2.3h.8m-.4-3.2h.8m1.5-.9h.8m-9-2.5h.8m9.2 .9h.8m-2 7.2h.8m.6-2.5h.8m-6.2 .8h.8m-1-4.2h.8m6.6 1.2h.8m1.4 4.2h.8m-9.8-.2h.8m5.9-5.4h.8m-9.4 1h.8m3.6 4.3h.8m-1.4-3.4h.8m-3 5.8h.8m5.8-3.2h.8m-10.5 1.5h.8m5.6-1.1h.8m4.9 1.7h.8m-11.6-5.4h.8m8.6 3.5h.8m-2.8-.9h.8m-8.1 1.3h.8m9.5 .2h.8m-11.6-1.9h.8m1.8 1.4h.8m5.3 5.5h.8m-3.9-7.2h.8m-1.4 1.3h.8m-2.8 .1h.8m.9-3.6h.8m1.4 2.4h.8m-7 2.6h.8m1.2 3.7h.8m3.1-5h.8m-5.8-1.5h.8m5.6-.8h.8m-1.1-4.3h.8m-3.1 8.8h.8m-.2-2.5h.8m1.8-2.5h.8m-8.7 2.8h.8m7.9 1h.8m-6.4-.4h.8m1.8-4.6h.8m-13.8 .6h.8m4.4 1.4h.8m11.2-2.8h.8m-3.2 8.5h.8m7.2-4.4h.8m-10.9-15.4h.8m-7.4 12.7h.8m20.5-11.5h.8m-21.3-2.8h.8m17.7 13.3h.8m1.1-14.9h.8m-13.5 1.1h.8m-9.5 8.5h.8m7.7-5.3h.8m1.3 12.1h.8m5.3-9.6h.8m4.5-1h.8m-19.7 7.8h.8m-6-.7h.8m22.8 8h.8m-25.2-.6h.8m23.2 2.8h.8m-2.6-20.5h.8m-.6-1.4h.8m-13.2 17.4h.8m-5.9-8.8h.8m9.1-8.7h.8m-4.9 12h.8m6.1-5.3h.8m-13.7-2.6h.8m6.2 11.2h.8m10.2 1.8h.8m-28.2-16.5h.8m6.1 16.2h.8m-8.3-20.8h.8m10.5 12.8h.8m-9.1-4.2h.8m.4 16.3h.8m-5.9-8.3h.8m4.2-2.9h.8" fill="none" stroke="#b4b4b4" stroke-width="0.85"/>
<path d="M74.9 568.4h.8m1.7-4.5h.8m-.4 1.5h.8m1.5 12.7h.8m-7.7-12.1h.8m1.1 .1h.8m4.8-4.9h.8m-1.6 6.1h.8m-1.2 12.9h.8m-.6-10.7h.8m-3.9-1.4h.8m4.3 .2h.8m-7.3-.2h.8m.1-3.5h.8m3.2 4.5h.8m1 1.7h.8m-1.7-2.4h.8m-1.1 2h.8m.7-7.8h.8m-7 1.1h.8m1.2 8.4h.8m.6 3.6h.8m-.8-10h.8m2.9 2.3h.8m-2.9 7.3h.8m-2.5-7.3h.8m-3.1 5.2h.8m3.5-6.6h.8m-3.6 5.5h.8m-5.3-3.6h.8m4 5.2h.8m-3.5-9.4h.8m6.6 2h.8m-8.7 5.7h.8m6.2 4.2h.8m-11.2-10.5h.8m4.5 7.3h.8m-.6-4h.8m4.4 5h.8m-5-1.6h.8m1.3 10h.8m-5.6 1h.8m2.5-1.5h.8m.4 1h.8m1.6 1.9h.8m-4.5-4.6h.8m.5 .3h.8m1.1-.2h.8m-2.7 2.6h.8m1.5-1.1h.8m.2 1.7h.8m-8.9-1.4h.8m4.1-1h.8m-2.9 .5h.8m1.9 .4h.8m1.7 1h.8m-5.8-2.6h.8m2.9 .1h.8m-2.6 1.8h.8m1.5 0h.8m.3-1.4h.8m-2.9-.3h.8m-2 1.1h.8m-3.7-4h.8m4.1 4.4h.8m-2.9-1.6h.8m-2.1 1.7h.8m.2 1.1h.8m-.6-3h.8m.5 .3h.8m-1.8-1.8h.8m-2.3 3.6h.8m-1.6-.9h.8m2.4 .1h.8m2.3-.4h.8m-5.9 .1h.8m-5.5-2.1h.8m5.8 1.8h.8m1.4 .4h.8m-4.9 1.7h.8m.4 .8h.8m-4.3-1.7h.8m3.7 .2h.8m.5 .7h.8m-3.7-2.4h.8m1.7 .9h.8m-.9 2h.8m-2.7-3.4h.8m-2 2.6h.8m-.7 .6h.8" fill="none" stroke="#ff2a2a" stroke-width="0.85"/>
<line x1="74.3" y1="542.4" x2="74.3" y2="591.2" stroke="#666" stroke-width="0.75"/>
<line x1="51.6" y1="578.4" x2="99.9" y2="578.4" stroke="#666" stroke-width="0.75"/>
<line x1="51.6" y1="542.4" x2="51.6" y2="591.2" stroke="#333" stroke-width="0.8"/>
<line x1="51.6" y1="591.2" x2="99.9" y2="591.2" stroke="#333" stroke-width="0.8"/>
<line x1="50.1" y1="546.4" x2="51.6" y2="546.4" stroke="#444" stroke-width="0.5"/>
<line x1="50.1" y1="561.4" x2="51.6" y2="561.4" stroke="#444" stroke-width="0.5"/>
<line x1="50.1" y1="578.4" x2="51.6" y2="578.4" stroke="#444" stroke-width="0.5"/>
<line x1="50.1" y1="585.2" x2="51.6" y2="585.2" stroke="#444" stroke-width="0.5"/>
<line x1="58.6" y1="591.2" x2="58.6" y2="592.7" stroke="#444" stroke-width="0.5"/>
<line x1="74.3" y1="591.2" x2="74.3" y2="592.7" stroke="#444" stroke-width="0.5"/>
<line x1="90.1" y1="591.2" x2="90.1" y2="592.7" stroke="#444" stroke-width="0.5"/>
<line x1="96.9" y1="591.2" x2="96.9" y2="592.7" stroke="#444" stroke-width="0.5"/>
<text x="52.8" y="547" font-size="4" fill="#000">Q5</text>
<text x="52.8" y="551.4" font-size="4" fill="#000">15.2</text>
<text x="98.1" y="547" font-size="4" text-anchor="end" fill="#000">Q6</text>
<text x="98.1" y="551.4" font-size="4" text-anchor="end" fill="#000">47.1</text>
<text x="52.8" y="585.2" font-size="4" fill="#000">Q8</text>
<text x="52.8" y="589.6" font-size="4" fill="#000">17.2</text>
<text x="98.1" y="585.2" font-size="4" text-anchor="end" fill="#000">Q7</text>
<text x="98.1" y="589.6" font-size="4" text-anchor="end" fill="#000">20.6</text>
<text x="75.75" y="599.9" font-size="4" text-anchor="middle" fill="#000">Comp-PerCP-Cy5-5-A</text>
<text x="40.6" y="566.8" font-size="4" text-anchor="middle" fill="#000" transform="rotate(-90 40.6 566.8)">Comp-APC-A</text>
<line x1="51.6" y1="614.2" x2="99.9" y2="614.2" stroke="#c8c8c8" stroke-width="0.8"/>
<line x1="99.9" y1="614.2" x2="99.9" y2="662.7" stroke="#c8c8c8" stroke-width="0.9"/>
<path d="M68.1 654.4h.8m-1.3-2h.8m-1.4 5.2h.8m-1.9-4.3h.8m-2.7 3.3h.8m5.3-4.3h.8m-3.7 6.2h.8m-5.2-1.4h.8m4.9-.6h.8m-6-6h.8m4.3 2.2h.8m-1.2 2.6h.8m.7 1.2h.8m-3.5-6.5h.8m2.7 2.6h.8m-.8 .1h.8m2.5 1.7h.8m-6.7-.4h.8m-.4-.2h.8m-2.4 7.6h.8m-.1-9.9h.8m-2.7 4.7h.8m3.5 .3h.8m-3.3-2.9h.8m-.9-1.8h.8m3-.1h.8m-4.6 7.3h.8m-4.8-5h.8m4.7-1.5h.8m-1.3 2.4h.8m-.9 1.7h.8m3-3.7h.8m-7.7-4.5h.8m.3 3.5h.8m.4-.1h.8m-.4 .1h.8m-.6 3.9h.8m-3.2-1.4h.8m.8-3.8h.8m.9 6.2h.8m2.2-6h.8m-11.9-8.2h.8m2.6 17.3h.8m6.3-5.2h.8m-10.7-6.8h.8m7.4 2h.8m-9.2 1.8h.8m3.4-4.5h.8m3.1-.6h.8m-.7 11.5h.8m-.7-14.9h.8m-6.5 15.8h.8" fill="none" stroke="#bcbcbc" stroke-width="0.85"/>
<path d="M75.6 636.9h.8m2 8.9h.8m.8-3.2h.8m-3.5-.2h.8m-3.7-3.9h.8m1.7 1.4h.8m4.5-.9h.8m-4.9 3.1h.8m.7-9.1h.8m-4.3 12.8h.8m-.1-4.9h.8m-.5-2.5h.8m-1.1-6.5h.8m3.5 0h.8m-3.9 11.8h.8m-.7-3.4h.8m-.5-.4h.8m-1.6-1.9h.8m-2.7-4.9h.8m1.9 3.3h.8m3 1h.8m-5.9 .8h.8m2.4 2.8h.8m-1 6.3h.8m-3.3-10.8h.8m.1 7.2h.8m-1.5-1.1h.8m2.6 3.5h.8m-3.7-2h.8m-4.2-12.1h.8m3.7 8.5h.8m-3.3-14.2h.8m2.4 17.9h.8m-1.5-7.3h.8m-2.7 2.4h.8m2.2 4.8h.8m-5.5-7.3h.8m-1.8-3.4h.8m6.6 11.6h.8m-2.7-4.9h.8m-3.3-3.9h.8m.1 7h.8m-5.2-4.2h.8m2-6.2h.8m-.1 3.9h.8m-1.1-.3h.8m.8 3h.8m-3.1 .1h.8m2.4-1.6h.8m-5 .4h.8m2-3.6h.8m1.3 6.9h.8m-.4-3.9h.8m-4.4-.1h.8m.8-.9h.8m-2 7h.8m-4.2-6.8h.8m1.9 2.9h.8m-1.5-1.6h.8m-.3-2.9h.8m2.3 5.8h.8m-2.2-2h.8m-1.8-.9h.8m1.4-5.1h.8m.5 8.6h.8m-3.8-5.3h.8m-.5-1.3h.8m.2 3.5h.8m-.9-.1h.8m-.9-1.5h.8m-3.1 .8h.8m1 1.7h.8m-5-6.5h.8m2.4 6.9h.8m-4.4-9.7h.8m3.7 5.6h.8m.7 4.2h.8m2.2 4.2h.8m-6.1-11.4h.8m-3.5 11h.8m2.4-10.8h.8m1.6 10.9h.8m-6.3-12.5h.8m.7 7.3h.8m.7 1.8h.8m-1.3 6.3h.8m-.5-6.9h.8m-3.4 4.1h.8m-.1-3.2h.8m3.6-7.9h.8m-.3 8.5h.8m-2.5-1.1h.8m-.9-.5h.8m1.7-2.4h.8m-.8-2.1h.8m-2.6 3h.8m-1.8 1.5h.8m-1.5 5.9h.8m-.5-10.6h.8m-6.9 7h.8m7.2 1.4h.8m-3.6-12h.8m-3.1 11.4h.8m1.1-5.5h.8m2.4 4.3h.8m-3.1-2.6h.8m.2 4.2h.8m1-4.5h.8m-3.4-5.8h.8m-2.3 4.4h.8m.4 2.7h.8m.6 10h.8m1.5-9.3h.8m-8.8 2.9h.8m5.1-3.9h.8m-1.8-3.3h.8m-.6 .7h.8m-6.1-5.2h.8m4.1 4.8h.8m-1.9 8.3h.8m1.9-9.2h.8m1.2 3.4h.8m-9.3-.5h.8m1.4-3.2h.8m-.4-2.6h.8m.3 3.1h.8m.8 .6h.8m-1.3 4.3h.8m-5.5-1h.8m1.5-8.3h.8m-2.2 8.5h.8m3.1-3h.8m-.8 10.7h.8m1.1-11.2h.8m-3.9 3.3h.8m-2.2 4h.8m1.4-4.1h.8m-3.6 3.2h.8m.9-9.8h.8m.2 4.5h.8m.1-.5h.8m-1.3 4.8h.8m1.3-7.8h.8m-3.9-2.2h.8m-1.7 10.8h.8m4.9 1.8h.8m-4.1 1.3h.8m-3-2.7h.8m1.4-2.6h.8m-1.5-1.3h.8m-5.6-1.4h.8m4.4 2.7h.8m.1 7.4h.8m-.4-8.8h.8m-2.9 2.4h.8m-4.1-4.4h.8m6.3 2.2h.8m-6.7-8.9h.8m1.8 11.7h.8m-5.5-1.5h.8m4.6-4.5h.8m-1.2 5.3h.8m-.3-6.6h.8m-4.2-1.4h.8m4.7 .1h.8m-4 3.4h.8m1.6-8h.8m-7.1 11.9h.8m6.8-9.2h.8m-.4 2.9h.8m-10.7 2.1h.8m6 7.1h.8m-3.1-1.9h.8m2.6-4h.8m-7.5-2.7h.8m2.2 7.7h.8m-.4 1.7h.8m-.3-7.7h.8m2.5-8.6h.8m-4 7.7h.8m-.1 9.4h.8m-.3-2.5h.8m-.9-.6h.8m-1.9 1.7h.8m-2-3.1h.8m-4.1 3.3h.8m5-4.5h.8m-1.6 .7h.8m4 4.5h.8m-10-8.7h.8m1.7-2.2h.8m.9 4.2h.8m-1.6 5.5h.8m.4-5h.8m-1.8-3.8h.8m-.2 16.3h.8m-5.6-16.7h.8m3.4 9h.8m5.6-7.5h.8m-10.4 9.3h.8m5.5-8h.8m-5.7 5.3h.8m6 4.2h.8m-9.1-13h.8m4.8-1.2h.8m-1.9 11.1h.8m-1.5-7.6h.8m-3.3 5.3h.8m1.8-10.2h.8m-.2 13.2h.8m-2.8-4.7h.8m-3.2 3.2h.8m1.8-4.4h.8m-1.6-.4h.8m1.2 4.1h.8m.5-6.1h.8m-3.2 2.4h.8m2.2-2.4h.8m-3.1-1.6h.8m.4 3h.8m3.5 .4h.8m-4.4-7h.8m.4 7.7h.8m-.6-7.2h.8m-2 1.1h.8m-2.3 8.5h.8m-2.8-5.6h.8m-.6 3.8h.8m-3.2-9.3h.8m5.2 12.4h.8m-2.6-1.2h.8m.3-.6h.8m-3.8-.6h.8m-1.6-4.4h.8m-.4 4h.8m4.5-1.4h.8m-1.6-1h.8m-7.2 8.7h.8m4.4-13.4h.8m-.6 3.2h.8m-3.2 6.4h.8m4.4 .6h.8m-6.8 .6h.8m-.1-5h.8m0 7.7h.8m-.2-10.1h.8m-1.8 5.4h.8m.1-1.8h.8m1.4 2.8h.8m-4.1-2h.8m-1.7 .6h.8m2 3h.8m-7.1-3.7h.8m8.1 9.5h.8m-3.9-4.9h.8m5.5-2.7h.8m-5.6-6.1h.8m-2.2 5.9h.8m-3.4-1.1h.8m-1.5 1.3h.8m5.8-7.1h.8m-6 6.5h.8m4.3-4.4h.8m-3.7-.2h.8m.6 6h.8m-4.6-4.4h.8m1.3 3.1h.8m-2.3 1.8h.8m-2.3-10.7h.8m4.8 11.2h.8m-.1-.9h.8m-5.5 2.3h.8m-1.5-5.8h.8m2.4 2.3h.8m-5.6-6.7h.8m-.2 1.3h.8m-1.6-3.3h.8m3.6-.8h.8m1.5 3h.8m-3.8 .5h.8m-4.5-.2h.8m2.9-3.5h.8m1.3 .1h.8m-5.7 14.4h.8m.8-3.6h.8m-.3-6.4h.8m-1.2-2h.8m3.7 .9h.8m-2.9 .8h.8m-1.6-4.2h.8m-4.6 9.1h.8m.6-4.2h.8m-.1-3.1h.8m.2 11.1h.8m-.8-1h.8m-1.1-3.7h.8m.9 3.3h.8m-2.6-3.7h.8m-1.1-4.8h.8m-3.1 11.6h.8m5.3-6.6h.8m-3.3-7.2h.8m-4.5 1.1h.8m.5 3.6h.8m1.8 5.9h.8m-.8 1.5h.8m-5.3 1.9h.8m6-4.9h.8m-5.5 3.2h.8m3.7-3.3h.8m-1.1 4h.8m-.3 .7h.8m-6.3-7.5h.8m2.3-2.9h.8m-3.7 2.8h.8m2.8-.1h.8m.1-3.6h.8m-3.7 9.7h.8m-2 .3h.8m-2.7-10.5h.8m6.2 2.8h.8m-7.7 1.8h.8m4-6.4h.8m.6-.9h.8m-4.6 8.7h.8m-2-4.5h.8m.5 7.2h.8m1.6-.5h.8m.9-5.9h.8m-5.3 2.9h.8m.4-1.1h.8m-.7 4.6h.8m-3.1-6.6h.8m-1.4 7.5h.8m3.8-2.1h.8m-3.7-3.2h.8m-2.8-2.3h.8m1.4 4h.8m-2.1 4.1h.8m-.2-11.3h.8m0 22h.8m-.6 3h.8m2.9-3.2h.8m.1-.6h.8m-5-1.1h.8m-3.4 .9h.8m4.2-3.6h.8m.1-2h.8m-.6 6h.8m-2.4 1.5h.8m-2.5 2.9h.8m2.3-5.5h.8m-.8-1.7h.8m-5 4.1h.8m-4.8-5.9h.8m.6 9.4h.8m5.3-9.2h.8m-2.5 5h.8m-2.5-1.2h.8m-1.6-3h.8m3.9 4.6h.8m-3.7 1.7h.8m.7-10.3h.8m-9.2 6.3h.8m6.8 4.6h.8m-.9-4.3h.8m-.6 .5h.8m-1.4 0h.8m.1 1.4h.8m-1.4 5.5h.8m-2.7-8.7h.8m1.1 2.7h.8m-1.6-.4h.8m1.7-1.3h.8m-1.9 4.6h.8m-4.7-4.4h.8m2.3-3.2h.8m-1.2 2.8h.8m-.9-2.6h.8m-3.6-2.6h.8m3.9 3.5h.8m-4.8 .5h.8m1.3 2.6h.8m.3 2h.8m-2.1-2.2h.8m-2.3 1.4h.8m3.5-6.6h.8m-3.1 3.1h.8m1.8 3.3h.8m-6.2-10.6h.8m-2.5 12.4h.8m2.7-2.3h.8m-.2-4.1h.8m.6-2.4h.8m-5.6 8.6h.8m6-5.5h.8m-4.8 3.1h.8m-4.3 3.2h.8m3.8-5.1h.8m1.1-.2h.8m-2.8-4.1h.8m2.2 2.7h.8m-5.9 5.5h.8m1.1-6.4h.8m-2.2 .7h.8m-.5 3.9h.8m.6 4.1h.8m-3.9-7h.8m5 0h.8m0 3.2h.8m-3.1 2.3h.8m-2.6-6h.8m-4.7 2.3h.8m.8 .8h.8m.5-1.3h.8m7.4 2h.8m-7.7-5.3h.8m-3.1 9.7h.8m1.3-6.8h.8m-4.7 1.6h.8m5 0h.8m-2.6 6.8h.8m-.3-9.4h.8m-.2-6.2h.8m-1.8 12.6h.8m-1.3-4.8h.8m-3.4 .5h.8m1.2 4.3h.8m4.7-6.1h.8m-6.2 1.5h.8m.8 4.9h.8m-2.7-2.1h.8m1.1-8.2h.8m-2.4 9.7h.8m2.3-3.2h.8m-2.5-.3h.8m-.5 1.5h.8m1.4-3.9h.8m-2.5 4h.8m-8.7-.2h.8m6.2-1.4h.8m4.5-6.8h.8m-7.3 7.1h.8m1-2.2h.8m-5.7 1.1h.8m4.6-1.2h.8m.3 3.1h.8m-4.7-5.1h.8m-.8 4.4h.8m-1.3-.5h.8m1.5 1.1h.8m-.9 0h.8m-4-4.1h.8m.8 2.5h.8m-.7-4.6h.8m3.9 6.9h.8m-.5-.1h.8m-4.7-3.4h.8m-2.4-1.7h.8m2.4 7.7h.8m4.8-2.9h.8m-9.8 3.9h.8m-.5-2.9h.8m-3.8 .1h.8m1.7-5.9h.8m-3 8.9h.8m6.7-2.7h.8m-1.5-3h.8m-2.3 7.2h.8m2.1-8.4h.8m-7.4 3.2h.8m3-1.8h.8m-4.1-4h.8m-1.4 1.5h.8m3.1 3.5h.8m-2.7-8.3h.8m-3.2 7.2h.8m3.5-1.3h.8m-2.4-4.3h.8m2-2.1h.8m-6.7 5h.8m-1.3-3.4h.8m1.3 9.4h.8m.4-5.6h.8m2.2-2.9h.8m-.5-3h.8m-3 5.3h.8m1.2 3.1h.8m-1.4-4.6h.8m-2.8 3.6h.8m2.6-.7h.8m-.4 2.3h.8m-9.4 1.3h.8m7.1-3.1h.8m-7.9-2.4h.8m8.9-4.3h.8m-5.7 4.2h.8m-.1-.5h.8m-5.8 8.3h.8m1.1-5.2h.8m-1.2-5.6h.8m4.9 5.9h.8m-4.2 3.8h.8m1-9h.8m-2.6 5.1h.8m-1.1-3.5h.8m3.6 9.5h.8m-3-2.1h.8m-2.6-5.1h.8m.2 1.7h.8m-4.1-1.6h.8m.5 4.5h.8m-.3-.8h.8m1.1-.5h.8m-.4 .2h.8m-6.2-5.2h.8m7.2 2.8h.8m-7.7-2.4h.8m-2.4 9.5h.8m2.2-8.7h.8m-1.4-.4h.8m1.5 5.4h.8m-5.8-2.7h.8m4 1.8h.8m1-1.9h.8m-3.1 .5h.8m-2.6 .3h.8m-2.5-4.1h.8m1.1 5.8h.8m3.9-2.4h.8m-4.7 4.9h.8m.4-5h.8m-2.4-4.5h.8m.3 11.8h.8m1.4-2.4h.8m.7 0h.8m-7.6-4.7h.8m4.4 3.7h.8m-.4-2.9h.8m-2.7-3.9h.8m-.1 7.6h.8m2.5-2.9h.8m-8.9 1.4h.8m1.9-5.8h.8m.2 1h.8m-.1-2h.8m-4 3.5h.8m1.7-4.2h.8m3 8.6h.8m-6.9-6.9h.8m-2.3-.1h.8m3.1-2.3h.8m.1 8.9h.8m2.2-7h.8m-2.1 .2h.8m-3.5 5.8h.8m1.3-3h.8m-5.3-2.3h.8m5.4 6.2h.8m-.2-9.1h.8m-6.8 9h.8m3.7-1.4h.8m-6.4 .3h.8m-1.6-5.6h.8m4.1 3h.8m2.3 1.2h.8m-4.6-5.9h.8m.5 9.5h.8m-4.5-3.7h.8m4.9-5.5h.8m-8.3 4.4h.8m.4 4.9h.8m4.1-.2h.8m.5-3.6h.8m-1.3-4.2h.8m-2.1 4.6h.8m-5.4-2.6h.8m.3 1.6h.8m1.2 2.9h.8m-.3-.9h.8m-1.6-2.8h.8m1.1 5.2h.8m-5.4-2h.8m-.1-5.4h.8m-3.4 6.9h.8m-.7-9.3h.8m5.4 .2h.8m-3.1 7.2h.8m-3.3-3h.8m-1.8 2.9h.8m3.3-7.5h.8m3.3 .2h.8m-1.6 4.9h.8m-2.2-2.7h.8m-.2 3.3h.8m-5.2-.8h.8m-2.7 .1h.8m2 4.9h.8m4.3-8.6h.8m-6.5 6.2h.8m5.2-17h.8m.7-8.1h.8m1.9 12.3h.8m-2.6-8.2h.8m-1.4 9.8h.8m-5.7-5.7h.8m1.5 .8h.8m1.5-7.9h.8m-2.5 6.6h.8m-1.4 8.5h.8m-4.2-16.5h.8m3.2 10.6h.8" fill="none" stroke="#ff2828" stroke-width="0.85"/>
<line x1="72.6" y1="614.2" x2="72.6" y2="662.7" stroke="#666" stroke-width="0.75"/>
<line x1="51.6" y1="648.4" x2="99.9" y2="648.4" stroke="#666" stroke-width="0.75"/>
<line x1="51.6" y1="614.2" x2="51.6" y2="662.7" stroke="#333" stroke-width="0.8"/>
<line x1="51.6" y1="662.7" x2="99.9" y2="662.7" stroke="#333" stroke-width="0.8"/>
<line x1="50.1" y1="618.2" x2="51.6" y2="618.2" stroke="#444" stroke-width="0.5"/>
<line x1="50.1" y1="632.3" x2="51.6" y2="632.3" stroke="#444" stroke-width="0.5"/>
<line x1="50.1" y1="648.4" x2="51.6" y2="648.4" stroke="#444" stroke-width="0.5"/>
<line x1="50.1" y1="656.7" x2="51.6" y2="656.7" stroke="#444" stroke-width="0.5"/>
<line x1="58.6" y1="662.7" x2="58.6" y2="664.2" stroke="#444" stroke-width="0.5"/>
<line x1="72.6" y1="662.7" x2="72.6" y2="664.2" stroke="#444" stroke-width="0.5"/>
<line x1="89.25" y1="662.7" x2="89.25" y2="664.2" stroke="#444" stroke-width="0.5"/>
<line x1="96.9" y1="662.7" x2="96.9" y2="664.2" stroke="#444" stroke-width="0.5"/>
<text x="52.8" y="618.8" font-size="4" fill="#000">Q5</text>
<text x="52.8" y="623.2" font-size="4" fill="#000">3.34</text>
<text x="98.1" y="618.8" font-size="4" text-anchor="end" fill="#000">Q6</text>
<text x="98.1" y="623.2" font-size="4" text-anchor="end" fill="#000">58.4</text>
<text x="52.8" y="656.7" font-size="4" fill="#000">Q8</text>
<text x="52.8" y="661.1" font-size="4" fill="#000">9.71</text>
<text x="98.1" y="656.7" font-size="4" text-anchor="end" fill="#000">Q7</text>
<text x="98.1" y="661.1" font-size="4" text-anchor="end" fill="#000">28.5</text>
<text x="75.75" y="670.9" font-size="4" text-anchor="middle" fill="#000">Comp-PerCP-Cy5-5-A</text>
<text x="40.6" y="638.45" font-size="4" text-anchor="middle" fill="#000" transform="rotate(-90 40.6 638.45)">Comp-APC-A</text>
<path d="M179.5 570.1L179.5 545.4A24.7 24.7 0 0 1 180.02 545.41Z" fill="#0a22ff" stroke="#0a22ff" stroke-width="0.3"/>
<path d="M179.5 570.1L180.02 545.41A24.7 24.7 0 1 1 155.73 563.37Z" fill="#7c7ff6" stroke="#7c7ff6" stroke-width="0.3"/>
<path d="M179.5 570.1L155.73 563.37A24.7 24.7 0 0 1 155.88 562.88Z" fill="#80ccd6" stroke="#80ccd6" stroke-width="0.3"/>
<path d="M179.5 570.1L155.88 562.88A24.7 24.7 0 0 1 179.5 545.4Z" fill="#fbb08d" stroke="#fbb08d" stroke-width="0.3"/>
<path d="M179.5 570.1L179.5 545.4M179.5 570.1L180.02 545.41M179.5 570.1L155.73 563.37M179.5 570.1L155.88 562.88" stroke="#222" stroke-width="0.55" fill="none"/>
<path d="M179.5 646L179.5 621.3A24.7 24.7 0 0 1 191.7 624.52Z" fill="#0a22ff" stroke="#0a22ff" stroke-width="0.3"/>
<path d="M179.5 646L191.7 624.52A24.7 24.7 0 1 1 156.5 655.01Z" fill="#7c7ff6" stroke="#7c7ff6" stroke-width="0.3"/>
<path d="M179.5 646L156.5 655.01A24.7 24.7 0 0 1 155.05 649.48Z" fill="#80ccd6" stroke="#80ccd6" stroke-width="0.3"/>
<path d="M179.5 646L155.05 649.48A24.7 24.7 0 0 1 179.5 621.3Z" fill="#fbb08d" stroke="#fbb08d" stroke-width="0.3"/>
<path d="M179.5 646L179.5 621.3M179.5 646L191.7 624.52M179.5 646L156.5 655.01M179.5 646L155.05 649.48" stroke="#222" stroke-width="0.55" fill="none"/>
<rect x="218.0" y="588.6" width="10.4" height="5.2" fill="#0a22ff"/>
<text x="235" y="594" font-size="8" text-anchor="middle" font-weight="bold" fill="#111">+</text>
<text x="248.3" y="594" font-size="8" text-anchor="middle" font-weight="bold" fill="#111">+</text>
<text x="261.6" y="594" font-size="8" text-anchor="middle" font-weight="bold" fill="#111">+</text>
<rect x="218.0" y="598.3" width="10.4" height="5.2" fill="#7c7ff6"/>
<text x="235" y="603.7" font-size="8" text-anchor="middle" font-weight="bold" fill="#111">+</text>
<text x="248.3" y="603.7" font-size="8" text-anchor="middle" font-weight="bold" fill="#111">+</text>
<text x="261.6" y="603.7" font-size="8" text-anchor="middle" font-weight="bold" fill="#111">-</text>
<rect x="218.0" y="608" width="10.4" height="5.2" fill="#80ccd6"/>
<text x="235" y="613.4" font-size="8" text-anchor="middle" font-weight="bold" fill="#111">+</text>
<text x="248.3" y="613.4" font-size="8" text-anchor="middle" font-weight="bold" fill="#111">-</text>
<text x="261.6" y="613.4" font-size="8" text-anchor="middle" font-weight="bold" fill="#111">+</text>
<rect x="218.0" y="617.7" width="10.4" height="5.2" fill="#fbb08d"/>
<text x="235" y="623.1" font-size="8" text-anchor="middle" font-weight="bold" fill="#111">+</text>
<text x="248.3" y="623.1" font-size="8" text-anchor="middle" font-weight="bold" fill="#111">-</text>
<text x="261.6" y="623.1" font-size="8" text-anchor="middle" font-weight="bold" fill="#111">-</text>
<text x="234.6" y="582.2" font-size="5.6" font-weight="bold" fill="#111" font-family="Liberation Serif, serif" transform="rotate(-33 234.6 582.2)">CD69</text>
<text x="247.4" y="581.6" font-size="5.6" font-weight="bold" fill="#111" font-family="Liberation Serif, serif" transform="rotate(-33 247.4 581.6)">CD103</text>
<text x="260.6" y="582.2" font-size="5.6" font-weight="bold" fill="#111" font-family="Liberation Serif, serif" transform="rotate(-33 260.6 582.2)">IFN-γ</text>
<path d="M313 552.1H410.1V660.3H313Z" fill="none" stroke="#222" stroke-width="1"/>
<line x1="310.5" y1="645.4" x2="313" y2="645.4" stroke="#222" stroke-width="0.9"/>
<line x1="311.5" y1="629.8" x2="313" y2="629.8" stroke="#222" stroke-width="0.9"/>
<line x1="310.5" y1="614.2" x2="313" y2="614.2" stroke="#222" stroke-width="0.9"/>
<line x1="311.5" y1="598.6" x2="313" y2="598.6" stroke="#222" stroke-width="0.9"/>
<line x1="310.5" y1="583" x2="313" y2="583" stroke="#222" stroke-width="0.9"/>
<line x1="311.5" y1="567.4" x2="313" y2="567.4" stroke="#222" stroke-width="0.9"/>
<line x1="310.5" y1="551.8" x2="313" y2="551.8" stroke="#222" stroke-width="0.9"/>
<text x="309.8" y="554.8" font-size="8.4" text-anchor="end">10000</text>
<line x1="310.5" y1="583" x2="313" y2="583" stroke="#222" stroke-width="0.9"/>
<text x="309.8" y="586" font-size="8.4" text-anchor="end">100</text>
<line x1="310.5" y1="614.2" x2="313" y2="614.2" stroke="#222" stroke-width="0.9"/>
<text x="309.8" y="617.2" font-size="8.4" text-anchor="end">1</text>
<line x1="310.5" y1="645.4" x2="313" y2="645.4" stroke="#222" stroke-width="0.9"/>
<text x="309.8" y="648.4" font-size="8.4" text-anchor="end">0.01</text>
<line x1="313.5" y1="645.5" x2="409.6" y2="645.5" stroke="#666" stroke-width="0.7" stroke-dasharray="1.5 1.3"/>
<line x1="323.7" y1="660.3" x2="323.7" y2="663.5" stroke="#222" stroke-width="0.9"/>
<line x1="349.2" y1="660.3" x2="349.2" y2="663.5" stroke="#222" stroke-width="0.9"/>
<line x1="374.2" y1="660.3" x2="374.2" y2="663.5" stroke="#222" stroke-width="0.9"/>
<line x1="399.4" y1="660.3" x2="399.4" y2="663.5" stroke="#222" stroke-width="0.9"/>
<text x="314.3" y="517.2" font-size="8.4">Vaccine encoded</text>
<text x="314.3" y="527.1" font-size="8.4">antigens-specific</text>
<text x="314.3" y="537" font-size="8.4">CD8 T cells 4wk post-</text>
<text x="314.3" y="546.9" font-size="8.4">vaccination (%)</text>
<text x="323.7" y="573.1" font-size="8.4" text-anchor="middle">0.0201</text>
<line x1="319.1" y1="577.7" x2="328.5" y2="577.7" stroke="#222" stroke-width="1"/>
<text x="374.2" y="573.1" font-size="8.4" text-anchor="middle">0.0097</text>
<line x1="369.3" y1="577.7" x2="378.7" y2="577.7" stroke="#222" stroke-width="1"/>
<line x1="316" y1="624.1" x2="322.5" y2="624.1" stroke="#1a1a1a" stroke-width="1"/>
<line x1="325.5" y1="601.8" x2="332" y2="601.8" stroke="#1a1a1a" stroke-width="1"/>
<line x1="341" y1="589.5" x2="348" y2="589.5" stroke="#1a1a1a" stroke-width="1"/>
<line x1="350.5" y1="590.2" x2="357.5" y2="590.2" stroke="#1a1a1a" stroke-width="1"/>
<line x1="366.5" y1="622.2" x2="373.5" y2="622.2" stroke="#1a1a1a" stroke-width="1"/>
<line x1="375.5" y1="611.5" x2="382.5" y2="611.5" stroke="#1a1a1a" stroke-width="1"/>
<line x1="390" y1="597.2" x2="397" y2="597.2" stroke="#1a1a1a" stroke-width="1"/>
<line x1="401" y1="595.9" x2="408" y2="595.9" stroke="#1a1a1a" stroke-width="1"/>
<circle cx="319.1" cy="617.4" r="1.55" fill="#0a1ee6" stroke="#202020" stroke-width="0.5"/>
<circle cx="317.5" cy="624.1" r="1.55" fill="#0a1ee6" stroke="#202020" stroke-width="0.5"/>
<circle cx="321.5" cy="624.1" r="1.55" fill="#0a1ee6" stroke="#202020" stroke-width="0.5"/>
<circle cx="326.9" cy="601.8" r="1.55" fill="#ff2200" stroke="#202020" stroke-width="0.5"/>
<circle cx="330.9" cy="603.2" r="1.55" fill="#ff2200" stroke="#202020" stroke-width="0.5"/>
<circle cx="328.5" cy="611.5" r="1.55" fill="#ff2200" stroke="#202020" stroke-width="0.5"/>
<circle cx="344.6" cy="586" r="1.55" fill="#0a1ee6" stroke="#202020" stroke-width="0.5"/>
<circle cx="342.5" cy="589.7" r="1.55" fill="#0a1ee6" stroke="#202020" stroke-width="0.5"/>
<circle cx="346.5" cy="589.7" r="1.55" fill="#0a1ee6" stroke="#202020" stroke-width="0.5"/>
<circle cx="351.9" cy="589.7" r="1.55" fill="#ff2200" stroke="#202020" stroke-width="0.5"/>
<circle cx="354.6" cy="589.2" r="1.55" fill="#ff2200" stroke="#202020" stroke-width="0.5"/>
<circle cx="356.4" cy="590.5" r="1.55" fill="#ff2200" stroke="#202020" stroke-width="0.5"/>
<circle cx="369.9" cy="616" r="1.55" fill="#0a1ee6" stroke="#202020" stroke-width="0.5"/>
<circle cx="369.9" cy="622.2" r="1.55" fill="#0a1ee6" stroke="#202020" stroke-width="0.5"/>
<circle cx="369.9" cy="645.6" r="1.55" fill="#0a1ee6" stroke="#202020" stroke-width="0.5"/>
<circle cx="378.7" cy="605.3" r="1.55" fill="#ff2200" stroke="#202020" stroke-width="0.5"/>
<circle cx="376.8" cy="611.5" r="1.55" fill="#ff2200" stroke="#202020" stroke-width="0.5"/>
<circle cx="380.9" cy="611.5" r="1.55" fill="#ff2200" stroke="#202020" stroke-width="0.5"/>
<circle cx="393" cy="595.4" r="1.55" fill="#0a1ee6" stroke="#202020" stroke-width="0.5"/>
<circle cx="393" cy="599.9" r="1.55" fill="#0a1ee6" stroke="#202020" stroke-width="0.5"/>
<circle cx="396.2" cy="597.2" r="1.55" fill="#0a1ee6" stroke="#202020" stroke-width="0.5"/>
<circle cx="401.5" cy="595.4" r="1.55" fill="#ff2200" stroke="#202020" stroke-width="0.5"/>
<circle cx="404.2" cy="595.9" r="1.55" fill="#ff2200" stroke="#202020" stroke-width="0.5"/>
<circle cx="406.9" cy="596.4" r="1.55" fill="#ff2200" stroke="#202020" stroke-width="0.5"/>
<text x="288.3" y="675.1" font-size="8.4">CD69</text>
<text x="323.7" y="674.9" font-size="8" text-anchor="middle">+</text>
<text x="349.2" y="674.9" font-size="8" text-anchor="middle">+</text>
<text x="374.2" y="674.9" font-size="8" text-anchor="middle">+</text>
<text x="399.4" y="674.9" font-size="8" text-anchor="middle">+</text>
<text x="288.3" y="685.8" font-size="8.4">IFN-γ</text>
<text x="323.7" y="685.6" font-size="8" text-anchor="middle">+</text>
<text x="349.2" y="685.6" font-size="8" text-anchor="middle">-</text>
<text x="374.2" y="685.6" font-size="8" text-anchor="middle">+</text>
<text x="399.4" y="685.6" font-size="8" text-anchor="middle">-</text>
<text x="288.3" y="695.8" font-size="8.4">CD103</text>
<text x="323.7" y="695.6" font-size="8" text-anchor="middle">+</text>
<text x="349.2" y="695.6" font-size="8" text-anchor="middle">+</text>
<text x="374.2" y="695.6" font-size="8" text-anchor="middle">-</text>
<text x="399.4" y="695.6" font-size="8" text-anchor="middle">-</text>
<circle cx="422.6" cy="601.9" r="1.8" fill="#0a1ee6" stroke="#202020" stroke-width="0.5"/>
<circle cx="422.6" cy="615.5" r="1.8" fill="#ff2200" stroke="#202020" stroke-width="0.5"/>
<text x="432.8" y="604.6" font-size="7.6">HuAd (3x10<tspan dy="-2.6" font-size="4.71">7</tspan><tspan dy="2.6">)</tspan></text>
<text x="432.8" y="618.2" font-size="7.6">ChAd (3x10<tspan dy="-2.6" font-size="4.71">7</tspan><tspan dy="2.6">)</tspan></text>
</svg></body></html>
